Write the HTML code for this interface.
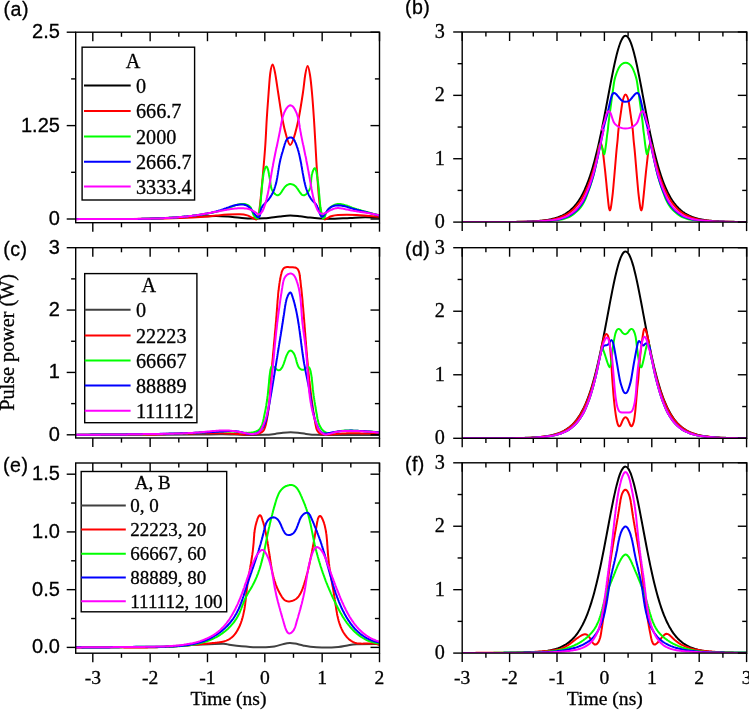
<!DOCTYPE html>
<html><head><meta charset="utf-8"><title>Pulse power</title>
<style>
html,body{margin:0;padding:0;background:#fff;}
body{width:749px;height:710px;overflow:hidden;font-family:"Liberation Sans",sans-serif;}
svg{display:block;will-change:transform;}
text{stroke:#000;stroke-width:0.3px;paint-order:stroke;}
</style></head>
<body>
<svg width="749" height="710" viewBox="0 0 749 710">
<rect width="749" height="710" fill="#fff"/>
<clipPath id="cpa"><rect x="75.70" y="31.20" width="303.80" height="191.50"/></clipPath>
<g clip-path="url(#cpa)" fill="none" stroke-width="2.0" stroke-linejoin="round" stroke-linecap="round">
<path d="M75.00,219.00 C82.50,219.00 107.50,219.05 120.00,219.00 C132.50,218.95 140.00,218.97 150.00,218.70 C160.00,218.43 171.67,217.77 180.00,217.40 C188.33,217.03 194.00,216.73 200.00,216.50 C206.00,216.27 211.33,215.98 216.00,216.00 C220.67,216.02 224.00,216.30 228.00,216.60 C232.00,216.90 236.00,217.47 240.00,217.80 C244.00,218.13 248.00,218.52 252.00,218.60 C256.00,218.68 261.00,218.45 264.00,218.30 C267.00,218.15 267.33,218.02 270.00,217.70 C272.67,217.38 276.63,216.77 280.00,216.40 C283.37,216.03 286.87,215.52 290.20,215.50 C293.53,215.48 296.70,215.95 300.00,216.30 C303.30,216.65 306.67,217.25 310.00,217.60 C313.33,217.95 316.67,218.20 320.00,218.40 C323.33,218.60 325.00,218.88 330.00,218.80 C335.00,218.72 344.17,218.15 350.00,217.90 C355.83,217.65 360.00,217.33 365.00,217.30 C370.00,217.27 377.50,217.63 380.00,217.70" stroke="#000"/>
<path d="M75.00,219.00 C82.50,219.00 107.50,219.03 120.00,219.00 C132.50,218.97 140.00,218.97 150.00,218.80 C160.00,218.63 171.00,218.33 180.00,218.00 C189.00,217.67 198.00,217.20 204.00,216.80 C210.00,216.40 212.00,215.97 216.00,215.60 C220.00,215.23 224.00,214.82 228.00,214.60 C232.00,214.38 236.78,214.17 240.00,214.30 C243.22,214.43 245.30,214.85 247.30,215.40 C249.30,215.95 250.47,216.93 252.00,217.60 C253.53,218.27 255.37,220.00 256.50,219.40 C257.63,218.80 258.10,217.52 258.80,214.00 C259.50,210.48 259.90,206.18 260.70,198.30 C261.50,190.42 262.82,175.80 263.60,166.70 C264.38,157.60 264.87,151.77 265.40,143.70 C265.93,135.63 266.27,126.75 266.80,118.30 C267.33,109.85 268.02,100.55 268.60,93.00 C269.18,85.45 269.62,77.75 270.30,73.00 C270.98,68.25 271.90,64.50 272.70,64.50 C273.50,64.50 274.18,68.25 275.10,73.00 C276.02,77.75 277.02,85.45 278.20,93.00 C279.38,100.55 280.78,110.92 282.20,118.30 C283.62,125.68 285.37,132.85 286.70,137.30 C288.03,141.75 288.98,145.00 290.20,145.00 C291.42,145.00 292.58,141.75 294.00,137.30 C295.42,132.85 297.22,125.68 298.70,118.30 C300.18,110.92 301.82,100.22 302.90,93.00 C303.98,85.78 304.42,79.48 305.20,75.00 C305.98,70.52 306.80,66.10 307.60,66.10 C308.40,66.10 309.27,70.52 310.00,75.00 C310.73,79.48 311.35,85.78 312.00,93.00 C312.65,100.22 313.33,109.85 313.90,118.30 C314.47,126.75 314.93,135.63 315.40,143.70 C315.87,151.77 316.10,157.60 316.70,166.70 C317.30,175.80 318.20,190.42 319.00,198.30 C319.80,206.18 320.58,210.48 321.50,214.00 C322.42,217.52 322.92,219.02 324.50,219.40 C326.08,219.78 328.75,217.05 331.00,216.30 C333.25,215.55 333.72,215.13 338.00,214.90 C342.28,214.67 349.70,214.58 356.70,214.90 C363.70,215.22 376.12,216.48 380.00,216.80" stroke="#ff0000"/>
<path d="M75.02,219.06L76.0,219.1L77.0,219.0L78.0,219.0L79.0,219.0L80.0,219.0L81.0,219.0L82.0,219.0L83.0,219.0L84.0,219.0L85.0,219.0L86.0,219.0L87.0,219.0L88.0,219.0L89.0,219.0L90.0,219.0L91.0,219.0L92.0,219.0L93.0,219.0L94.0,219.0L95.0,219.0L96.0,219.0L97.1,219.0L98.1,219.0L99.1,219.0L100.1,219.0L101.1,219.0L102.1,219.0L103.1,219.0L104.1,219.0L105.1,219.0L106.1,219.0L107.1,219.0L108.1,219.0L109.1,219.0L110.1,219.0L111.1,219.0L112.1,219.0L113.1,219.0L114.1,219.0L115.1,219.0L116.1,219.0L117.1,219.0L118.1,219.0L119.1,219.0L120.1,219.0L121.1,219.0L122.1,219.0L123.1,219.0L124.1,219.0L125.1,219.0L126.2,219.0L127.2,219.0L128.2,219.0L129.2,219.0L130.2,219.0L131.2,219.0L132.2,219.0L133.2,218.9L134.2,218.9L135.2,218.9L136.2,218.9L137.2,218.9L138.2,218.9L139.2,218.9L140.2,218.9L141.2,218.8L142.2,218.8L143.2,218.8L144.2,218.8L145.2,218.8L146.2,218.7L147.2,218.7L148.2,218.7L149.2,218.7L150.2,218.6L151.2,218.6L152.2,218.6L153.2,218.5L154.2,218.5L155.2,218.5L156.2,218.4L157.2,218.4L158.3,218.4L159.3,218.3L160.3,218.3L161.3,218.2L162.3,218.2L163.3,218.1L164.3,218.1L165.3,218.0L166.3,218.0L167.3,217.9L168.3,217.9L169.3,217.8L170.3,217.7L171.3,217.7L172.3,217.6L173.3,217.5L174.3,217.5L175.3,217.4L176.3,217.3L177.3,217.2L178.3,217.2L179.2,217.1L180.2,217.0L181.2,216.9L182.2,216.8L183.2,216.7L184.2,216.6L185.2,216.5L186.2,216.4L187.2,216.3L188.2,216.2L189.2,216.1L190.2,216.0L191.2,215.9L192.2,215.8L193.2,215.7L194.2,215.5L195.2,215.4L196.2,215.3L197.2,215.2L198.2,215.0L199.2,214.9L200.2,214.8L201.1,214.6L202.1,214.5L203.1,214.3L204.1,214.2L205.1,214.0L206.1,213.8L207.1,213.7L208.1,213.5L209.1,213.3L210.0,213.1L211.0,212.9L212.0,212.7L213.0,212.5L214.0,212.3L215.0,212.1L215.9,211.9L216.9,211.6L217.9,211.4L218.9,211.1L219.8,210.9L220.8,210.6L221.8,210.3L222.7,210.0L223.7,209.7L224.7,209.4L225.6,209.0L226.6,208.7L227.5,208.4L228.5,208.0L229.4,207.6L230.4,207.2L231.3,206.9L232.3,206.5L233.2,206.1L234.2,205.8L235.1,205.4L236.1,205.1L237.0,204.8L238.0,204.6L238.9,204.4L239.9,204.2L240.8,204.1L241.8,204.0L242.8,204.0L243.7,204.0L244.7,204.1L245.6,204.3L246.5,204.6L247.4,204.9L248.3,205.3L249.0,205.8L249.7,206.4L250.4,207.1L250.9,207.9L251.3,208.8L251.7,209.8L252.1,210.8L252.4,211.9L252.8,213.0L253.2,214.1L253.6,215.1L254.2,216.1L254.8,217.0L255.4,217.7L256.1,218.3L256.7,218.5L257.2,218.5L257.7,218.1L258.1,217.5L258.4,216.6L258.7,215.5L258.9,214.4L259.1,213.2L259.3,212.1L259.5,211.0L259.6,210.1L259.8,209.1L259.9,208.1L260.0,207.2L260.2,206.2L260.3,205.2L260.4,204.3L260.5,203.3L260.6,202.3L260.7,201.3L260.8,200.3L260.9,199.3L261.0,198.3L261.0,197.3L261.1,196.3L261.2,195.3L261.3,194.3L261.4,193.3L261.5,192.3L261.6,191.3L261.6,190.3L261.7,189.3L261.8,188.3L261.9,187.3L262.0,186.3L262.1,185.3L262.2,184.3L262.3,183.3L262.4,182.3L262.5,181.3L262.6,180.3L262.8,179.3L262.9,178.3L263.0,177.3L263.2,176.3L263.3,175.3L263.5,174.3L263.6,173.3L263.8,172.4L264.1,171.4L264.4,170.4L264.7,169.4L265.0,168.4L265.5,167.5L265.9,166.8L266.4,166.5L266.9,166.9L267.3,167.6L267.7,168.6L268.0,169.6L268.3,170.6L268.5,171.6L268.7,172.7L268.9,173.7L269.0,174.7L269.2,175.7L269.4,176.7L269.6,177.7L269.8,178.7L270.0,179.6L270.1,180.6L270.3,181.6L270.4,182.5L270.5,183.5L270.6,184.5L270.7,185.5L270.9,186.4L271.1,187.4L271.4,188.4L271.8,189.4L272.3,190.4L272.8,191.3L273.5,192.3L274.2,193.1L274.9,193.9L275.7,194.5L276.4,194.9L277.2,195.2L277.9,195.2L278.6,195.0L279.3,194.6L279.9,194.0L280.5,193.3L281.1,192.5L281.8,191.6L282.4,190.6L283.0,189.6L283.6,188.7L284.3,187.7L285.0,186.9L285.7,186.1L286.5,185.5L287.3,184.9L288.1,184.6L288.9,184.3L289.8,184.1L290.6,184.1L291.5,184.2L292.3,184.4L293.2,184.7L294.0,185.1L294.8,185.7L295.5,186.3L296.3,187.1L296.9,188.0L297.6,188.9L298.3,189.9L298.9,190.9L299.5,191.8L300.1,192.7L300.8,193.5L301.4,194.2L302.0,194.8L302.7,195.1L303.4,195.3L304.2,195.3L304.9,195.0L305.7,194.5L306.4,193.9L307.2,193.1L307.9,192.3L308.5,191.3L309.1,190.4L309.6,189.4L310.0,188.4L310.3,187.5L310.5,186.5L310.7,185.5L310.8,184.6L310.9,183.6L311.0,182.6L311.1,181.7L311.1,180.7L311.2,179.7L311.3,178.6L311.4,177.6L311.6,176.6L311.7,175.5L311.9,174.5L312.2,173.5L312.5,172.4L312.8,171.4L313.2,170.4L313.6,169.6L314.0,168.8L314.4,168.4L314.8,168.2L315.2,168.4L315.5,168.9L315.8,169.7L316.1,170.6L316.4,171.7L316.6,172.9L316.8,174.1L317.0,175.4L317.2,176.7L317.4,177.8L317.5,178.9L317.7,179.9L317.8,180.9L318.0,181.8L318.1,182.7L318.2,183.6L318.3,184.5L318.4,185.4L318.5,186.3L318.6,187.2L318.7,188.2L318.8,189.2L318.9,190.2L319.0,191.2L319.0,192.2L319.1,193.3L319.2,194.3L319.3,195.4L319.4,196.4L319.5,197.5L319.6,198.5L319.6,199.5L319.7,200.5L319.8,201.5L319.9,202.5L320.0,203.5L320.1,204.4L320.2,205.4L320.3,206.4L320.4,207.3L320.6,208.3L320.7,209.3L320.9,210.2L321.1,211.2L321.3,212.3L321.5,213.3L321.7,214.3L322.0,215.4L322.2,216.5L322.5,217.5L322.9,218.3L323.3,218.6L323.8,218.3L324.3,217.6L324.8,216.7L325.2,215.7L325.5,214.6L325.9,213.6L326.3,212.6L326.8,211.7L327.3,210.8L327.9,209.9L328.5,209.1L329.2,208.4L329.9,207.7L330.7,207.1L331.4,206.5L332.2,206.0L333.1,205.5L333.9,205.1L334.8,204.8L335.7,204.5L336.6,204.3L337.6,204.1L338.5,204.1L339.4,204.1L340.4,204.1L341.4,204.2L342.3,204.4L343.3,204.6L344.3,204.9L345.2,205.2L346.2,205.5L347.2,205.8L348.2,206.2L349.2,206.5L350.1,206.9L351.1,207.2L352.1,207.6L353.1,207.9L354.0,208.3L355.0,208.6L356.0,208.9L356.9,209.2L357.9,209.5L358.8,209.8L359.8,210.1L360.7,210.3L361.7,210.6L362.6,210.9L363.6,211.1L364.5,211.4L365.5,211.6L366.5,211.9L367.4,212.1L368.4,212.4L369.3,212.6L370.3,212.9L371.2,213.1L372.2,213.4L373.2,213.7L374.1,213.9L375.1,214.2L376.1,214.5L377.1,214.8L378.1,215.1L379.0,215.4L380.0,215.7" stroke="#00ff00"/>
<path d="M75.01,219.13L76.0,219.1L77.0,219.1L78.0,219.1L79.0,219.1L80.0,219.0L81.0,219.0L82.0,219.0L83.0,219.0L84.0,219.0L85.0,219.0L86.0,219.0L87.0,219.0L88.0,219.0L89.0,218.9L90.0,218.9L91.1,218.9L92.1,218.9L93.1,218.9L94.1,218.9L95.1,218.9L96.1,218.9L97.1,218.9L98.1,218.9L99.1,218.9L100.1,218.9L101.1,218.9L102.1,218.9L103.1,218.9L104.1,218.9L105.1,218.9L106.1,218.9L107.1,218.9L108.1,218.9L109.1,218.9L110.1,218.9L111.1,219.0L112.1,219.0L113.1,219.0L114.1,219.0L115.1,219.0L116.1,219.0L117.2,219.0L118.2,219.0L119.2,219.0L120.2,219.0L121.2,219.0L122.2,219.0L123.2,219.0L124.2,219.0L125.2,219.0L126.2,219.0L127.2,219.0L128.2,219.0L129.2,219.0L130.2,219.0L131.2,219.0L132.2,218.9L133.2,218.9L134.2,218.9L135.2,218.9L136.2,218.9L137.2,218.9L138.2,218.9L139.2,218.9L140.2,218.9L141.2,218.9L142.2,218.8L143.2,218.8L144.3,218.8L145.3,218.8L146.3,218.8L147.3,218.7L148.3,218.7L149.3,218.7L150.3,218.7L151.3,218.6L152.3,218.6L153.3,218.6L154.3,218.6L155.3,218.5L156.3,218.5L157.3,218.4L158.3,218.4L159.3,218.4L160.3,218.3L161.3,218.3L162.3,218.2L163.3,218.2L164.3,218.1L165.3,218.1L166.3,218.0L167.3,218.0L168.3,217.9L169.3,217.8L170.3,217.8L171.3,217.7L172.3,217.7L173.3,217.6L174.3,217.5L175.3,217.4L176.3,217.4L177.3,217.3L178.3,217.2L179.3,217.1L180.3,217.0L181.3,216.9L182.3,216.8L183.3,216.7L184.3,216.6L185.3,216.5L186.3,216.4L187.3,216.3L188.3,216.2L189.3,216.1L190.3,216.0L191.3,215.9L192.3,215.8L193.3,215.6L194.3,215.5L195.3,215.4L196.3,215.2L197.3,215.1L198.3,215.0L199.3,214.8L200.3,214.7L201.3,214.5L202.3,214.4L203.3,214.2L204.2,214.0L205.2,213.8L206.2,213.7L207.2,213.5L208.2,213.3L209.2,213.1L210.1,212.9L211.1,212.7L212.1,212.4L213.1,212.2L214.0,212.0L215.0,211.7L216.0,211.5L216.9,211.2L217.9,210.9L218.8,210.6L219.8,210.4L220.7,210.1L221.6,209.7L222.6,209.4L223.5,209.1L224.4,208.8L225.4,208.4L226.3,208.1L227.2,207.7L228.2,207.4L229.1,207.1L230.1,206.7L231.0,206.4L232.0,206.1L233.0,205.8L234.0,205.6L235.0,205.3L236.1,205.1L237.1,204.9L238.1,204.7L239.2,204.6L240.2,204.5L241.2,204.5L242.2,204.5L243.2,204.6L244.2,204.7L245.1,204.9L246.0,205.2L246.9,205.6L247.7,206.1L248.4,206.6L249.2,207.2L249.9,207.9L250.6,208.6L251.2,209.4L251.8,210.2L252.5,211.1L253.1,211.9L253.7,212.7L254.3,213.6L254.9,214.4L255.6,215.2L256.3,216.0L256.9,216.7L257.6,217.2L258.3,217.4L258.9,217.2L259.4,216.6L259.8,215.7L260.1,214.7L260.3,213.5L260.4,212.3L260.6,211.1L260.8,210.0L261.1,209.0L261.4,208.1L261.9,207.2L262.4,206.4L262.9,205.6L263.5,204.8L264.2,204.1L264.8,203.4L265.5,202.8L266.2,202.1L266.8,201.4L267.5,200.7L268.1,200.0L268.7,199.3L269.3,198.5L269.9,197.7L270.4,196.9L270.9,196.1L271.4,195.3L271.9,194.5L272.4,193.6L272.8,192.7L273.2,191.8L273.6,190.9L274.0,190.0L274.3,189.1L274.6,188.2L274.9,187.2L275.2,186.3L275.5,185.3L275.8,184.4L276.0,183.4L276.3,182.4L276.5,181.4L276.7,180.4L276.9,179.4L277.1,178.4L277.3,177.4L277.4,176.4L277.6,175.4L277.8,174.4L277.9,173.4L278.1,172.4L278.2,171.4L278.4,170.4L278.6,169.4L278.7,168.4L278.9,167.4L279.0,166.4L279.2,165.4L279.4,164.4L279.6,163.4L279.8,162.4L280.0,161.5L280.2,160.5L280.4,159.5L280.6,158.6L280.9,157.7L281.1,156.7L281.4,155.8L281.6,154.8L281.9,153.9L282.2,152.9L282.5,152.0L282.8,151.0L283.0,150.1L283.3,149.1L283.6,148.1L283.9,147.1L284.2,146.1L284.5,145.0L284.8,144.0L285.2,143.0L285.5,142.0L285.9,141.0L286.4,140.2L286.9,139.4L287.5,138.7L288.2,138.2L289.0,137.8L289.9,137.5L290.8,137.5L291.6,137.6L292.4,138.0L293.1,138.5L293.7,139.3L294.3,140.2L294.8,141.1L295.2,142.1L295.7,143.2L296.1,144.2L296.4,145.2L296.8,146.1L297.1,147.1L297.5,148.1L297.8,149.0L298.0,150.0L298.3,150.9L298.6,151.8L298.8,152.8L299.1,153.7L299.3,154.7L299.5,155.6L299.7,156.6L299.9,157.6L300.1,158.5L300.3,159.5L300.5,160.5L300.7,161.5L300.9,162.4L301.1,163.4L301.3,164.4L301.4,165.4L301.6,166.4L301.8,167.4L302.0,168.4L302.1,169.4L302.3,170.4L302.5,171.4L302.6,172.4L302.8,173.4L303.0,174.4L303.2,175.4L303.4,176.4L303.5,177.3L303.7,178.3L303.9,179.3L304.1,180.3L304.3,181.3L304.6,182.3L304.8,183.3L305.0,184.3L305.3,185.3L305.5,186.2L305.8,187.2L306.1,188.2L306.4,189.1L306.7,190.0L307.1,191.0L307.4,191.9L307.8,192.8L308.2,193.7L308.6,194.6L309.0,195.4L309.5,196.3L310.0,197.1L310.5,198.0L311.0,198.8L311.6,199.5L312.2,200.3L312.8,201.0L313.5,201.7L314.1,202.4L314.8,203.0L315.5,203.7L316.1,204.4L316.6,205.3L317.1,206.1L317.5,207.1L317.9,208.0L318.3,209.1L318.6,210.1L318.9,211.1L319.3,212.2L319.6,213.2L320.0,214.1L320.4,215.0L320.8,215.8L321.3,216.4L321.8,216.7L322.3,216.8L322.8,216.5L323.4,216.0L323.9,215.4L324.5,214.6L325.1,213.6L325.8,212.7L326.5,211.7L327.2,210.7L327.9,209.8L328.6,209.0L329.4,208.3L330.2,207.7L331.0,207.2L331.9,206.7L332.8,206.3L333.6,206.0L334.5,205.8L335.4,205.6L336.4,205.4L337.3,205.4L338.2,205.3L339.2,205.4L340.2,205.4L341.1,205.5L342.1,205.7L343.1,205.9L344.0,206.1L345.0,206.3L346.0,206.6L347.0,206.9L348.0,207.2L348.9,207.5L349.9,207.8L350.9,208.1L351.9,208.4L352.8,208.7L353.8,209.0L354.8,209.3L355.8,209.5L356.7,209.8L357.7,210.0L358.7,210.3L359.6,210.5L360.6,210.8L361.6,211.0L362.5,211.3L363.5,211.5L364.5,211.7L365.4,212.0L366.4,212.2L367.4,212.4L368.3,212.7L369.3,212.9L370.3,213.2L371.3,213.4L372.2,213.7L373.2,213.9L374.2,214.2L375.1,214.4L376.1,214.7L377.1,215.0L378.1,215.3L379.0,215.6L380.0,215.9" stroke="#0000ff"/>
<path d="M75.05,219.25L76.1,219.2L77.0,219.2L78.0,219.2L79.0,219.1L80.0,219.1L81.0,219.1L82.0,219.1L83.0,219.0L84.0,219.0L85.0,219.0L86.0,219.0L87.0,219.0L88.0,219.0L89.0,218.9L90.0,218.9L91.0,218.9L92.0,218.9L93.0,218.9L94.0,218.9L95.0,218.9L96.0,218.9L97.0,218.9L98.0,218.9L99.0,218.9L100.0,218.9L101.1,218.9L102.1,218.9L103.1,218.9L104.1,218.9L105.1,218.9L106.1,218.9L107.1,218.9L108.1,218.9L109.1,218.9L110.1,218.9L111.1,218.9L112.1,218.9L113.1,218.9L114.1,218.9L115.1,218.9L116.1,218.9L117.1,218.9L118.1,218.9L119.1,218.9L120.1,218.9L121.1,218.9L122.1,218.9L123.1,218.9L124.1,218.9L125.2,218.9L126.2,218.9L127.2,218.9L128.2,218.9L129.2,218.9L130.2,218.9L131.2,218.9L132.2,218.9L133.2,218.9L134.2,218.9L135.2,218.9L136.2,218.9L137.2,218.9L138.2,218.8L139.2,218.8L140.2,218.8L141.2,218.8L142.2,218.8L143.2,218.8L144.2,218.8L145.3,218.8L146.3,218.7L147.3,218.7L148.3,218.7L149.3,218.7L150.3,218.7L151.3,218.6L152.3,218.6L153.3,218.6L154.3,218.6L155.3,218.5L156.3,218.5L157.3,218.5L158.3,218.4L159.3,218.4L160.3,218.3L161.3,218.3L162.3,218.3L163.3,218.2L164.3,218.2L165.3,218.1L166.3,218.1L167.3,218.0L168.3,217.9L169.3,217.9L170.3,217.8L171.3,217.8L172.3,217.7L173.3,217.6L174.3,217.5L175.3,217.5L176.3,217.4L177.3,217.3L178.3,217.2L179.3,217.1L180.3,217.1L181.3,217.0L182.3,216.9L183.3,216.8L184.3,216.7L185.3,216.6L186.3,216.5L187.3,216.4L188.3,216.2L189.3,216.1L190.3,216.0L191.3,215.9L192.2,215.8L193.2,215.6L194.2,215.5L195.2,215.4L196.2,215.2L197.2,215.1L198.2,214.9L199.2,214.8L200.2,214.6L201.2,214.5L202.2,214.3L203.1,214.1L204.1,214.0L205.1,213.8L206.1,213.6L207.1,213.4L208.1,213.3L209.1,213.1L210.1,212.9L211.0,212.7L212.0,212.5L213.0,212.3L214.0,212.1L215.0,211.9L216.0,211.7L217.0,211.6L217.9,211.4L218.9,211.2L219.9,211.0L220.9,210.8L221.9,210.6L222.9,210.4L223.9,210.3L224.9,210.1L225.9,209.9L226.8,209.7L227.8,209.6L228.8,209.4L229.8,209.3L230.8,209.1L231.8,209.0L232.8,208.8L233.8,208.7L234.8,208.6L235.8,208.5L236.8,208.4L237.8,208.3L238.8,208.2L239.8,208.2L240.8,208.2L241.7,208.2L242.7,208.2L243.7,208.3L244.7,208.4L245.6,208.5L246.6,208.6L247.5,208.8L248.5,209.0L249.4,209.3L250.3,209.6L251.2,210.0L252.1,210.4L253.0,210.8L253.9,211.3L254.8,211.9L255.7,212.5L256.5,213.1L257.3,213.8L258.2,214.2L259.0,214.3L259.7,214.1L260.5,213.6L261.1,213.0L261.7,212.2L262.3,211.4L262.8,210.5L263.2,209.5L263.7,208.5L264.0,207.4L264.4,206.4L264.7,205.4L265.1,204.4L265.4,203.4L265.7,202.4L265.9,201.4L266.2,200.4L266.5,199.5L266.7,198.5L266.9,197.6L267.1,196.6L267.4,195.6L267.6,194.7L267.8,193.7L268.0,192.8L268.2,191.8L268.4,190.8L268.6,189.9L268.7,188.9L268.9,187.9L269.1,186.9L269.3,186.0L269.5,185.0L269.7,184.0L269.8,183.0L270.0,182.0L270.2,181.1L270.4,180.1L270.5,179.1L270.7,178.1L270.9,177.1L271.0,176.1L271.2,175.1L271.4,174.1L271.5,173.1L271.7,172.1L271.9,171.1L272.1,170.1L272.2,169.1L272.4,168.1L272.6,167.2L272.8,166.2L273.0,165.2L273.1,164.2L273.3,163.2L273.5,162.2L273.7,161.2L273.9,160.2L274.1,159.2L274.3,158.2L274.5,157.3L274.7,156.3L274.9,155.3L275.1,154.3L275.3,153.3L275.5,152.3L275.7,151.4L275.9,150.4L276.1,149.4L276.3,148.4L276.6,147.4L276.8,146.5L277.0,145.5L277.2,144.5L277.4,143.5L277.6,142.5L277.8,141.6L278.0,140.6L278.2,139.6L278.4,138.6L278.6,137.6L278.8,136.7L279.0,135.7L279.2,134.7L279.4,133.7L279.6,132.8L279.8,131.8L280.0,130.8L280.2,129.8L280.4,128.8L280.5,127.8L280.7,126.9L280.9,125.9L281.0,124.9L281.2,123.9L281.4,122.9L281.6,121.9L281.8,121.0L282.0,120.0L282.2,119.0L282.4,118.0L282.7,117.0L283.0,116.1L283.3,115.1L283.7,114.1L284.0,113.1L284.4,112.2L284.9,111.2L285.4,110.2L285.9,109.3L286.5,108.4L287.1,107.6L287.7,106.9L288.3,106.3L289.0,105.8L289.6,105.5L290.3,105.3L290.9,105.4L291.5,105.6L292.2,106.0L292.8,106.5L293.4,107.2L293.9,107.9L294.5,108.8L295.0,109.8L295.5,110.8L296.0,111.8L296.5,112.9L296.9,114.0L297.2,115.0L297.6,116.1L297.9,117.1L298.1,118.1L298.4,119.1L298.6,120.1L298.8,121.1L298.9,122.0L299.1,123.0L299.3,123.9L299.4,124.9L299.5,125.8L299.7,126.8L299.8,127.7L300.0,128.7L300.2,129.6L300.3,130.6L300.5,131.6L300.7,132.5L300.9,133.5L301.0,134.5L301.2,135.5L301.4,136.4L301.6,137.4L301.8,138.4L302.0,139.4L302.2,140.4L302.4,141.4L302.6,142.4L302.8,143.3L303.0,144.3L303.3,145.3L303.5,146.3L303.7,147.3L303.9,148.3L304.1,149.3L304.3,150.3L304.5,151.3L304.7,152.3L304.9,153.3L305.1,154.3L305.3,155.3L305.6,156.3L305.8,157.3L306.0,158.2L306.2,159.2L306.3,160.2L306.5,161.2L306.7,162.2L306.9,163.2L307.1,164.2L307.3,165.1L307.5,166.1L307.7,167.1L307.8,168.1L308.0,169.1L308.2,170.1L308.4,171.0L308.6,172.0L308.7,173.0L308.9,174.0L309.1,175.0L309.3,175.9L309.4,176.9L309.6,177.9L309.8,178.9L310.0,179.9L310.1,180.8L310.3,181.8L310.5,182.8L310.7,183.8L310.8,184.8L311.0,185.7L311.2,186.7L311.4,187.7L311.5,188.7L311.7,189.7L311.9,190.7L312.1,191.7L312.3,192.7L312.5,193.7L312.7,194.6L312.9,195.6L313.1,196.6L313.3,197.6L313.6,198.6L313.8,199.6L314.1,200.6L314.4,201.6L314.7,202.5L315.0,203.5L315.3,204.5L315.6,205.5L316.0,206.4L316.4,207.4L316.8,208.3L317.2,209.3L317.6,210.2L318.1,211.0L318.6,211.7L319.2,212.4L319.8,213.0L320.4,213.4L321.0,213.7L321.8,213.8L322.5,213.8L323.3,213.7L324.1,213.5L325.0,213.1L325.9,212.7L326.8,212.3L327.7,211.8L328.6,211.2L329.6,210.7L330.6,210.2L331.6,209.7L332.6,209.3L333.6,208.9L334.6,208.6L335.6,208.3L336.6,208.2L337.5,208.1L338.5,208.1L339.5,208.2L340.5,208.2L341.5,208.4L342.5,208.5L343.5,208.7L344.4,208.9L345.4,209.2L346.4,209.4L347.4,209.6L348.4,209.8L349.4,210.0L350.4,210.2L351.3,210.4L352.3,210.6L353.3,210.8L354.3,210.9L355.3,211.1L356.3,211.2L357.3,211.4L358.3,211.6L359.3,211.7L360.3,211.9L361.3,212.0L362.2,212.2L363.2,212.3L364.2,212.4L365.2,212.6L366.2,212.8L367.2,212.9L368.2,213.1L369.2,213.2L370.2,213.4L371.1,213.6L372.1,213.8L373.1,214.0L374.1,214.1L375.1,214.4L376.1,214.6L377.0,214.8L378.0,215.0L379.0,215.3L380.0,215.5" stroke="#ff00ff"/>
</g>
<clipPath id="cpc"><rect x="75.70" y="246.70" width="303.80" height="191.30"/></clipPath>
<g clip-path="url(#cpc)" fill="none" stroke-width="2.0" stroke-linejoin="round" stroke-linecap="round">
<path d="M75.00,434.90 C89.17,434.88 139.17,434.87 160.00,434.80 C180.83,434.73 189.50,434.58 200.00,434.50 C210.50,434.42 215.50,434.23 223.00,434.30 C230.50,434.37 238.00,434.82 245.00,434.90 C252.00,434.98 260.00,434.97 265.00,434.80 C270.00,434.63 272.00,434.23 275.00,433.90 C278.00,433.57 280.40,433.07 283.00,432.80 C285.60,432.53 288.10,432.30 290.60,432.30 C293.10,432.30 295.43,432.53 298.00,432.80 C300.57,433.07 303.00,433.57 306.00,433.90 C309.00,434.23 310.33,434.62 316.00,434.80 C321.67,434.98 329.33,434.97 340.00,435.00 C350.67,435.03 373.33,435.00 380.00,435.00" stroke="#404040"/>
<path d="M75.01,434.92L76.0,434.9L77.0,434.9L78.0,434.8L79.0,434.8L80.0,434.8L81.0,434.8L82.0,434.8L83.0,434.8L84.0,434.7L85.0,434.7L86.0,434.7L87.0,434.7L88.0,434.7L89.0,434.7L90.0,434.7L91.0,434.6L92.0,434.6L93.0,434.6L94.1,434.6L95.1,434.6L96.1,434.6L97.1,434.6L98.1,434.6L99.1,434.6L100.1,434.6L101.1,434.6L102.1,434.6L103.1,434.6L104.1,434.6L105.1,434.6L106.1,434.6L107.1,434.6L108.1,434.6L109.1,434.6L110.1,434.6L111.1,434.6L112.1,434.6L113.1,434.6L114.1,434.6L115.1,434.6L116.1,434.6L117.1,434.6L118.1,434.6L119.1,434.6L120.1,434.6L121.1,434.6L122.1,434.6L123.1,434.6L124.1,434.6L125.1,434.6L126.1,434.6L127.2,434.6L128.2,434.6L129.2,434.6L130.2,434.6L131.2,434.6L132.2,434.6L133.2,434.6L134.2,434.6L135.2,434.6L136.2,434.6L137.2,434.6L138.2,434.5L139.2,434.5L140.2,434.5L141.2,434.5L142.2,434.5L143.2,434.5L144.2,434.5L145.2,434.5L146.2,434.5L147.2,434.5L148.2,434.5L149.2,434.5L150.2,434.5L151.2,434.4L152.2,434.4L153.2,434.4L154.2,434.4L155.2,434.4L156.2,434.4L157.2,434.3L158.2,434.3L159.2,434.3L160.2,434.3L161.3,434.3L162.3,434.2L163.3,434.2L164.3,434.2L165.3,434.2L166.3,434.1L167.3,434.1L168.3,434.1L169.3,434.1L170.3,434.0L171.3,434.0L172.3,434.0L173.3,433.9L174.3,433.9L175.3,433.9L176.3,433.9L177.3,433.8L178.3,433.8L179.3,433.8L180.3,433.7L181.3,433.7L182.3,433.7L183.3,433.6L184.3,433.6L185.3,433.6L186.3,433.6L187.3,433.5L188.3,433.5L189.3,433.5L190.3,433.4L191.3,433.4L192.3,433.4L193.3,433.4L194.3,433.4L195.3,433.3L196.3,433.3L197.3,433.3L198.3,433.3L199.3,433.3L200.3,433.2L201.3,433.2L202.3,433.2L203.3,433.2L204.4,433.2L205.4,433.2L206.4,433.2L207.4,433.2L208.4,433.2L209.4,433.2L210.4,433.2L211.4,433.2L212.4,433.2L213.4,433.2L214.4,433.2L215.4,433.2L216.4,433.2L217.4,433.2L218.4,433.2L219.4,433.2L220.4,433.3L221.4,433.3L222.4,433.3L223.4,433.3L224.4,433.4L225.4,433.4L226.4,433.4L227.4,433.5L228.4,433.5L229.4,433.6L230.4,433.6L231.4,433.7L232.4,433.7L233.5,433.8L234.5,433.8L235.5,433.9L236.5,434.0L237.5,434.0L238.5,434.1L239.5,434.2L240.5,434.3L241.5,434.3L242.5,434.4L243.5,434.4L244.5,434.5L245.5,434.5L246.5,434.6L247.5,434.6L248.5,434.6L249.5,434.6L250.5,434.6L251.5,434.5L252.5,434.5L253.4,434.4L254.4,434.3L255.4,434.2L256.4,434.0L257.4,433.8L258.3,433.6L259.2,433.3L260.1,433.0L261.0,432.6L261.7,432.2L262.5,431.6L263.1,431.0L263.7,430.3L264.1,429.5L264.5,428.6L264.9,427.7L265.2,426.7L265.5,425.7L265.8,424.7L266.0,423.7L266.2,422.7L266.4,421.6L266.7,420.6L266.9,419.6L267.0,418.6L267.2,417.6L267.4,416.6L267.6,415.5L267.8,414.5L267.9,413.5L268.1,412.5L268.2,411.5L268.3,410.5L268.5,409.5L268.6,408.5L268.7,407.5L268.8,406.5L269.0,405.5L269.1,404.5L269.2,403.5L269.3,402.5L269.4,401.5L269.5,400.5L269.5,399.5L269.6,398.5L269.7,397.5L269.8,396.5L269.9,395.5L269.9,394.5L270.0,393.5L270.1,392.5L270.2,391.5L270.2,390.5L270.3,389.5L270.4,388.5L270.4,387.5L270.5,386.5L270.6,385.5L270.6,384.5L270.7,383.5L270.8,382.5L270.8,381.5L270.9,380.5L271.0,379.5L271.0,378.6L271.1,377.6L271.2,376.6L271.3,375.6L271.3,374.6L271.4,373.6L271.5,372.6L271.6,371.6L271.7,370.6L271.7,369.6L271.8,368.6L271.9,367.6L272.0,366.6L272.1,365.6L272.2,364.6L272.2,363.6L272.3,362.6L272.4,361.6L272.5,360.6L272.6,359.6L272.7,358.6L272.8,357.6L272.9,356.6L272.9,355.6L273.0,354.6L273.1,353.7L273.2,352.7L273.3,351.7L273.4,350.7L273.5,349.7L273.6,348.7L273.7,347.7L273.8,346.7L273.8,345.7L273.9,344.7L274.0,343.7L274.1,342.7L274.2,341.7L274.3,340.7L274.4,339.7L274.5,338.7L274.6,337.7L274.7,336.7L274.8,335.7L274.8,334.7L274.9,333.7L275.0,332.7L275.1,331.7L275.2,330.7L275.3,329.7L275.4,328.7L275.5,327.7L275.6,326.7L275.6,325.7L275.7,324.6L275.8,323.6L275.9,322.6L276.0,321.6L276.1,320.6L276.2,319.6L276.2,318.6L276.3,317.6L276.4,316.6L276.5,315.6L276.6,314.6L276.6,313.6L276.7,312.6L276.8,311.6L276.9,310.6L276.9,309.6L277.0,308.6L277.1,307.6L277.2,306.6L277.2,305.6L277.3,304.6L277.4,303.5L277.5,302.5L277.5,301.5L277.6,300.5L277.7,299.5L277.8,298.5L277.9,297.5L278.0,296.5L278.1,295.5L278.1,294.5L278.2,293.5L278.3,292.5L278.4,291.5L278.6,290.5L278.7,289.6L278.8,288.6L278.9,287.6L279.0,286.6L279.2,285.6L279.3,284.6L279.4,283.6L279.6,282.7L279.7,281.7L279.9,280.7L280.1,279.8L280.3,278.8L280.4,277.8L280.6,276.9L280.8,275.9L281.0,274.9L281.3,274.0L281.5,273.0L281.7,272.1L282.0,271.2L282.4,270.4L282.8,269.6L283.2,268.9L283.8,268.3L284.4,267.8L285.1,267.4L286.0,267.2L287.0,267.1L288.1,267.1L289.3,267.2L290.5,267.3L291.8,267.3L293.0,267.3L294.1,267.4L295.0,267.5L295.9,267.8L296.6,268.2L297.3,268.7L297.8,269.3L298.2,270.0L298.6,270.8L298.9,271.6L299.2,272.5L299.4,273.4L299.6,274.3L299.7,275.3L299.9,276.3L300.0,277.3L300.1,278.3L300.2,279.3L300.3,280.3L300.5,281.3L300.6,282.3L300.7,283.3L300.8,284.3L300.9,285.3L301.0,286.3L301.1,287.3L301.3,288.3L301.4,289.3L301.5,290.3L301.6,291.3L301.7,292.3L301.8,293.3L301.9,294.3L302.0,295.3L302.1,296.3L302.2,297.3L302.3,298.3L302.4,299.3L302.5,300.3L302.6,301.3L302.6,302.3L302.7,303.3L302.8,304.3L302.9,305.3L303.0,306.3L303.1,307.3L303.2,308.3L303.3,309.3L303.3,310.3L303.4,311.3L303.5,312.3L303.6,313.3L303.7,314.3L303.8,315.3L303.8,316.3L303.9,317.3L304.0,318.3L304.1,319.3L304.2,320.3L304.2,321.3L304.3,322.3L304.4,323.3L304.5,324.3L304.6,325.3L304.6,326.3L304.7,327.3L304.8,328.3L304.9,329.3L304.9,330.3L305.0,331.3L305.1,332.3L305.2,333.3L305.3,334.3L305.3,335.3L305.4,336.3L305.5,337.3L305.6,338.3L305.6,339.3L305.7,340.3L305.8,341.3L305.9,342.3L306.0,343.3L306.0,344.3L306.1,345.3L306.2,346.3L306.3,347.3L306.4,348.3L306.4,349.3L306.5,350.3L306.6,351.3L306.7,352.3L306.8,353.3L306.9,354.3L307.0,355.3L307.0,356.3L307.1,357.3L307.2,358.3L307.3,359.3L307.4,360.3L307.5,361.3L307.6,362.3L307.7,363.3L307.8,364.2L307.8,365.2L307.9,366.2L308.0,367.2L308.1,368.2L308.2,369.2L308.3,370.2L308.4,371.2L308.5,372.2L308.6,373.2L308.7,374.2L308.8,375.2L308.9,376.2L309.0,377.2L309.1,378.2L309.2,379.2L309.3,380.2L309.5,381.1L309.6,382.1L309.7,383.1L309.8,384.1L309.9,385.1L310.0,386.1L310.1,387.1L310.3,388.1L310.4,389.1L310.5,390.1L310.6,391.1L310.7,392.1L310.9,393.1L311.0,394.1L311.1,395.1L311.2,396.1L311.4,397.1L311.5,398.1L311.6,399.1L311.8,400.1L311.9,401.1L312.0,402.1L312.2,403.1L312.3,404.1L312.5,405.1L312.6,406.1L312.7,407.1L312.9,408.1L313.0,409.1L313.2,410.1L313.3,411.1L313.5,412.1L313.7,413.1L313.8,414.1L314.0,415.1L314.1,416.2L314.3,417.2L314.5,418.2L314.6,419.2L314.8,420.2L315.0,421.2L315.1,422.2L315.3,423.2L315.5,424.2L315.7,425.3L315.9,426.3L316.1,427.2L316.3,428.2L316.6,429.1L317.0,430.0L317.4,430.8L317.9,431.5L318.4,432.2L319.0,432.8L319.8,433.3L320.6,433.7L321.6,433.9L322.6,434.2L323.6,434.3L324.7,434.4L325.8,434.5L326.9,434.5L327.9,434.5L329.0,434.5L330.0,434.5L331.1,434.4L332.1,434.4L333.1,434.3L334.1,434.3L335.1,434.2L336.1,434.1L337.0,434.0L338.0,433.9L339.0,433.8L340.0,433.8L340.9,433.7L341.9,433.6L342.9,433.5L343.9,433.5L344.9,433.4L345.9,433.4L346.8,433.3L347.8,433.3L348.8,433.3L349.8,433.2L350.8,433.2L351.8,433.2L352.8,433.2L353.9,433.2L354.9,433.2L355.9,433.2L356.9,433.3L357.9,433.3L358.9,433.3L359.9,433.3L360.9,433.4L362.0,433.4L363.0,433.4L364.0,433.5L365.0,433.5L366.0,433.5L367.0,433.5L368.0,433.6L369.0,433.6L370.0,433.6L371.0,433.7L372.0,433.7L373.0,433.7L374.0,433.7L375.0,433.7L376.0,433.8L377.0,433.8L378.0,433.8L379.0,433.8L379.9,433.7" stroke="#ff0000"/>
<path d="M75.01,434.92L76.0,434.9L77.0,434.9L78.0,434.8L79.0,434.8L80.0,434.8L81.0,434.8L82.0,434.8L83.0,434.7L84.0,434.7L85.0,434.7L86.0,434.7L87.0,434.7L88.1,434.7L89.1,434.6L90.1,434.6L91.1,434.6L92.1,434.6L93.1,434.6L94.1,434.6L95.1,434.6L96.1,434.5L97.1,434.5L98.1,434.5L99.1,434.5L100.1,434.5L101.1,434.5L102.1,434.5L103.1,434.5L104.1,434.5L105.1,434.5L106.1,434.4L107.1,434.4L108.1,434.4L109.1,434.4L110.1,434.4L111.1,434.4L112.1,434.4L113.2,434.4L114.2,434.4L115.2,434.4L116.2,434.4L117.2,434.4L118.2,434.4L119.2,434.4L120.2,434.3L121.2,434.3L122.2,434.3L123.2,434.3L124.2,434.3L125.2,434.3L126.2,434.3L127.2,434.3L128.2,434.3L129.2,434.3L130.2,434.3L131.2,434.3L132.2,434.3L133.2,434.3L134.2,434.3L135.2,434.2L136.3,434.2L137.3,434.2L138.3,434.2L139.3,434.2L140.3,434.2L141.3,434.2L142.3,434.2L143.3,434.2L144.3,434.2L145.3,434.2L146.3,434.1L147.3,434.1L148.3,434.1L149.3,434.1L150.3,434.1L151.3,434.1L152.3,434.1L153.3,434.1L154.3,434.0L155.3,434.0L156.3,434.0L157.3,434.0L158.4,434.0L159.4,434.0L160.4,433.9L161.4,433.9L162.4,433.9L163.4,433.9L164.4,433.9L165.4,433.9L166.4,433.8L167.4,433.8L168.4,433.8L169.4,433.8L170.4,433.7L171.4,433.7L172.4,433.7L173.4,433.7L174.4,433.6L175.4,433.6L176.4,433.6L177.4,433.5L178.4,433.5L179.4,433.5L180.4,433.4L181.4,433.4L182.4,433.4L183.4,433.3L184.4,433.3L185.5,433.3L186.5,433.2L187.5,433.2L188.5,433.1L189.5,433.1L190.5,433.1L191.5,433.0L192.5,433.0L193.5,432.9L194.5,432.9L195.5,432.8L196.5,432.8L197.5,432.7L198.5,432.7L199.5,432.6L200.5,432.6L201.5,432.5L202.5,432.4L203.5,432.4L204.5,432.3L205.5,432.3L206.5,432.2L207.5,432.1L208.5,432.1L209.5,432.0L210.5,431.9L211.5,431.9L212.5,431.8L213.5,431.8L214.5,431.7L215.5,431.7L216.5,431.6L217.5,431.6L218.5,431.5L219.5,431.5L220.5,431.5L221.5,431.4L222.5,431.4L223.5,431.4L224.5,431.4L225.6,431.4L226.6,431.4L227.6,431.4L228.6,431.4L229.6,431.4L230.6,431.5L231.6,431.5L232.6,431.6L233.6,431.6L234.6,431.7L235.6,431.8L236.6,431.9L237.6,432.0L238.6,432.1L239.7,432.2L240.7,432.4L241.7,432.5L242.7,432.6L243.7,432.7L244.7,432.7L245.7,432.8L246.7,432.8L247.7,432.9L248.7,432.8L249.6,432.8L250.6,432.7L251.6,432.6L252.6,432.5L253.5,432.3L254.4,432.0L255.3,431.8L256.2,431.4L257.1,431.0L257.8,430.5L258.6,430.0L259.3,429.4L259.9,428.7L260.5,427.9L261.0,427.1L261.4,426.2L261.8,425.3L262.2,424.3L262.5,423.3L262.8,422.2L263.1,421.2L263.3,420.1L263.6,419.0L263.8,418.0L264.0,416.9L264.2,415.9L264.4,414.9L264.6,414.0L264.8,413.0L265.0,412.1L265.2,411.1L265.4,410.2L265.6,409.2L265.8,408.3L265.9,407.3L266.1,406.4L266.3,405.4L266.4,404.5L266.6,403.5L266.7,402.5L266.9,401.5L267.0,400.5L267.2,399.5L267.3,398.5L267.4,397.5L267.5,396.5L267.7,395.4L267.8,394.4L267.9,393.4L268.0,392.4L268.1,391.4L268.2,390.3L268.3,389.3L268.4,388.3L268.5,387.3L268.6,386.3L268.7,385.3L268.8,384.3L268.9,383.3L269.0,382.4L269.1,381.4L269.1,380.4L269.2,379.5L269.3,378.5L269.4,377.6L269.5,376.6L269.6,375.6L269.8,374.6L269.9,373.5L270.1,372.5L270.2,371.3L270.5,370.1L270.7,369.0L271.0,367.9L271.3,367.1L271.7,366.4L272.2,366.1L272.8,366.1L273.4,366.4L274.1,367.0L274.9,367.7L275.6,368.5L276.5,369.2L277.3,369.8L278.1,370.2L278.9,370.3L279.7,370.1L280.4,369.7L281.0,369.0L281.6,368.2L282.2,367.2L282.7,366.2L283.1,365.2L283.5,364.3L283.9,363.3L284.2,362.4L284.5,361.5L284.8,360.6L285.1,359.7L285.4,358.7L285.7,357.7L286.1,356.7L286.5,355.6L287.0,354.6L287.5,353.6L288.0,352.6L288.6,351.8L289.1,351.2L289.8,350.8L290.4,350.6L291.1,350.7L291.7,351.0L292.4,351.6L293.0,352.3L293.6,353.1L294.1,354.0L294.6,355.0L295.0,356.0L295.3,357.0L295.7,358.1L296.0,359.2L296.3,360.2L296.5,361.3L296.8,362.4L297.1,363.4L297.5,364.4L297.8,365.4L298.2,366.3L298.7,367.1L299.2,367.8L299.8,368.5L300.4,369.0L301.1,369.5L301.9,369.7L302.7,369.8L303.5,369.7L304.3,369.4L305.1,368.8L305.9,368.2L306.6,367.5L307.3,367.1L307.9,366.9L308.5,367.0L309.0,367.4L309.4,367.9L309.8,368.7L310.1,369.5L310.4,370.5L310.7,371.6L310.9,372.8L311.1,373.9L311.3,375.1L311.5,376.2L311.6,377.3L311.8,378.4L311.9,379.5L312.0,380.5L312.1,381.5L312.2,382.5L312.3,383.4L312.4,384.4L312.5,385.4L312.6,386.3L312.7,387.3L312.7,388.2L312.8,389.2L313.0,390.1L313.1,391.1L313.2,392.0L313.3,393.0L313.4,394.0L313.6,395.0L313.7,395.9L313.9,396.9L314.0,397.9L314.2,398.9L314.3,399.9L314.5,400.9L314.6,401.9L314.8,402.9L315.0,403.9L315.1,404.9L315.3,405.9L315.5,407.0L315.6,408.0L315.8,409.0L316.0,410.0L316.1,411.0L316.3,412.0L316.5,413.0L316.7,414.0L316.8,415.0L317.0,416.0L317.2,417.0L317.3,418.0L317.5,419.0L317.8,419.9L318.0,420.9L318.3,421.9L318.5,422.8L318.9,423.8L319.2,424.7L319.6,425.6L320.1,426.5L320.6,427.4L321.1,428.2L321.7,429.0L322.3,429.8L323.0,430.5L323.7,431.1L324.5,431.7L325.3,432.2L326.1,432.5L327.0,432.8L327.9,433.0L328.8,433.0L329.8,433.0L330.7,433.0L331.7,432.9L332.8,432.7L333.8,432.5L334.8,432.3L335.9,432.0L336.9,431.8L338.0,431.5L339.0,431.3L340.0,431.1L341.1,430.9L342.1,430.8L343.1,430.7L344.1,430.6L345.1,430.5L346.1,430.5L347.0,430.5L348.0,430.5L349.0,430.5L350.0,430.5L350.9,430.6L351.9,430.6L352.9,430.6L353.9,430.7L354.9,430.7L355.9,430.7L356.9,430.8L357.9,430.8L358.9,430.9L359.9,430.9L360.9,431.0L361.9,431.0L362.9,431.1L364.0,431.1L365.0,431.2L366.0,431.2L367.0,431.3L368.0,431.3L369.0,431.4L370.0,431.5L371.0,431.6L372.0,431.6L373.0,431.7L374.0,431.8L375.0,431.9L376.0,432.0L377.0,432.1L378.0,432.2L379.0,432.3L380.0,432.5" stroke="#00ff00"/>
<path d="M75.03,434.78L76.0,434.8L77.0,434.8L78.0,434.7L79.0,434.7L80.0,434.7L81.0,434.7L82.0,434.7L83.0,434.7L84.0,434.7L85.0,434.7L86.0,434.7L87.0,434.7L88.0,434.7L89.0,434.7L90.0,434.7L91.0,434.6L92.0,434.6L93.0,434.6L94.0,434.6L95.0,434.6L96.0,434.6L97.0,434.6L98.0,434.6L99.0,434.6L100.0,434.6L101.0,434.6L102.0,434.6L103.0,434.6L104.0,434.5L105.0,434.5L106.0,434.5L107.0,434.5L108.0,434.5L109.0,434.5L110.0,434.5L111.1,434.5L112.1,434.5L113.1,434.5L114.1,434.5L115.1,434.5L116.1,434.5L117.1,434.4L118.1,434.4L119.1,434.4L120.1,434.4L121.1,434.4L122.1,434.4L123.1,434.4L124.1,434.4L125.1,434.4L126.1,434.4L127.1,434.3L128.1,434.3L129.1,434.3L130.1,434.3L131.1,434.3L132.1,434.3L133.1,434.3L134.1,434.3L135.1,434.3L136.1,434.2L137.1,434.2L138.1,434.2L139.1,434.2L140.1,434.2L141.1,434.2L142.1,434.2L143.1,434.1L144.1,434.1L145.1,434.1L146.1,434.1L147.1,434.1L148.2,434.1L149.2,434.1L150.2,434.0L151.2,434.0L152.2,434.0L153.2,434.0L154.2,434.0L155.2,433.9L156.2,433.9L157.2,433.9L158.2,433.9L159.2,433.9L160.2,433.8L161.2,433.8L162.2,433.8L163.2,433.8L164.2,433.8L165.2,433.7L166.2,433.7L167.2,433.7L168.2,433.7L169.2,433.6L170.2,433.6L171.2,433.6L172.2,433.6L173.2,433.5L174.2,433.5L175.2,433.5L176.2,433.4L177.2,433.4L178.2,433.4L179.2,433.4L180.2,433.3L181.2,433.3L182.2,433.3L183.2,433.2L184.2,433.2L185.2,433.2L186.2,433.1L187.2,433.1L188.2,433.1L189.2,433.0L190.2,433.0L191.2,432.9L192.2,432.9L193.2,432.9L194.2,432.8L195.2,432.8L196.2,432.8L197.2,432.7L198.2,432.7L199.2,432.6L200.2,432.6L201.2,432.5L202.2,432.5L203.2,432.4L204.2,432.4L205.2,432.4L206.2,432.3L207.2,432.3L208.2,432.2L209.2,432.2L210.2,432.1L211.2,432.1L212.2,432.0L213.2,431.9L214.2,431.9L215.2,431.8L216.2,431.8L217.2,431.7L218.2,431.7L219.2,431.6L220.2,431.5L221.2,431.5L222.2,431.4L223.1,431.4L224.1,431.3L225.1,431.2L226.1,431.2L227.1,431.1L228.1,431.1L229.1,431.1L230.1,431.0L231.1,431.0L232.1,431.0L233.1,431.1L234.1,431.1L235.1,431.2L236.1,431.3L237.2,431.4L238.2,431.5L239.2,431.7L240.2,431.9L241.2,432.1L242.3,432.4L243.3,432.7L244.3,432.9L245.3,433.2L246.4,433.5L247.4,433.7L248.4,433.9L249.4,434.1L250.4,434.2L251.3,434.3L252.3,434.3L253.2,434.2L254.1,434.0L255.0,433.8L255.9,433.4L256.8,433.1L257.6,432.6L258.4,432.1L259.2,431.5L259.9,430.9L260.6,430.3L261.3,429.6L261.9,428.8L262.5,428.1L263.0,427.3L263.5,426.4L264.0,425.6L264.4,424.7L264.8,423.8L265.2,422.9L265.5,422.0L265.8,421.1L266.1,420.1L266.3,419.1L266.6,418.2L266.8,417.2L267.0,416.2L267.2,415.2L267.4,414.2L267.6,413.2L267.8,412.2L268.0,411.2L268.2,410.2L268.4,409.2L268.5,408.2L268.7,407.2L268.9,406.2L269.1,405.3L269.3,404.3L269.5,403.3L269.6,402.3L269.8,401.3L270.0,400.3L270.2,399.3L270.3,398.3L270.5,397.3L270.7,396.3L270.9,395.3L271.0,394.3L271.2,393.3L271.4,392.3L271.6,391.3L271.7,390.3L271.9,389.3L272.1,388.3L272.2,387.3L272.4,386.4L272.6,385.4L272.7,384.4L272.9,383.4L273.1,382.4L273.2,381.4L273.4,380.4L273.6,379.4L273.7,378.4L273.9,377.4L274.0,376.4L274.2,375.4L274.4,374.5L274.5,373.5L274.7,372.5L274.8,371.5L275.0,370.5L275.2,369.5L275.3,368.5L275.5,367.5L275.6,366.5L275.8,365.6L276.0,364.6L276.1,363.6L276.3,362.6L276.4,361.6L276.6,360.6L276.7,359.6L276.9,358.7L277.1,357.7L277.2,356.7L277.4,355.7L277.5,354.7L277.7,353.7L277.8,352.8L278.0,351.8L278.2,350.8L278.3,349.8L278.5,348.8L278.6,347.9L278.8,346.9L278.9,345.9L279.1,344.9L279.2,344.0L279.4,343.0L279.6,342.0L279.7,341.0L279.9,340.1L280.0,339.1L280.2,338.1L280.3,337.1L280.5,336.2L280.7,335.2L280.8,334.2L281.0,333.2L281.1,332.2L281.3,331.3L281.5,330.3L281.6,329.3L281.8,328.3L281.9,327.3L282.1,326.3L282.2,325.3L282.4,324.3L282.6,323.3L282.7,322.3L282.9,321.3L283.0,320.3L283.2,319.3L283.3,318.3L283.5,317.3L283.6,316.3L283.8,315.2L284.0,314.2L284.1,313.2L284.3,312.1L284.4,311.1L284.6,310.0L284.7,309.0L284.9,307.9L285.0,306.9L285.2,305.8L285.4,304.8L285.6,303.7L285.7,302.7L286.0,301.7L286.2,300.7L286.4,299.7L286.7,298.7L287.0,297.8L287.4,296.9L287.7,296.0L288.1,295.1L288.5,294.3L289.0,293.6L289.4,293.0L289.9,292.6L290.3,292.5L290.7,292.7L291.1,293.1L291.5,293.8L291.8,294.6L292.1,295.5L292.4,296.4L292.7,297.4L293.0,298.3L293.3,299.2L293.6,300.2L293.8,301.1L294.1,302.0L294.4,303.0L294.6,303.9L294.8,304.9L295.1,305.9L295.3,306.8L295.5,307.8L295.8,308.7L296.0,309.7L296.2,310.7L296.4,311.6L296.6,312.6L296.8,313.6L297.0,314.6L297.2,315.6L297.3,316.5L297.5,317.5L297.7,318.5L297.9,319.5L298.0,320.5L298.2,321.5L298.3,322.5L298.5,323.5L298.7,324.5L298.8,325.4L299.0,326.4L299.1,327.4L299.2,328.4L299.4,329.4L299.5,330.4L299.7,331.4L299.8,332.4L299.9,333.5L300.1,334.5L300.2,335.5L300.3,336.5L300.5,337.5L300.6,338.5L300.7,339.5L300.9,340.5L301.0,341.5L301.1,342.5L301.2,343.5L301.4,344.5L301.5,345.5L301.6,346.5L301.8,347.5L301.9,348.5L302.0,349.5L302.2,350.5L302.3,351.5L302.4,352.5L302.6,353.5L302.7,354.5L302.9,355.5L303.0,356.5L303.2,357.5L303.3,358.5L303.5,359.5L303.6,360.5L303.8,361.5L304.0,362.5L304.1,363.4L304.3,364.4L304.5,365.4L304.7,366.4L304.9,367.4L305.0,368.4L305.2,369.3L305.4,370.3L305.6,371.3L305.8,372.3L306.0,373.2L306.2,374.2L306.4,375.2L306.6,376.1L306.8,377.1L307.0,378.1L307.2,379.1L307.4,380.0L307.6,381.0L307.8,382.0L308.0,383.0L308.2,383.9L308.4,384.9L308.6,385.9L308.8,386.9L309.0,387.8L309.1,388.8L309.3,389.8L309.5,390.8L309.7,391.7L309.9,392.7L310.1,393.7L310.2,394.7L310.4,395.7L310.6,396.7L310.8,397.7L310.9,398.7L311.1,399.7L311.2,400.7L311.4,401.7L311.5,402.7L311.7,403.7L311.8,404.7L312.0,405.7L312.2,406.7L312.3,407.7L312.5,408.7L312.7,409.7L312.8,410.7L313.0,411.6L313.2,412.6L313.4,413.6L313.7,414.6L313.9,415.6L314.1,416.6L314.4,417.5L314.6,418.5L314.9,419.5L315.2,420.4L315.5,421.4L315.8,422.3L316.2,423.3L316.6,424.2L316.9,425.1L317.3,426.1L317.8,427.0L318.2,427.9L318.7,428.8L319.2,429.6L319.8,430.4L320.3,431.2L321.0,431.8L321.6,432.4L322.4,432.9L323.2,433.2L324.0,433.4L324.9,433.5L325.9,433.5L326.9,433.4L327.9,433.3L328.9,433.1L329.9,432.9L331.0,432.6L332.0,432.4L333.0,432.2L334.1,432.0L335.1,431.9L336.1,431.7L337.1,431.6L338.1,431.4L339.1,431.3L340.1,431.2L341.1,431.1L342.1,431.0L343.1,430.9L344.1,430.9L345.0,430.8L346.0,430.7L347.0,430.7L348.0,430.7L349.0,430.7L350.0,430.6L351.0,430.6L352.0,430.6L353.0,430.7L354.0,430.7L355.0,430.7L356.0,430.7L357.0,430.8L358.0,430.8L359.0,430.9L360.0,430.9L361.0,431.0L362.0,431.0L363.0,431.1L364.0,431.2L365.0,431.2L366.0,431.3L367.0,431.4L368.0,431.5L369.0,431.6L370.0,431.6L371.0,431.7L372.0,431.8L373.0,431.9L374.0,432.0L375.0,432.1L376.0,432.2L377.0,432.2L378.0,432.3L379.0,432.4L380.0,432.5" stroke="#0000ff"/>
<path d="M74.99,434.73L76.0,434.7L77.0,434.7L78.0,434.7L79.0,434.7L80.0,434.7L81.0,434.7L82.0,434.7L83.0,434.7L84.0,434.7L85.0,434.7L86.0,434.7L87.0,434.7L88.0,434.7L89.0,434.7L90.0,434.7L91.0,434.7L92.0,434.7L93.0,434.7L94.0,434.7L95.1,434.7L96.1,434.7L97.1,434.7L98.1,434.7L99.1,434.7L100.1,434.7L101.1,434.6L102.1,434.6L103.1,434.6L104.1,434.6L105.1,434.6L106.1,434.6L107.1,434.6L108.1,434.6L109.1,434.6L110.1,434.6L111.1,434.6L112.1,434.5L113.1,434.5L114.1,434.5L115.1,434.5L116.1,434.5L117.1,434.5L118.1,434.5L119.1,434.5L120.1,434.5L121.1,434.4L122.1,434.4L123.1,434.4L124.1,434.4L125.1,434.4L126.1,434.4L127.1,434.4L128.1,434.3L129.1,434.3L130.1,434.3L131.1,434.3L132.1,434.3L133.1,434.3L134.1,434.3L135.1,434.3L136.1,434.2L137.1,434.2L138.1,434.2L139.1,434.2L140.1,434.2L141.1,434.2L142.1,434.2L143.2,434.1L144.2,434.1L145.2,434.1L146.2,434.1L147.2,434.1L148.2,434.1L149.2,434.0L150.2,434.0L151.2,434.0L152.2,434.0L153.2,434.0L154.2,434.0L155.2,434.0L156.2,433.9L157.2,433.9L158.2,433.9L159.2,433.9L160.2,433.9L161.2,433.9L162.2,433.9L163.2,433.8L164.2,433.8L165.2,433.8L166.2,433.8L167.2,433.8L168.2,433.8L169.2,433.7L170.2,433.7L171.2,433.7L172.2,433.7L173.2,433.7L174.2,433.6L175.2,433.6L176.2,433.6L177.2,433.5L178.2,433.5L179.2,433.5L180.2,433.5L181.2,433.4L182.2,433.4L183.2,433.3L184.3,433.3L185.3,433.3L186.3,433.2L187.3,433.2L188.3,433.1L189.3,433.1L190.3,433.0L191.3,432.9L192.3,432.9L193.3,432.8L194.3,432.8L195.3,432.7L196.3,432.6L197.3,432.5L198.3,432.4L199.3,432.4L200.3,432.3L201.3,432.2L202.2,432.1L203.2,432.0L204.2,431.9L205.2,431.8L206.2,431.7L207.2,431.6L208.2,431.5L209.2,431.4L210.2,431.3L211.2,431.2L212.2,431.1L213.2,431.0L214.2,431.0L215.2,430.9L216.2,430.8L217.2,430.7L218.2,430.7L219.2,430.6L220.2,430.6L221.2,430.6L222.2,430.5L223.2,430.5L224.2,430.5L225.2,430.5L226.2,430.5L227.2,430.5L228.2,430.6L229.2,430.6L230.2,430.7L231.2,430.8L232.2,430.9L233.2,431.0L234.2,431.1L235.2,431.2L236.2,431.4L237.2,431.6L238.2,431.7L239.2,431.9L240.2,432.1L241.2,432.3L242.2,432.5L243.2,432.7L244.2,432.9L245.2,433.1L246.2,433.3L247.2,433.5L248.2,433.6L249.2,433.7L250.1,433.8L251.1,433.9L252.1,433.9L253.1,433.9L254.0,433.8L255.0,433.8L255.9,433.6L256.8,433.4L257.6,433.1L258.4,432.6L259.2,432.1L259.8,431.5L260.4,430.7L261.0,429.9L261.5,429.0L262.0,428.1L262.4,427.2L262.8,426.3L263.3,425.3L263.7,424.4L264.0,423.4L264.4,422.5L264.8,421.5L265.1,420.6L265.4,419.6L265.7,418.7L266.0,417.7L266.3,416.8L266.6,415.8L266.8,414.8L267.1,413.9L267.3,412.9L267.5,411.9L267.7,410.9L267.9,410.0L268.1,409.0L268.3,408.0L268.5,407.0L268.7,406.0L268.8,405.0L269.0,404.1L269.1,403.1L269.3,402.1L269.4,401.1L269.5,400.1L269.7,399.1L269.8,398.1L269.9,397.1L270.0,396.1L270.1,395.1L270.2,394.1L270.3,393.1L270.4,392.2L270.5,391.2L270.6,390.2L270.7,389.2L270.8,388.2L270.9,387.2L271.0,386.2L271.1,385.2L271.2,384.2L271.3,383.2L271.4,382.2L271.5,381.2L271.6,380.2L271.7,379.2L271.8,378.2L271.9,377.2L272.0,376.2L272.1,375.2L272.2,374.2L272.3,373.2L272.4,372.2L272.5,371.2L272.6,370.2L272.7,369.2L272.8,368.2L272.9,367.2L272.9,366.2L273.0,365.2L273.1,364.2L273.2,363.2L273.3,362.2L273.4,361.2L273.5,360.2L273.6,359.2L273.7,358.2L273.8,357.2L273.9,356.1L274.0,355.1L274.1,354.2L274.2,353.2L274.2,352.2L274.3,351.2L274.4,350.2L274.5,349.2L274.6,348.2L274.7,347.2L274.8,346.2L274.9,345.2L275.0,344.2L275.1,343.2L275.2,342.2L275.3,341.2L275.4,340.2L275.5,339.2L275.6,338.2L275.7,337.2L275.8,336.2L275.9,335.2L276.0,334.2L276.1,333.2L276.2,332.2L276.3,331.2L276.4,330.2L276.6,329.3L276.7,328.3L276.8,327.3L276.9,326.3L277.0,325.3L277.1,324.3L277.2,323.3L277.3,322.3L277.5,321.4L277.6,320.4L277.7,319.4L277.8,318.4L278.0,317.4L278.1,316.4L278.2,315.5L278.3,314.5L278.5,313.5L278.6,312.5L278.7,311.5L278.8,310.5L279.0,309.5L279.1,308.6L279.3,307.6L279.4,306.6L279.5,305.6L279.7,304.6L279.8,303.6L280.0,302.6L280.1,301.6L280.2,300.6L280.4,299.6L280.5,298.6L280.7,297.6L280.8,296.6L281.0,295.6L281.1,294.6L281.3,293.6L281.5,292.6L281.6,291.5L281.8,290.5L281.9,289.5L282.1,288.5L282.3,287.4L282.4,286.4L282.6,285.4L282.8,284.3L283.0,283.3L283.1,282.3L283.4,281.3L283.6,280.3L284.0,279.3L284.3,278.4L284.8,277.5L285.3,276.7L285.9,276.0L286.5,275.3L287.3,274.7L288.1,274.2L288.9,273.9L289.8,273.6L290.6,273.6L291.3,273.6L292.0,273.9L292.7,274.2L293.3,274.7L293.9,275.3L294.4,276.0L294.9,276.8L295.4,277.7L295.8,278.6L296.2,279.6L296.6,280.6L296.9,281.6L297.3,282.7L297.6,283.7L297.9,284.7L298.2,285.8L298.4,286.8L298.7,287.8L298.9,288.8L299.1,289.8L299.3,290.9L299.5,291.9L299.7,292.9L299.8,293.9L300.0,294.9L300.1,295.9L300.3,296.9L300.4,297.9L300.5,298.9L300.6,299.9L300.7,300.9L300.8,301.9L300.9,302.9L301.0,303.9L301.0,304.9L301.1,305.9L301.2,306.9L301.3,307.9L301.3,308.9L301.4,309.8L301.5,310.8L301.5,311.8L301.6,312.8L301.7,313.8L301.7,314.8L301.8,315.8L301.9,316.7L302.0,317.7L302.0,318.7L302.1,319.7L302.2,320.7L302.3,321.7L302.4,322.7L302.5,323.7L302.7,324.7L302.8,325.6L302.9,326.6L303.0,327.6L303.1,328.6L303.3,329.6L303.4,330.6L303.5,331.6L303.7,332.6L303.8,333.6L303.9,334.6L304.1,335.6L304.2,336.5L304.3,337.5L304.5,338.5L304.6,339.5L304.7,340.5L304.9,341.5L305.0,342.5L305.1,343.5L305.2,344.5L305.4,345.5L305.5,346.5L305.6,347.5L305.7,348.5L305.8,349.5L305.9,350.5L306.0,351.5L306.1,352.5L306.2,353.5L306.3,354.5L306.4,355.5L306.5,356.5L306.6,357.5L306.7,358.5L306.7,359.5L306.8,360.5L306.9,361.5L307.0,362.5L307.0,363.5L307.1,364.6L307.2,365.6L307.2,366.6L307.3,367.6L307.4,368.6L307.4,369.6L307.5,370.6L307.6,371.6L307.6,372.6L307.7,373.6L307.8,374.6L307.8,375.6L307.9,376.6L308.0,377.6L308.1,378.6L308.1,379.6L308.2,380.6L308.3,381.6L308.4,382.6L308.4,383.6L308.5,384.6L308.6,385.6L308.7,386.6L308.8,387.6L308.9,388.6L309.0,389.6L309.1,390.6L309.2,391.6L309.3,392.6L309.4,393.6L309.6,394.6L309.7,395.6L309.8,396.6L309.9,397.6L310.1,398.5L310.2,399.5L310.4,400.5L310.5,401.5L310.7,402.5L310.9,403.5L311.1,404.4L311.2,405.4L311.4,406.4L311.6,407.4L311.8,408.4L312.1,409.3L312.3,410.3L312.5,411.3L312.7,412.2L313.0,413.2L313.2,414.2L313.5,415.1L313.8,416.1L314.1,417.1L314.4,418.0L314.7,419.0L315.0,419.9L315.3,420.9L315.6,421.8L316.0,422.8L316.3,423.7L316.7,424.7L317.0,425.6L317.4,426.6L317.8,427.5L318.3,428.4L318.7,429.2L319.2,430.0L319.7,430.8L320.3,431.5L320.9,432.1L321.5,432.7L322.2,433.2L322.9,433.6L323.7,434.0L324.5,434.2L325.4,434.4L326.3,434.4L327.3,434.3L328.4,434.1L329.5,433.9L330.6,433.6L331.7,433.3L332.9,432.9L334.0,432.5L335.1,432.2L336.2,431.9L337.3,431.7L338.3,431.5L339.3,431.4L340.3,431.2L341.2,431.2L342.2,431.1L343.2,431.1L344.1,431.0L345.1,431.0L346.1,431.0L347.0,431.0L348.0,430.9L349.0,430.9L350.0,430.9L351.0,430.9L351.9,430.9L352.9,431.0L353.9,431.0L354.9,431.0L355.9,431.0L356.9,431.1L357.9,431.1L358.9,431.1L360.0,431.2L361.0,431.2L362.0,431.3L363.0,431.3L364.0,431.4L365.0,431.4L366.0,431.5L367.0,431.6L368.0,431.6L369.0,431.7L370.0,431.8L371.1,431.8L372.1,431.9L373.1,432.0L374.1,432.1L375.0,432.2L376.0,432.3L377.0,432.4L378.0,432.4L379.0,432.5L380.0,432.6" stroke="#ff00ff"/>
</g>
<clipPath id="cpe"><rect x="75.70" y="462.00" width="303.80" height="191.20"/></clipPath>
<g clip-path="url(#cpe)" fill="none" stroke-width="2.0" stroke-linejoin="round" stroke-linecap="round">
<path d="M75.00,647.40 C87.50,647.37 133.33,647.43 150.00,647.20 C166.67,646.97 166.67,646.43 175.00,646.00 C183.33,645.57 191.95,644.97 200.00,644.60 C208.05,644.23 218.13,643.73 223.30,643.80 C228.47,643.87 226.55,644.48 231.00,645.00 C235.45,645.52 244.83,646.52 250.00,646.90 C255.17,647.28 257.93,647.37 262.00,647.30 C266.07,647.23 270.78,647.07 274.40,646.50 C278.02,645.93 281.12,644.48 283.70,643.90 C286.28,643.32 288.02,643.05 289.90,643.00 C291.78,642.95 292.82,643.18 295.00,643.60 C297.18,644.02 300.45,644.97 303.00,645.50 C305.55,646.03 307.13,646.47 310.30,646.80 C313.47,647.13 317.33,647.47 322.00,647.50 C326.67,647.53 334.05,647.35 338.30,647.00 C342.55,646.65 344.45,645.87 347.50,645.40 C350.55,644.93 351.18,644.43 356.60,644.20 C362.02,643.97 376.10,644.03 380.00,644.00" stroke="#404040"/>
<path d="M75.11,647.60L76.1,647.6L77.1,647.5L78.1,647.5L79.1,647.5L80.1,647.4L81.0,647.4L82.0,647.4L83.0,647.4L84.0,647.3L85.0,647.3L86.0,647.3L87.0,647.3L88.0,647.3L89.0,647.3L90.0,647.3L91.0,647.2L92.0,647.2L93.0,647.2L94.0,647.2L95.0,647.2L96.0,647.2L97.0,647.2L98.0,647.2L99.0,647.2L100.0,647.2L101.0,647.2L102.0,647.2L103.0,647.2L104.0,647.2L105.0,647.2L106.0,647.2L107.0,647.2L108.0,647.2L109.0,647.2L110.0,647.2L111.1,647.3L112.1,647.3L113.1,647.3L114.1,647.3L115.1,647.3L116.1,647.3L117.1,647.3L118.1,647.3L119.1,647.3L120.1,647.3L121.1,647.3L122.1,647.3L123.1,647.3L124.2,647.4L125.2,647.4L126.2,647.4L127.2,647.4L128.2,647.4L129.2,647.4L130.2,647.4L131.2,647.4L132.2,647.4L133.2,647.4L134.2,647.4L135.2,647.4L136.3,647.4L137.3,647.4L138.3,647.4L139.3,647.4L140.3,647.4L141.3,647.4L142.3,647.4L143.3,647.4L144.3,647.4L145.3,647.4L146.3,647.4L147.3,647.4L148.3,647.3L149.3,647.3L150.3,647.3L151.3,647.3L152.3,647.3L153.3,647.3L154.3,647.2L155.3,647.2L156.3,647.2L157.3,647.2L158.3,647.1L159.3,647.1L160.3,647.1L161.3,647.0L162.3,647.0L163.3,647.0L164.3,646.9L165.3,646.9L166.3,646.8L167.3,646.8L168.3,646.7L169.3,646.7L170.3,646.6L171.3,646.6L172.2,646.5L173.2,646.5L174.2,646.4L175.2,646.3L176.2,646.3L177.2,646.2L178.2,646.1L179.2,646.1L180.2,646.0L181.1,645.9L182.1,645.8L183.1,645.8L184.1,645.7L185.1,645.6L186.1,645.5L187.1,645.4L188.1,645.4L189.1,645.3L190.1,645.2L191.1,645.1L192.0,645.0L193.0,644.9L194.0,644.8L195.0,644.7L196.0,644.6L197.1,644.5L198.1,644.5L199.1,644.4L200.1,644.3L201.1,644.2L202.1,644.1L203.1,644.0L204.1,643.9L205.2,643.8L206.2,643.7L207.2,643.6L208.2,643.5L209.3,643.4L210.3,643.3L211.3,643.2L212.4,643.1L213.4,643.0L214.5,642.9L215.5,642.8L216.6,642.7L217.6,642.6L218.6,642.5L219.6,642.3L220.7,642.1L221.6,641.9L222.6,641.7L223.6,641.5L224.5,641.2L225.5,640.9L226.4,640.6L227.3,640.2L228.1,639.8L229.0,639.4L229.8,638.9L230.6,638.3L231.3,637.8L232.0,637.2L232.7,636.5L233.4,635.9L234.1,635.1L234.7,634.4L235.3,633.6L235.9,632.9L236.4,632.0L236.9,631.2L237.4,630.4L237.9,629.5L238.4,628.6L238.8,627.7L239.3,626.8L239.7,625.9L240.1,625.0L240.4,624.1L240.8,623.1L241.1,622.2L241.4,621.3L241.8,620.3L242.0,619.4L242.3,618.4L242.6,617.5L242.8,616.5L243.1,615.5L243.3,614.6L243.5,613.6L243.7,612.6L243.9,611.7L244.1,610.7L244.3,609.7L244.5,608.7L244.6,607.7L244.8,606.7L244.9,605.7L245.1,604.7L245.2,603.7L245.3,602.7L245.4,601.8L245.6,600.7L245.7,599.7L245.8,598.7L245.9,597.7L246.0,596.7L246.1,595.7L246.2,594.7L246.3,593.7L246.5,592.7L246.6,591.7L246.7,590.7L246.8,589.7L246.9,588.7L247.0,587.7L247.2,586.7L247.3,585.7L247.4,584.6L247.6,583.6L247.7,582.6L247.9,581.6L248.0,580.6L248.2,579.6L248.3,578.6L248.5,577.6L248.6,576.6L248.8,575.6L249.0,574.6L249.1,573.6L249.3,572.7L249.5,571.7L249.7,570.7L249.8,569.7L250.0,568.7L250.2,567.7L250.3,566.7L250.5,565.7L250.7,564.7L250.9,563.7L251.0,562.7L251.2,561.8L251.3,560.8L251.5,559.8L251.7,558.8L251.8,557.8L252.0,556.8L252.1,555.9L252.3,554.9L252.4,553.9L252.5,552.9L252.7,552.0L252.8,551.0L252.9,550.0L253.0,549.0L253.1,548.0L253.2,547.1L253.3,546.1L253.4,545.1L253.5,544.2L253.6,543.2L253.7,542.2L253.7,541.3L253.8,540.3L253.9,539.3L253.9,538.3L254.0,537.3L254.1,536.3L254.2,535.4L254.2,534.4L254.3,533.3L254.5,532.3L254.6,531.3L254.7,530.2L254.9,529.2L255.1,528.1L255.3,527.0L255.5,525.9L255.8,524.8L256.1,523.7L256.4,522.6L256.7,521.4L257.1,520.3L257.4,519.2L257.8,518.2L258.2,517.3L258.6,516.5L259.1,515.9L259.5,515.4L259.9,515.2L260.2,515.2L260.6,515.5L261.0,516.0L261.3,516.6L261.6,517.4L261.9,518.3L262.2,519.2L262.5,520.1L262.8,521.1L263.1,522.0L263.4,522.9L263.6,523.9L263.9,524.8L264.2,525.8L264.4,526.7L264.6,527.7L264.9,528.6L265.1,529.6L265.3,530.6L265.5,531.6L265.7,532.5L265.9,533.5L266.1,534.5L266.3,535.5L266.5,536.5L266.7,537.4L266.9,538.4L267.1,539.4L267.2,540.4L267.4,541.4L267.6,542.4L267.7,543.4L267.9,544.4L268.1,545.4L268.2,546.4L268.4,547.4L268.5,548.4L268.7,549.4L268.8,550.4L269.0,551.4L269.1,552.5L269.3,553.5L269.4,554.5L269.6,555.5L269.7,556.5L269.9,557.5L270.0,558.5L270.2,559.5L270.3,560.5L270.5,561.5L270.6,562.5L270.8,563.5L270.9,564.5L271.1,565.5L271.3,566.5L271.5,567.5L271.6,568.4L271.8,569.4L272.0,570.4L272.2,571.4L272.4,572.4L272.6,573.4L272.8,574.3L273.1,575.3L273.3,576.3L273.6,577.2L273.8,578.2L274.1,579.1L274.4,580.1L274.6,581.0L274.9,582.0L275.3,582.9L275.6,583.9L275.9,584.8L276.3,585.7L276.6,586.7L277.0,587.6L277.4,588.5L277.8,589.4L278.2,590.3L278.7,591.2L279.1,592.1L279.6,593.0L280.1,593.9L280.6,594.7L281.1,595.6L281.6,596.5L282.2,597.3L282.8,598.1L283.4,598.9L284.1,599.6L284.9,600.2L285.6,600.7L286.5,601.1L287.4,601.3L288.4,601.4L289.4,601.4L290.5,601.3L291.5,601.1L292.5,600.8L293.5,600.4L294.4,600.0L295.2,599.5L296.0,599.0L296.7,598.4L297.4,597.7L298.1,597.0L298.7,596.3L299.2,595.5L299.7,594.7L300.2,593.9L300.7,593.0L301.1,592.1L301.6,591.2L301.9,590.3L302.3,589.3L302.7,588.4L303.0,587.4L303.4,586.4L303.7,585.4L304.0,584.5L304.3,583.5L304.6,582.5L304.9,581.5L305.2,580.5L305.5,579.6L305.8,578.6L306.1,577.6L306.4,576.6L306.6,575.6L306.9,574.6L307.1,573.6L307.4,572.7L307.7,571.7L307.9,570.7L308.1,569.7L308.4,568.7L308.6,567.7L308.8,566.8L309.1,565.8L309.3,564.8L309.5,563.8L309.7,562.8L309.9,561.9L310.1,560.9L310.3,559.9L310.5,558.9L310.7,558.0L310.9,557.0L311.1,556.0L311.3,555.0L311.5,554.1L311.7,553.1L311.9,552.2L312.1,551.2L312.2,550.2L312.4,549.3L312.6,548.3L312.8,547.4L312.9,546.4L313.1,545.5L313.3,544.5L313.5,543.6L313.6,542.7L313.8,541.7L314.0,540.7L314.1,539.8L314.3,538.8L314.5,537.8L314.7,536.8L314.8,535.8L315.0,534.8L315.2,533.8L315.4,532.8L315.5,531.7L315.7,530.6L315.9,529.5L316.1,528.4L316.3,527.3L316.5,526.1L316.7,525.0L316.9,523.8L317.1,522.6L317.3,521.5L317.6,520.4L317.8,519.3L318.1,518.4L318.5,517.5L318.8,516.8L319.2,516.3L319.7,516.0L320.1,515.9L320.5,516.1L321.0,516.5L321.4,517.1L321.8,517.8L322.2,518.5L322.5,519.3L322.9,520.0L323.2,520.8L323.5,521.6L323.8,522.4L324.1,523.3L324.3,524.1L324.6,525.0L324.8,525.9L325.0,526.8L325.2,527.7L325.4,528.6L325.6,529.6L325.8,530.5L325.9,531.5L326.1,532.5L326.2,533.4L326.4,534.4L326.5,535.4L326.6,536.4L326.7,537.5L326.8,538.5L326.9,539.5L327.0,540.6L327.1,541.6L327.2,542.7L327.2,543.7L327.3,544.8L327.4,545.8L327.5,546.9L327.5,547.9L327.6,549.0L327.7,550.0L327.8,551.1L327.8,552.1L327.9,553.2L328.0,554.2L328.1,555.3L328.2,556.3L328.3,557.3L328.4,558.4L328.5,559.4L328.6,560.4L328.7,561.4L328.8,562.4L328.9,563.4L329.1,564.4L329.2,565.4L329.3,566.4L329.5,567.4L329.6,568.4L329.7,569.3L329.9,570.3L330.0,571.3L330.2,572.3L330.4,573.2L330.5,574.2L330.7,575.2L330.8,576.1L331.0,577.1L331.2,578.0L331.3,579.0L331.5,580.0L331.7,580.9L331.8,581.9L332.0,582.8L332.2,583.8L332.3,584.8L332.5,585.7L332.7,586.7L332.9,587.6L333.0,588.6L333.2,589.6L333.4,590.6L333.5,591.5L333.7,592.5L333.9,593.5L334.0,594.5L334.2,595.5L334.3,596.4L334.5,597.4L334.7,598.4L334.8,599.4L335.0,600.4L335.1,601.5L335.3,602.5L335.4,603.5L335.5,604.5L335.7,605.5L335.9,606.6L336.0,607.6L336.2,608.6L336.3,609.6L336.5,610.6L336.7,611.7L336.9,612.7L337.0,613.7L337.2,614.7L337.4,615.7L337.7,616.7L337.9,617.7L338.1,618.7L338.4,619.7L338.6,620.7L338.9,621.6L339.2,622.6L339.5,623.5L339.8,624.5L340.2,625.4L340.5,626.4L340.9,627.3L341.3,628.2L341.7,629.1L342.1,629.9L342.5,630.8L343.0,631.7L343.5,632.5L344.0,633.3L344.6,634.2L345.1,634.9L345.7,635.7L346.3,636.5L346.9,637.2L347.6,637.9L348.3,638.6L349.0,639.3L349.7,639.9L350.5,640.4L351.3,641.0L352.1,641.5L352.9,641.9L353.8,642.3L354.7,642.7L355.6,642.9L356.6,643.2L357.6,643.4L358.6,643.5L359.6,643.6L360.6,643.6L361.7,643.7L362.7,643.7L363.8,643.6L364.9,643.6L366.0,643.5L367.1,643.5L368.1,643.4L369.2,643.4L370.3,643.4L371.3,643.4L372.4,643.4L373.4,643.5L374.4,643.6L375.4,643.7L376.3,643.9L377.2,644.2L378.1,644.5L379.0,644.8L379.8,645.3" stroke="#ff0000"/>
<path d="M74.75,647.13L75.8,647.2L76.8,647.2L77.9,647.2L78.9,647.3L80.0,647.3L81.0,647.3L82.0,647.4L83.1,647.4L84.1,647.4L85.1,647.4L86.1,647.4L87.1,647.5L88.2,647.5L89.2,647.5L90.2,647.5L91.2,647.5L92.2,647.5L93.2,647.5L94.2,647.5L95.3,647.5L96.3,647.5L97.3,647.5L98.3,647.5L99.3,647.5L100.3,647.5L101.3,647.5L102.3,647.5L103.3,647.5L104.3,647.5L105.3,647.4L106.3,647.4L107.2,647.4L108.2,647.4L109.2,647.4L110.2,647.4L111.2,647.3L112.2,647.3L113.2,647.3L114.2,647.3L115.2,647.3L116.2,647.3L117.1,647.2L118.1,647.2L119.1,647.2L120.1,647.2L121.1,647.2L122.1,647.1L123.1,647.1L124.1,647.1L125.1,647.1L126.0,647.0L127.0,647.0L128.0,647.0L129.0,647.0L130.0,647.0L131.0,646.9L132.0,646.9L133.0,646.9L134.0,646.9L135.0,646.9L136.0,646.8L137.0,646.8L138.0,646.8L138.9,646.8L139.9,646.8L140.9,646.8L141.9,646.7L142.9,646.7L144.0,646.7L145.0,646.7L146.0,646.7L147.0,646.7L148.0,646.7L149.0,646.7L150.0,646.7L151.0,646.7L152.0,646.7L153.1,646.7L154.1,646.7L155.1,646.7L156.1,646.7L157.1,646.7L158.2,646.7L159.2,646.7L160.2,646.7L161.2,646.7L162.3,646.7L163.3,646.7L164.3,646.7L165.3,646.6L166.4,646.6L167.4,646.6L168.4,646.6L169.4,646.6L170.5,646.6L171.5,646.5L172.5,646.5L173.5,646.5L174.6,646.4L175.6,646.4L176.6,646.3L177.6,646.3L178.6,646.2L179.6,646.2L180.7,646.1L181.7,646.0L182.7,645.9L183.7,645.9L184.7,645.8L185.7,645.7L186.7,645.6L187.7,645.4L188.7,645.3L189.7,645.2L190.7,645.0L191.7,644.9L192.6,644.7L193.6,644.6L194.6,644.4L195.6,644.2L196.6,644.0L197.5,643.8L198.5,643.6L199.4,643.4L200.4,643.1L201.4,642.9L202.3,642.6L203.2,642.4L204.2,642.1L205.1,641.8L206.0,641.5L207.0,641.2L207.9,640.8L208.8,640.5L209.7,640.1L210.6,639.8L211.5,639.4L212.4,639.0L213.3,638.6L214.2,638.2L215.0,637.7L215.9,637.3L216.8,636.8L217.6,636.3L218.5,635.8L219.3,635.3L220.2,634.8L221.0,634.2L221.8,633.7L222.6,633.1L223.4,632.5L224.2,631.9L225.0,631.3L225.7,630.7L226.5,630.0L227.2,629.4L228.0,628.7L228.7,628.0L229.4,627.3L230.1,626.6L230.8,625.9L231.4,625.1L232.1,624.4L232.7,623.6L233.4,622.9L234.0,622.1L234.6,621.3L235.1,620.4L235.7,619.6L236.3,618.8L236.8,617.9L237.3,617.1L237.8,616.2L238.3,615.3L238.7,614.4L239.2,613.5L239.6,612.6L240.0,611.6L240.4,610.7L240.8,609.7L241.2,608.8L241.5,607.8L241.9,606.9L242.2,605.9L242.6,605.0L243.0,604.0L243.3,603.0L243.7,602.1L244.1,601.2L244.5,600.2L244.9,599.3L245.3,598.4L245.8,597.5L246.2,596.6L246.7,595.7L247.2,594.8L247.6,593.9L248.1,593.1L248.6,592.2L249.1,591.3L249.6,590.5L250.2,589.6L250.7,588.8L251.2,587.9L251.7,587.1L252.2,586.2L252.6,585.3L253.1,584.5L253.6,583.6L254.0,582.7L254.5,581.8L254.9,580.9L255.3,580.0L255.7,579.1L256.1,578.2L256.5,577.3L256.9,576.4L257.2,575.4L257.6,574.5L258.0,573.6L258.3,572.6L258.6,571.7L259.0,570.7L259.3,569.8L259.6,568.8L259.9,567.9L260.2,566.9L260.5,565.9L260.8,565.0L261.0,564.0L261.3,563.0L261.6,562.1L261.8,561.1L262.1,560.1L262.3,559.1L262.6,558.1L262.8,557.1L263.1,556.2L263.3,555.2L263.5,554.2L263.7,553.2L264.0,552.2L264.2,551.2L264.4,550.2L264.6,549.2L264.8,548.2L265.0,547.2L265.2,546.2L265.4,545.3L265.6,544.3L265.8,543.3L266.0,542.3L266.2,541.3L266.4,540.3L266.6,539.3L266.8,538.3L267.0,537.4L267.2,536.4L267.4,535.4L267.6,534.4L267.8,533.5L268.0,532.5L268.2,531.5L268.4,530.6L268.6,529.6L268.8,528.6L269.0,527.7L269.3,526.7L269.5,525.8L269.7,524.8L269.9,523.8L270.1,522.9L270.4,521.9L270.6,521.0L270.8,520.0L271.0,519.1L271.3,518.1L271.5,517.1L271.8,516.2L272.0,515.2L272.3,514.2L272.5,513.3L272.8,512.3L273.0,511.3L273.3,510.3L273.6,509.4L273.8,508.4L274.1,507.4L274.4,506.4L274.7,505.4L275.0,504.4L275.3,503.4L275.5,502.4L275.9,501.3L276.2,500.3L276.5,499.3L276.8,498.3L277.2,497.3L277.6,496.3L278.0,495.3L278.4,494.4L278.8,493.5L279.3,492.6L279.8,491.7L280.4,490.9L281.0,490.1L281.6,489.4L282.3,488.7L283.0,488.0L283.8,487.4L284.6,486.9L285.4,486.4L286.2,486.0L287.1,485.7L287.9,485.4L288.8,485.2L289.6,485.0L290.5,485.0L291.3,485.0L292.2,485.1L293.0,485.3L293.7,485.6L294.5,486.0L295.2,486.5L295.8,487.0L296.5,487.7L297.1,488.4L297.6,489.2L298.2,490.0L298.7,490.9L299.2,491.8L299.7,492.7L300.1,493.7L300.6,494.6L301.0,495.6L301.5,496.6L301.9,497.6L302.3,498.6L302.7,499.5L303.1,500.5L303.5,501.4L303.9,502.4L304.3,503.3L304.7,504.3L305.0,505.2L305.4,506.2L305.7,507.1L306.1,508.0L306.4,509.0L306.7,509.9L307.0,510.9L307.3,511.8L307.6,512.8L307.9,513.7L308.2,514.7L308.5,515.6L308.7,516.6L309.0,517.6L309.2,518.5L309.5,519.5L309.7,520.5L309.9,521.5L310.1,522.5L310.4,523.4L310.6,524.4L310.8,525.4L311.0,526.4L311.2,527.4L311.4,528.4L311.6,529.4L311.8,530.4L312.0,531.4L312.2,532.4L312.4,533.3L312.6,534.3L312.8,535.3L313.0,536.3L313.2,537.3L313.4,538.3L313.6,539.3L313.8,540.3L314.0,541.3L314.2,542.2L314.4,543.2L314.6,544.2L314.9,545.2L315.1,546.1L315.3,547.1L315.6,548.1L315.8,549.1L316.0,550.0L316.3,551.0L316.5,552.0L316.8,552.9L317.0,553.9L317.3,554.9L317.6,555.8L317.8,556.8L318.1,557.7L318.4,558.7L318.6,559.6L318.9,560.6L319.2,561.5L319.5,562.5L319.8,563.4L320.1,564.4L320.3,565.3L320.6,566.3L320.9,567.2L321.3,568.2L321.6,569.1L321.9,570.1L322.2,571.0L322.5,571.9L322.8,572.9L323.2,573.8L323.5,574.7L323.8,575.7L324.2,576.6L324.5,577.5L324.8,578.5L325.2,579.4L325.5,580.3L325.9,581.3L326.3,582.2L326.6,583.1L327.0,584.0L327.4,585.0L327.7,585.9L328.1,586.8L328.5,587.7L328.9,588.7L329.3,589.6L329.7,590.5L330.1,591.4L330.5,592.3L330.9,593.3L331.3,594.2L331.7,595.1L332.1,596.0L332.5,596.9L332.9,597.9L333.4,598.8L333.8,599.7L334.2,600.6L334.7,601.5L335.1,602.4L335.6,603.3L336.0,604.3L336.5,605.2L336.9,606.1L337.4,607.0L337.9,607.9L338.3,608.8L338.8,609.7L339.3,610.6L339.8,611.5L340.3,612.4L340.8,613.3L341.3,614.1L341.8,615.0L342.3,615.9L342.8,616.8L343.4,617.6L343.9,618.5L344.5,619.3L345.0,620.1L345.6,621.0L346.2,621.8L346.7,622.6L347.3,623.4L347.9,624.2L348.5,625.0L349.2,625.7L349.8,626.5L350.4,627.3L351.1,628.0L351.7,628.7L352.4,629.4L353.1,630.2L353.7,630.8L354.4,631.5L355.2,632.2L355.9,632.8L356.6,633.5L357.3,634.1L358.1,634.7L358.9,635.3L359.6,635.9L360.4,636.4L361.2,637.0L362.1,637.5L362.9,638.0L363.7,638.5L364.6,639.0L365.5,639.4L366.3,639.9L367.2,640.3L368.2,640.7L369.1,641.0L370.0,641.4L371.0,641.7L371.9,642.1L372.9,642.3L373.9,642.6L375.0,642.9L376.0,643.1L377.0,643.3L378.1,643.5L379.2,643.6L380.3,643.8" stroke="#00ff00"/>
<path d="M74.73,647.13L75.8,647.2L76.8,647.2L77.9,647.3L78.9,647.3L80.0,647.3L81.0,647.3L82.0,647.4L83.1,647.4L84.1,647.4L85.1,647.4L86.1,647.5L87.2,647.5L88.2,647.5L89.2,647.5L90.2,647.5L91.2,647.5L92.3,647.5L93.3,647.5L94.3,647.5L95.3,647.5L96.3,647.5L97.3,647.5L98.3,647.5L99.3,647.5L100.3,647.5L101.3,647.5L102.3,647.5L103.3,647.5L104.3,647.4L105.3,647.4L106.2,647.4L107.2,647.4L108.2,647.4L109.2,647.4L110.2,647.3L111.2,647.3L112.2,647.3L113.2,647.3L114.2,647.3L115.1,647.2L116.1,647.2L117.1,647.2L118.1,647.2L119.1,647.2L120.1,647.1L121.1,647.1L122.0,647.1L123.0,647.1L124.0,647.0L125.0,647.0L126.0,647.0L127.0,647.0L128.0,647.0L128.9,646.9L129.9,646.9L130.9,646.9L131.9,646.9L132.9,646.9L133.9,646.8L134.9,646.8L135.9,646.8L136.9,646.8L137.9,646.8L138.9,646.8L139.9,646.8L140.9,646.8L141.9,646.7L142.9,646.7L143.9,646.7L144.9,646.7L145.9,646.7L147.0,646.7L148.0,646.7L149.0,646.7L150.0,646.7L151.0,646.7L152.0,646.7L153.1,646.7L154.1,646.7L155.1,646.7L156.1,646.7L157.2,646.7L158.2,646.7L159.2,646.7L160.3,646.7L161.3,646.7L162.3,646.7L163.3,646.7L164.4,646.7L165.4,646.7L166.4,646.6L167.4,646.6L168.5,646.6L169.5,646.6L170.5,646.5L171.5,646.5L172.6,646.4L173.6,646.4L174.6,646.3L175.6,646.3L176.6,646.2L177.7,646.1L178.7,646.1L179.7,646.0L180.7,645.9L181.7,645.8L182.7,645.7L183.7,645.6L184.7,645.4L185.7,645.3L186.7,645.2L187.7,645.0L188.7,644.9L189.6,644.7L190.6,644.5L191.6,644.3L192.6,644.2L193.5,644.0L194.5,643.7L195.5,643.5L196.4,643.3L197.4,643.0L198.3,642.8L199.3,642.5L200.2,642.2L201.1,642.0L202.1,641.7L203.0,641.3L203.9,641.0L204.8,640.7L205.7,640.3L206.6,639.9L207.5,639.6L208.4,639.2L209.3,638.8L210.2,638.3L211.1,637.9L211.9,637.5L212.8,637.0L213.7,636.5L214.5,636.0L215.3,635.5L216.2,635.0L217.0,634.4L217.8,633.9L218.6,633.3L219.4,632.7L220.2,632.1L221.0,631.5L221.8,630.9L222.5,630.3L223.3,629.6L224.0,629.0L224.8,628.3L225.5,627.6L226.2,626.9L226.9,626.2L227.6,625.5L228.3,624.8L228.9,624.0L229.6,623.3L230.2,622.5L230.9,621.7L231.5,620.9L232.1,620.1L232.7,619.3L233.3,618.5L233.8,617.7L234.4,616.8L234.9,616.0L235.4,615.1L235.9,614.3L236.4,613.4L236.9,612.5L237.3,611.6L237.8,610.7L238.2,609.8L238.7,608.9L239.1,608.0L239.5,607.0L239.9,606.1L240.2,605.2L240.6,604.2L241.0,603.3L241.3,602.3L241.7,601.4L242.0,600.4L242.4,599.4L242.7,598.5L243.0,597.5L243.4,596.5L243.7,595.6L244.0,594.6L244.3,593.6L244.6,592.6L244.9,591.7L245.2,590.7L245.5,589.7L245.9,588.8L246.2,587.8L246.5,586.8L246.8,585.9L247.1,584.9L247.4,584.0L247.7,583.0L248.1,582.1L248.4,581.1L248.7,580.2L249.0,579.2L249.3,578.3L249.6,577.3L250.0,576.4L250.3,575.4L250.6,574.5L250.9,573.6L251.3,572.6L251.6,571.7L251.9,570.8L252.2,569.8L252.5,568.9L252.9,568.0L253.2,567.0L253.5,566.1L253.8,565.1L254.1,564.2L254.4,563.3L254.8,562.3L255.1,561.4L255.4,560.5L255.7,559.5L256.0,558.6L256.3,557.6L256.6,556.7L256.9,555.7L257.2,554.8L257.6,553.9L257.9,552.9L258.2,552.0L258.5,551.0L258.8,550.0L259.0,549.1L259.3,548.1L259.6,547.2L259.9,546.2L260.2,545.2L260.5,544.3L260.8,543.3L261.0,542.3L261.3,541.3L261.6,540.3L261.9,539.3L262.1,538.4L262.4,537.4L262.6,536.4L262.9,535.4L263.2,534.4L263.4,533.3L263.7,532.3L263.9,531.3L264.1,530.3L264.4,529.3L264.6,528.2L264.9,527.2L265.1,526.2L265.4,525.3L265.8,524.3L266.1,523.4L266.5,522.5L267.0,521.7L267.5,520.9L268.1,520.2L268.7,519.5L269.4,518.9L270.1,518.4L271.0,517.9L271.8,517.6L272.6,517.4L273.5,517.3L274.3,517.4L275.1,517.6L275.8,518.0L276.5,518.5L277.2,519.0L277.9,519.7L278.5,520.5L279.1,521.3L279.6,522.3L280.1,523.3L280.6,524.3L281.1,525.3L281.5,526.4L282.0,527.5L282.5,528.5L282.9,529.6L283.4,530.6L283.9,531.5L284.4,532.3L284.9,533.1L285.5,533.7L286.2,534.3L286.9,534.7L287.6,534.9L288.4,535.1L289.1,535.1L289.9,535.0L290.7,534.8L291.5,534.4L292.3,534.0L293.0,533.5L293.7,532.9L294.3,532.2L294.9,531.4L295.4,530.5L295.9,529.6L296.4,528.7L296.8,527.7L297.2,526.6L297.6,525.6L298.0,524.5L298.4,523.4L298.8,522.3L299.2,521.3L299.6,520.2L300.0,519.2L300.5,518.2L301.0,517.3L301.6,516.4L302.2,515.6L302.9,514.8L303.6,514.2L304.3,513.6L305.1,513.2L305.9,512.9L306.6,512.7L307.3,512.7L307.9,512.9L308.5,513.3L309.0,513.8L309.5,514.5L310.0,515.2L310.4,516.0L310.8,516.9L311.2,517.8L311.6,518.7L312.0,519.6L312.4,520.5L312.8,521.5L313.2,522.4L313.6,523.3L314.0,524.2L314.3,525.1L314.7,526.1L315.1,527.0L315.5,527.9L315.9,528.9L316.2,529.8L316.6,530.7L317.0,531.7L317.3,532.6L317.7,533.6L318.0,534.5L318.4,535.5L318.7,536.4L319.1,537.4L319.4,538.3L319.8,539.3L320.1,540.2L320.4,541.2L320.8,542.1L321.1,543.1L321.4,544.0L321.7,545.0L322.0,546.0L322.3,546.9L322.6,547.9L322.9,548.8L323.2,549.8L323.5,550.8L323.8,551.7L324.1,552.7L324.4,553.7L324.6,554.6L324.9,555.6L325.2,556.6L325.5,557.5L325.7,558.5L326.0,559.5L326.3,560.4L326.5,561.4L326.8,562.4L327.0,563.3L327.3,564.3L327.6,565.3L327.8,566.2L328.1,567.2L328.4,568.2L328.6,569.1L328.9,570.1L329.1,571.1L329.4,572.0L329.7,573.0L329.9,574.0L330.2,574.9L330.5,575.9L330.7,576.8L331.0,577.8L331.3,578.8L331.5,579.7L331.8,580.7L332.1,581.6L332.4,582.6L332.7,583.6L332.9,584.5L333.2,585.5L333.5,586.4L333.8,587.4L334.1,588.3L334.4,589.3L334.7,590.2L335.1,591.2L335.4,592.1L335.7,593.1L336.0,594.0L336.4,595.0L336.7,595.9L337.0,596.9L337.4,597.8L337.7,598.7L338.1,599.7L338.5,600.6L338.8,601.5L339.2,602.5L339.6,603.4L340.0,604.3L340.4,605.2L340.8,606.2L341.2,607.1L341.6,608.0L342.1,608.9L342.5,609.8L342.9,610.7L343.4,611.6L343.9,612.5L344.3,613.4L344.8,614.3L345.3,615.2L345.8,616.1L346.3,617.0L346.8,617.8L347.3,618.7L347.9,619.5L348.4,620.4L349.0,621.2L349.6,622.0L350.1,622.9L350.7,623.7L351.3,624.5L351.9,625.2L352.5,626.0L353.2,626.8L353.8,627.5L354.5,628.3L355.1,629.0L355.8,629.7L356.5,630.4L357.2,631.1L357.9,631.7L358.7,632.4L359.4,633.0L360.1,633.7L360.9,634.3L361.7,634.9L362.5,635.4L363.3,636.0L364.1,636.5L365.0,637.1L365.8,637.6L366.7,638.1L367.6,638.5L368.4,639.0L369.4,639.4L370.3,639.8L371.2,640.2L372.2,640.6L373.1,640.9L374.1,641.2L375.1,641.5L376.2,641.8L377.2,642.0L378.2,642.3L379.3,642.5L380.4,642.7" stroke="#0000ff"/>
<path d="M74.64,647.43L75.7,647.4L76.8,647.4L77.8,647.4L78.9,647.4L79.9,647.4L81.0,647.4L82.0,647.3L83.0,647.3L84.1,647.3L85.1,647.3L86.1,647.3L87.2,647.3L88.2,647.3L89.2,647.3L90.2,647.3L91.3,647.3L92.3,647.3L93.3,647.2L94.3,647.2L95.3,647.2L96.3,647.2L97.3,647.2L98.3,647.2L99.3,647.2L100.3,647.2L101.3,647.2L102.3,647.2L103.3,647.2L104.3,647.2L105.3,647.2L106.3,647.2L107.3,647.2L108.3,647.2L109.3,647.2L110.3,647.2L111.3,647.2L112.3,647.2L113.2,647.1L114.2,647.1L115.2,647.1L116.2,647.1L117.2,647.1L118.2,647.1L119.2,647.1L120.1,647.1L121.1,647.1L122.1,647.1L123.1,647.1L124.1,647.1L125.0,647.1L126.0,647.1L127.0,647.1L128.0,647.1L129.0,647.1L130.0,647.0L130.9,647.0L131.9,647.0L132.9,647.0L133.9,647.0L134.9,647.0L135.9,647.0L136.9,647.0L137.9,647.0L138.9,646.9L139.8,646.9L140.8,646.9L141.8,646.9L142.8,646.9L143.8,646.9L144.8,646.9L145.8,646.8L146.8,646.8L147.8,646.8L148.8,646.8L149.9,646.8L150.9,646.7L151.9,646.7L152.9,646.7L153.9,646.7L154.9,646.7L155.9,646.6L157.0,646.6L158.0,646.6L159.0,646.5L160.1,646.5L161.1,646.5L162.1,646.4L163.1,646.4L164.2,646.4L165.2,646.3L166.2,646.3L167.3,646.2L168.3,646.2L169.3,646.1L170.4,646.1L171.4,646.0L172.4,645.9L173.5,645.8L174.5,645.8L175.5,645.7L176.6,645.6L177.6,645.5L178.6,645.4L179.6,645.3L180.6,645.2L181.7,645.0L182.7,644.9L183.7,644.8L184.7,644.6L185.7,644.5L186.7,644.3L187.7,644.1L188.7,644.0L189.7,643.8L190.7,643.6L191.7,643.4L192.6,643.2L193.6,642.9L194.6,642.7L195.5,642.5L196.5,642.2L197.4,641.9L198.4,641.7L199.3,641.4L200.3,641.1L201.2,640.8L202.1,640.4L203.0,640.1L203.9,639.8L204.8,639.4L205.7,639.0L206.6,638.6L207.5,638.2L208.3,637.8L209.2,637.4L210.1,637.0L210.9,636.5L211.7,636.0L212.6,635.6L213.4,635.1L214.2,634.6L215.0,634.0L215.8,633.5L216.6,632.9L217.3,632.3L218.1,631.8L218.8,631.1L219.6,630.5L220.3,629.9L221.0,629.2L221.7,628.5L222.4,627.8L223.1,627.1L223.8,626.4L224.4,625.7L225.1,624.9L225.7,624.1L226.4,623.3L227.0,622.5L227.6,621.7L228.2,620.9L228.8,620.1L229.4,619.2L229.9,618.4L230.5,617.5L231.0,616.6L231.6,615.7L232.1,614.9L232.6,614.0L233.1,613.1L233.7,612.1L234.1,611.2L234.6,610.3L235.1,609.4L235.6,608.5L236.0,607.5L236.5,606.6L236.9,605.7L237.4,604.7L237.8,603.8L238.2,602.8L238.6,601.9L239.0,601.0L239.4,600.0L239.8,599.1L240.2,598.2L240.6,597.2L240.9,596.3L241.3,595.4L241.6,594.5L242.0,593.6L242.3,592.6L242.7,591.7L243.0,590.8L243.3,589.9L243.6,589.0L244.0,588.1L244.3,587.2L244.6,586.2L244.9,585.3L245.2,584.4L245.6,583.5L245.9,582.6L246.2,581.7L246.5,580.7L246.8,579.8L247.1,578.9L247.5,578.0L247.8,577.0L248.1,576.1L248.4,575.2L248.8,574.2L249.1,573.3L249.4,572.3L249.8,571.4L250.1,570.4L250.5,569.5L250.8,568.5L251.2,567.5L251.6,566.5L252.0,565.5L252.4,564.6L252.8,563.6L253.2,562.6L253.6,561.6L254.0,560.6L254.5,559.6L254.9,558.6L255.4,557.7L255.9,556.8L256.4,555.9L257.0,555.0L257.5,554.1L258.1,553.3L258.7,552.6L259.4,551.8L260.0,551.2L260.7,550.6L261.4,550.2L262.0,549.9L262.7,549.9L263.3,550.1L263.9,550.5L264.4,551.0L264.9,551.7L265.4,552.5L265.9,553.3L266.4,554.1L266.8,554.9L267.2,555.8L267.6,556.6L268.0,557.5L268.4,558.4L268.7,559.3L269.1,560.3L269.4,561.2L269.7,562.2L270.0,563.1L270.2,564.1L270.5,565.1L270.8,566.1L271.0,567.1L271.2,568.1L271.5,569.1L271.7,570.1L271.9,571.1L272.1,572.2L272.3,573.2L272.5,574.2L272.6,575.3L272.8,576.3L273.0,577.3L273.2,578.4L273.3,579.4L273.5,580.4L273.7,581.4L273.8,582.5L274.0,583.5L274.2,584.5L274.4,585.5L274.5,586.5L274.7,587.5L274.9,588.5L275.1,589.5L275.3,590.4L275.5,591.4L275.7,592.3L275.9,593.3L276.1,594.2L276.3,595.2L276.5,596.1L276.7,597.1L277.0,598.0L277.2,598.9L277.4,599.9L277.7,600.8L277.9,601.7L278.2,602.7L278.4,603.6L278.7,604.5L278.9,605.5L279.2,606.4L279.4,607.3L279.7,608.3L280.0,609.3L280.2,610.2L280.5,611.2L280.8,612.2L281.1,613.1L281.3,614.1L281.6,615.1L281.9,616.1L282.2,617.2L282.5,618.2L282.8,619.2L283.1,620.3L283.4,621.3L283.7,622.4L284.0,623.5L284.3,624.6L284.6,625.7L285.0,626.8L285.3,627.8L285.7,628.8L286.0,629.7L286.4,630.6L286.8,631.3L287.2,632.0L287.7,632.6L288.2,633.0L288.7,633.3L289.2,633.4L289.8,633.4L290.4,633.2L291.1,632.9L291.7,632.4L292.3,631.8L292.9,631.2L293.5,630.4L294.0,629.6L294.4,628.7L294.8,627.8L295.2,626.8L295.5,625.9L295.8,624.9L296.1,623.9L296.4,622.9L296.6,621.9L296.9,620.9L297.2,619.9L297.5,618.9L297.8,618.0L298.1,617.0L298.3,616.0L298.6,615.0L298.9,614.0L299.2,613.0L299.5,612.0L299.7,611.0L300.0,610.1L300.3,609.1L300.6,608.1L300.8,607.1L301.1,606.1L301.3,605.1L301.6,604.2L301.9,603.2L302.1,602.2L302.3,601.2L302.6,600.3L302.8,599.3L303.0,598.3L303.3,597.3L303.5,596.4L303.7,595.4L303.9,594.4L304.1,593.5L304.3,592.5L304.5,591.5L304.7,590.6L304.8,589.6L305.0,588.6L305.2,587.7L305.3,586.7L305.5,585.8L305.6,584.8L305.8,583.8L305.9,582.9L306.1,581.9L306.2,580.9L306.4,580.0L306.5,579.0L306.7,578.0L306.8,577.1L307.0,576.1L307.1,575.1L307.3,574.1L307.4,573.1L307.6,572.2L307.8,571.2L308.0,570.2L308.2,569.2L308.3,568.2L308.5,567.2L308.8,566.1L309.0,565.1L309.2,564.1L309.5,563.1L309.7,562.0L310.0,561.0L310.2,559.9L310.5,558.9L310.8,557.8L311.2,556.8L311.5,555.7L311.8,554.6L312.2,553.6L312.6,552.6L313.0,551.6L313.4,550.7L313.9,549.8L314.3,549.1L314.8,548.4L315.3,547.9L315.8,547.5L316.4,547.2L317.0,547.1L317.6,547.2L318.2,547.4L318.8,547.8L319.5,548.3L320.1,548.9L320.8,549.6L321.4,550.4L322.0,551.2L322.5,552.1L323.1,553.0L323.6,553.9L324.0,554.9L324.4,555.8L324.9,556.8L325.2,557.7L325.6,558.7L326.0,559.7L326.3,560.7L326.7,561.7L327.1,562.6L327.4,563.6L327.8,564.6L328.1,565.5L328.4,566.5L328.8,567.4L329.1,568.4L329.5,569.3L329.8,570.3L330.2,571.2L330.5,572.2L330.9,573.1L331.2,574.1L331.5,575.0L331.9,575.9L332.2,576.9L332.6,577.8L332.9,578.7L333.3,579.6L333.6,580.6L334.0,581.5L334.3,582.4L334.7,583.3L335.0,584.3L335.4,585.2L335.7,586.1L336.1,587.0L336.4,587.9L336.8,588.9L337.2,589.8L337.5,590.7L337.9,591.6L338.3,592.6L338.6,593.5L339.0,594.4L339.4,595.4L339.8,596.3L340.1,597.2L340.5,598.2L340.9,599.1L341.3,600.0L341.7,600.9L342.1,601.9L342.5,602.8L343.0,603.7L343.4,604.7L343.8,605.6L344.2,606.5L344.7,607.4L345.1,608.3L345.6,609.3L346.0,610.2L346.5,611.1L347.0,612.0L347.4,612.9L347.9,613.7L348.4,614.6L348.9,615.5L349.4,616.4L349.9,617.2L350.5,618.1L351.0,618.9L351.6,619.8L352.1,620.6L352.7,621.4L353.3,622.2L353.8,623.0L354.4,623.8L355.0,624.6L355.7,625.4L356.3,626.2L356.9,626.9L357.6,627.6L358.2,628.4L358.9,629.1L359.6,629.8L360.3,630.5L361.0,631.1L361.7,631.8L362.5,632.5L363.2,633.1L364.0,633.7L364.8,634.3L365.5,634.9L366.4,635.5L367.2,636.0L368.0,636.6L368.9,637.1L369.7,637.6L370.6,638.1L371.5,638.5L372.4,639.0L373.3,639.4L374.3,639.8L375.3,640.2L376.2,640.6L377.2,640.9L378.2,641.3L379.3,641.6L380.3,641.9" stroke="#ff00ff"/>
</g>
<clipPath id="cpb"><rect x="462.20" y="31.00" width="284.60" height="191.10"/></clipPath>
<g clip-path="url(#cpb)" fill="none" stroke-width="2.0" stroke-linejoin="round" stroke-linecap="round">
<path d="M459.83,222.10 C459.99,222.10 460.46,222.10 460.78,222.10 C461.09,222.10 461.41,222.10 461.73,222.10 C462.04,222.10 462.36,222.10 462.67,222.10 C462.99,222.10 463.31,222.10 463.62,222.10 C463.94,222.10 464.25,222.10 464.57,222.10 C464.89,222.10 465.20,222.10 465.52,222.09 C465.83,222.09 466.15,222.09 466.47,222.09 C466.78,222.09 467.10,222.09 467.41,222.09 C467.73,222.09 468.05,222.09 468.36,222.09 C468.68,222.09 468.99,222.09 469.31,222.09 C469.63,222.09 469.94,222.09 470.26,222.09 C470.57,222.09 470.89,222.09 471.21,222.09 C471.52,222.09 471.84,222.09 472.15,222.09 C472.47,222.09 472.79,222.09 473.10,222.09 C473.42,222.09 473.73,222.09 474.05,222.09 C474.37,222.09 474.68,222.09 475.00,222.09 C475.31,222.09 475.63,222.09 475.95,222.09 C476.26,222.09 476.58,222.09 476.89,222.09 C477.21,222.09 477.53,222.09 477.84,222.09 C478.16,222.09 478.47,222.09 478.79,222.09 C479.11,222.09 479.42,222.09 479.74,222.09 C480.05,222.09 480.37,222.08 480.69,222.08 C481.00,222.08 481.32,222.08 481.63,222.08 C481.95,222.08 482.27,222.08 482.58,222.08 C482.90,222.08 483.21,222.08 483.53,222.08 C483.85,222.08 484.16,222.08 484.48,222.08 C484.79,222.08 485.11,222.08 485.43,222.08 C485.74,222.08 486.06,222.08 486.37,222.08 C486.69,222.08 487.01,222.08 487.32,222.07 C487.64,222.07 487.95,222.07 488.27,222.07 C488.59,222.07 488.90,222.07 489.22,222.07 C489.53,222.07 489.85,222.07 490.17,222.07 C490.48,222.07 490.80,222.07 491.11,222.07 C491.43,222.07 491.75,222.06 492.06,222.06 C492.38,222.06 492.69,222.06 493.01,222.06 C493.33,222.06 493.64,222.06 493.96,222.06 C494.27,222.06 494.59,222.06 494.91,222.06 C495.22,222.05 495.54,222.05 495.85,222.05 C496.17,222.05 496.49,222.05 496.80,222.05 C497.12,222.05 497.43,222.05 497.75,222.04 C498.07,222.04 498.38,222.04 498.70,222.04 C499.01,222.04 499.33,222.04 499.65,222.04 C499.96,222.04 500.28,222.03 500.59,222.03 C500.91,222.03 501.23,222.03 501.54,222.03 C501.86,222.03 502.17,222.02 502.49,222.02 C502.81,222.02 503.12,222.02 503.44,222.02 C503.75,222.01 504.07,222.01 504.39,222.01 C504.70,222.01 505.02,222.01 505.33,222.00 C505.65,222.00 505.97,222.00 506.28,222.00 C506.60,221.99 506.91,221.99 507.23,221.99 C507.55,221.99 507.86,221.98 508.18,221.98 C508.49,221.98 508.81,221.97 509.13,221.97 C509.44,221.97 509.76,221.97 510.07,221.96 C510.39,221.96 510.71,221.96 511.02,221.95 C511.34,221.95 511.65,221.95 511.97,221.94 C512.29,221.94 512.60,221.93 512.92,221.93 C513.23,221.93 513.55,221.92 513.87,221.92 C514.18,221.91 514.50,221.91 514.81,221.90 C515.13,221.90 515.45,221.89 515.76,221.89 C516.08,221.88 516.39,221.88 516.71,221.87 C517.03,221.87 517.34,221.86 517.66,221.86 C517.97,221.85 518.29,221.85 518.61,221.84 C518.92,221.83 519.24,221.83 519.55,221.82 C519.87,221.81 520.19,221.81 520.50,221.80 C520.82,221.79 521.13,221.79 521.45,221.78 C521.77,221.77 522.08,221.76 522.40,221.76 C522.71,221.75 523.03,221.74 523.35,221.73 C523.66,221.72 523.98,221.71 524.29,221.70 C524.61,221.69 524.93,221.68 525.24,221.67 C525.56,221.66 525.87,221.65 526.19,221.64 C526.51,221.63 526.82,221.62 527.14,221.61 C527.45,221.60 527.77,221.59 528.09,221.57 C528.40,221.56 528.72,221.55 529.03,221.54 C529.35,221.52 529.67,221.51 529.98,221.49 C530.30,221.48 530.61,221.47 530.93,221.45 C531.25,221.43 531.56,221.42 531.88,221.40 C532.19,221.39 532.51,221.37 532.83,221.35 C533.14,221.33 533.46,221.32 533.77,221.30 C534.09,221.28 534.41,221.26 534.72,221.24 C535.04,221.22 535.35,221.20 535.67,221.18 C535.99,221.15 536.30,221.13 536.62,221.11 C536.93,221.09 537.25,221.06 537.57,221.04 C537.88,221.01 538.20,220.99 538.51,220.96 C538.83,220.93 539.15,220.90 539.46,220.88 C539.78,220.85 540.09,220.82 540.41,220.79 C540.73,220.76 541.04,220.72 541.36,220.69 C541.67,220.66 541.99,220.62 542.31,220.59 C542.62,220.55 542.94,220.52 543.25,220.48 C543.57,220.44 543.89,220.40 544.20,220.36 C544.52,220.32 544.83,220.28 545.15,220.23 C545.47,220.19 545.78,220.15 546.10,220.10 C546.41,220.05 546.73,220.00 547.05,219.95 C547.36,219.90 547.68,219.85 547.99,219.80 C548.31,219.74 548.63,219.69 548.94,219.63 C549.26,219.57 549.57,219.51 549.89,219.45 C550.21,219.39 550.52,219.32 550.84,219.26 C551.15,219.19 551.47,219.12 551.79,219.05 C552.10,218.98 552.42,218.91 552.73,218.83 C553.05,218.76 553.37,218.68 553.68,218.59 C554.00,218.51 554.31,218.43 554.63,218.34 C554.95,218.25 555.26,218.16 555.58,218.07 C555.89,217.98 556.21,217.88 556.53,217.78 C556.84,217.68 557.16,217.57 557.47,217.47 C557.79,217.36 558.11,217.25 558.42,217.13 C558.74,217.02 559.05,216.90 559.37,216.77 C559.69,216.65 560.00,216.52 560.32,216.39 C560.63,216.26 560.95,216.12 561.27,215.98 C561.58,215.84 561.90,215.69 562.21,215.54 C562.53,215.39 562.85,215.23 563.16,215.07 C563.48,214.91 563.79,214.74 564.11,214.57 C564.43,214.39 564.74,214.21 565.06,214.03 C565.37,213.84 565.69,213.65 566.01,213.45 C566.32,213.25 566.64,213.05 566.95,212.84 C567.27,212.62 567.59,212.40 567.90,212.18 C568.22,211.95 568.53,211.72 568.85,211.47 C569.17,211.23 569.48,210.98 569.80,210.72 C570.11,210.46 570.43,210.19 570.75,209.92 C571.06,209.64 571.38,209.35 571.69,209.06 C572.01,208.76 572.33,208.46 572.64,208.14 C572.96,207.82 573.27,207.50 573.59,207.16 C573.91,206.82 574.22,206.48 574.54,206.12 C574.85,205.76 575.17,205.39 575.49,205.00 C575.80,204.62 576.12,204.23 576.43,203.82 C576.75,203.41 577.07,202.99 577.38,202.55 C577.70,202.12 578.01,201.67 578.33,201.21 C578.65,200.74 578.96,200.27 579.28,199.77 C579.59,199.28 579.91,198.77 580.23,198.25 C580.54,197.73 580.86,197.19 581.17,196.63 C581.49,196.07 581.81,195.50 582.12,194.91 C582.44,194.32 582.75,193.71 583.07,193.08 C583.39,192.46 583.70,191.81 584.02,191.15 C584.33,190.48 584.65,189.80 584.97,189.09 C585.28,188.39 585.60,187.67 585.91,186.92 C586.23,186.17 586.55,185.41 586.86,184.62 C587.18,183.83 587.49,183.02 587.81,182.19 C588.13,181.36 588.44,180.51 588.76,179.63 C589.07,178.75 589.39,177.85 589.71,176.93 C590.02,176.00 590.34,175.05 590.65,174.08 C590.97,173.11 591.29,172.11 591.60,171.09 C591.92,170.07 592.23,169.02 592.55,167.95 C592.87,166.87 593.18,165.78 593.50,164.65 C593.81,163.53 594.13,162.38 594.45,161.20 C594.76,160.03 595.08,158.83 595.39,157.60 C595.71,156.38 596.03,155.12 596.34,153.85 C596.66,152.57 596.97,151.26 597.29,149.94 C597.61,148.61 597.92,147.25 598.24,145.88 C598.55,144.50 598.87,143.10 599.19,141.67 C599.50,140.25 599.82,138.80 600.13,137.32 C600.45,135.85 600.77,134.36 601.08,132.84 C601.40,131.33 601.71,129.79 602.03,128.24 C602.35,126.68 602.66,125.11 602.98,123.52 C603.29,121.93 603.61,120.32 603.93,118.70 C604.24,117.08 604.56,115.44 604.87,113.79 C605.19,112.15 605.51,110.48 605.82,108.82 C606.14,107.15 606.45,105.47 606.77,103.79 C607.09,102.11 607.40,100.43 607.72,98.74 C608.03,97.06 608.35,95.37 608.67,93.68 C608.98,92.00 609.30,90.32 609.61,88.65 C609.93,86.98 610.25,85.31 610.56,83.66 C610.88,82.02 611.19,80.38 611.51,78.76 C611.83,77.14 612.14,75.54 612.46,73.96 C612.77,72.39 613.09,70.83 613.41,69.31 C613.72,67.79 614.04,66.29 614.35,64.83 C614.67,63.37 614.99,61.94 615.30,60.56 C615.62,59.18 615.93,57.83 616.25,56.53 C616.57,55.23 616.88,53.98 617.20,52.78 C617.51,51.58 617.83,50.42 618.15,49.33 C618.46,48.23 618.78,47.19 619.09,46.22 C619.41,45.24 619.73,44.32 620.04,43.47 C620.36,42.62 620.67,41.83 620.99,41.11 C621.31,40.39 621.62,39.74 621.94,39.16 C622.25,38.58 622.57,38.07 622.89,37.64 C623.20,37.21 623.52,36.85 623.83,36.57 C624.15,36.29 624.47,36.08 624.78,35.95 C625.10,35.83 625.41,35.77 625.73,35.80 C626.05,35.82 626.36,35.93 626.68,36.11 C626.99,36.29 627.31,36.54 627.63,36.87 C627.94,37.21 628.26,37.61 628.57,38.10 C628.89,38.58 629.21,39.13 629.52,39.76 C629.84,40.38 630.15,41.08 630.47,41.84 C630.79,42.60 631.10,43.44 631.42,44.33 C631.73,45.23 632.05,46.19 632.37,47.20 C632.68,48.22 633.00,49.30 633.31,50.43 C633.63,51.56 633.95,52.75 634.26,53.98 C634.58,55.22 634.89,56.50 635.21,57.83 C635.53,59.16 635.84,60.53 636.16,61.94 C636.47,63.35 636.79,64.81 637.11,66.29 C637.42,67.77 637.74,69.29 638.05,70.83 C638.37,72.37 638.69,73.94 639.00,75.53 C639.32,77.12 639.63,78.74 639.95,80.37 C640.27,82.00 640.58,83.65 640.90,85.30 C641.21,86.96 641.53,88.63 641.85,90.31 C642.16,91.98 642.48,93.67 642.79,95.35 C643.11,97.04 643.43,98.73 643.74,100.41 C644.06,102.09 644.37,103.78 644.69,105.45 C645.01,107.13 645.32,108.80 645.64,110.47 C645.95,112.13 646.27,113.78 646.59,115.42 C646.90,117.06 647.22,118.69 647.53,120.30 C647.85,121.91 648.17,123.51 648.48,125.09 C648.80,126.67 649.11,128.23 649.43,129.77 C649.75,131.31 650.06,132.84 650.38,134.34 C650.69,135.84 651.01,137.32 651.33,138.77 C651.64,140.23 651.96,141.67 652.27,143.08 C652.59,144.49 652.91,145.87 653.22,147.23 C653.54,148.59 653.85,149.93 654.17,151.24 C654.49,152.56 654.80,153.84 655.12,155.10 C655.43,156.36 655.75,157.60 656.07,158.81 C656.38,160.02 656.70,161.20 657.01,162.36 C657.33,163.52 657.65,164.65 657.96,165.76 C658.28,166.86 658.59,167.94 658.91,169.00 C659.23,170.05 659.54,171.09 659.86,172.09 C660.17,173.10 660.49,174.08 660.81,175.04 C661.12,175.99 661.44,176.92 661.75,177.83 C662.07,178.74 662.39,179.63 662.70,180.49 C663.02,181.35 663.33,182.19 663.65,183.01 C663.97,183.83 664.28,184.62 664.60,185.39 C664.91,186.17 665.23,186.92 665.55,187.65 C665.86,188.38 666.18,189.09 666.49,189.78 C666.81,190.48 667.13,191.15 667.44,191.80 C667.76,192.45 668.07,193.08 668.39,193.70 C668.71,194.31 669.02,194.91 669.34,195.49 C669.65,196.07 669.97,196.63 670.29,197.18 C670.60,197.72 670.92,198.25 671.23,198.76 C671.55,199.28 671.87,199.77 672.18,200.26 C672.50,200.74 672.81,201.21 673.13,201.66 C673.45,202.11 673.76,202.55 674.08,202.98 C674.39,203.41 674.71,203.82 675.03,204.22 C675.34,204.62 675.66,205.00 675.97,205.38 C676.29,205.76 676.61,206.12 676.92,206.47 C677.24,206.82 677.55,207.16 677.87,207.49 C678.19,207.82 678.50,208.14 678.82,208.45 C679.13,208.76 679.45,209.06 679.77,209.35 C680.08,209.64 680.40,209.92 680.71,210.19 C681.03,210.46 681.35,210.72 681.66,210.97 C681.98,211.23 682.29,211.47 682.61,211.71 C682.93,211.95 683.24,212.18 683.56,212.40 C683.87,212.62 684.19,212.84 684.51,213.04 C684.82,213.25 685.14,213.45 685.45,213.65 C685.77,213.84 686.09,214.03 686.40,214.21 C686.72,214.39 687.03,214.57 687.35,214.74 C687.67,214.91 687.98,215.07 688.30,215.23 C688.61,215.39 688.93,215.54 689.25,215.69 C689.56,215.84 689.88,215.98 690.19,216.12 C690.51,216.26 690.83,216.39 691.14,216.52 C691.46,216.65 691.77,216.77 692.09,216.89 C692.41,217.02 692.72,217.13 693.04,217.24 C693.35,217.36 693.67,217.47 693.99,217.57 C694.30,217.68 694.62,217.78 694.93,217.88 C695.25,217.97 695.57,218.07 695.88,218.16 C696.20,218.25 696.51,218.34 696.83,218.43 C697.15,218.51 697.46,218.59 697.78,218.67 C698.09,218.75 698.41,218.83 698.73,218.91 C699.04,218.98 699.36,219.05 699.67,219.12 C699.99,219.19 700.31,219.26 700.62,219.32 C700.94,219.39 701.25,219.45 701.57,219.51 C701.89,219.57 702.20,219.63 702.52,219.69 C702.83,219.74 703.15,219.80 703.47,219.85 C703.78,219.90 704.10,219.95 704.41,220.00 C704.73,220.05 705.05,220.10 705.36,220.14 C705.68,220.19 705.99,220.23 706.31,220.28 C706.63,220.32 706.94,220.36 707.26,220.40 C707.57,220.44 707.89,220.48 708.21,220.52 C708.52,220.55 708.84,220.59 709.15,220.62 C709.47,220.66 709.79,220.69 710.10,220.72 C710.42,220.76 710.73,220.79 711.05,220.82 C711.37,220.85 711.68,220.88 712.00,220.90 C712.31,220.93 712.63,220.96 712.95,220.99 C713.26,221.01 713.58,221.04 713.89,221.06 C714.21,221.09 714.53,221.11 714.84,221.13 C715.16,221.15 715.47,221.18 715.79,221.20 C716.11,221.22 716.42,221.24 716.74,221.26 C717.05,221.28 717.37,221.30 717.69,221.32 C718.00,221.33 718.32,221.35 718.63,221.37 C718.95,221.39 719.27,221.40 719.58,221.42 C719.90,221.43 720.21,221.45 720.53,221.47 C720.85,221.48 721.16,221.49 721.48,221.51 C721.79,221.52 722.11,221.54 722.43,221.55 C722.74,221.56 723.06,221.57 723.37,221.59 C723.69,221.60 724.01,221.61 724.32,221.62 C724.64,221.63 724.95,221.64 725.27,221.65 C725.59,221.66 725.90,221.67 726.22,221.68 C726.53,221.69 726.85,221.70 727.17,221.71 C727.48,221.72 727.80,221.73 728.11,221.74 C728.43,221.75 728.75,221.76 729.06,221.76 C729.38,221.77 729.69,221.78 730.01,221.79 C730.33,221.79 730.64,221.80 730.96,221.81 C731.27,221.81 731.59,221.82 731.91,221.83 C732.22,221.83 732.54,221.84 732.85,221.85 C733.17,221.85 733.49,221.86 733.80,221.86 C734.12,221.87 734.43,221.87 734.75,221.88 C735.07,221.88 735.38,221.89 735.70,221.89 C736.01,221.90 736.33,221.90 736.65,221.91 C736.96,221.91 737.28,221.92 737.59,221.92 C737.91,221.93 738.23,221.93 738.54,221.93 C738.86,221.94 739.17,221.94 739.49,221.94 C739.81,221.95 740.12,221.95 740.44,221.96 C740.75,221.96 741.07,221.96 741.39,221.97 C741.70,221.97 742.02,221.97 742.33,221.97 C742.65,221.98 742.97,221.98 743.28,221.98 C743.60,221.99 743.91,221.99 744.23,221.99 C744.55,221.99 744.86,222.00 745.18,222.00 C745.49,222.00 745.81,222.00 746.13,222.01 C746.44,222.01 746.76,222.01 747.07,222.01 C747.39,222.01 747.86,222.02 748.02,222.02" stroke="#000"/>
<path d="M455.00,222.10 C462.36,222.09 489.74,222.07 499.16,222.05 C508.57,222.03 507.37,222.02 511.47,221.97 C515.58,221.93 520.19,221.87 523.79,221.78 C527.40,221.70 530.01,221.62 533.12,221.47 C536.23,221.31 539.64,221.10 542.46,220.83 C545.27,220.57 547.94,220.20 549.99,219.88 C552.04,219.57 553.07,219.35 554.76,218.93 C556.46,218.51 558.64,217.88 560.18,217.35 C561.72,216.82 562.62,216.45 564.01,215.76 C565.39,215.08 566.93,214.28 568.48,213.23 C570.03,212.17 571.84,210.80 573.33,209.43 C574.82,208.05 576.15,206.57 577.43,204.99 C578.70,203.41 579.82,201.82 580.99,199.92 C582.17,198.02 583.37,195.80 584.48,193.58 C585.58,191.37 586.63,189.04 587.64,186.61 C588.65,184.18 589.63,181.54 590.53,179.01 C591.42,176.47 592.20,174.04 593.01,171.40 C593.81,168.76 594.62,165.91 595.36,163.17 C596.11,160.42 597.08,156.51 597.48,154.93 C597.88,153.34 597.60,154.85 597.79,153.66 C597.97,152.47 598.13,149.49 598.60,147.80 C599.07,146.11 600.03,143.72 600.60,143.50 C601.17,143.28 601.63,145.32 602.00,146.50 C602.37,147.68 602.47,148.18 602.80,150.60 C603.13,153.02 603.60,157.48 604.00,161.00 C604.40,164.52 604.82,168.12 605.20,171.70 C605.58,175.28 605.95,178.97 606.30,182.50 C606.65,186.03 606.95,189.42 607.30,192.90 C607.65,196.38 608.10,200.78 608.40,203.40 C608.70,206.02 608.85,207.43 609.10,208.60 C609.35,209.77 609.63,210.40 609.90,210.40 C610.17,210.40 610.43,209.77 610.70,208.60 C610.97,207.43 611.15,206.02 611.50,203.40 C611.85,200.78 612.42,196.47 612.80,192.90 C613.18,189.33 613.48,185.53 613.80,182.00 C614.12,178.47 614.40,175.20 614.70,171.70 C615.00,168.20 615.30,164.52 615.60,161.00 C615.90,157.48 616.17,154.10 616.50,150.60 C616.83,147.10 617.27,143.55 617.60,140.00 C617.93,136.45 618.02,133.43 618.50,129.30 C618.98,125.17 619.87,119.58 620.50,115.20 C621.13,110.82 621.75,106.03 622.30,103.00 C622.85,99.97 623.27,98.42 623.80,97.00 C624.33,95.58 624.90,94.50 625.50,94.50 C626.10,94.50 626.83,95.58 627.40,97.00 C627.97,98.42 628.35,99.97 628.90,103.00 C629.45,106.03 630.07,110.82 630.70,115.20 C631.33,119.58 632.22,125.17 632.70,129.30 C633.18,133.43 633.27,136.45 633.60,140.00 C633.93,143.55 634.37,147.10 634.70,150.60 C635.03,154.10 635.30,157.48 635.60,161.00 C635.90,164.52 636.20,168.20 636.50,171.70 C636.80,175.20 637.08,178.47 637.40,182.00 C637.72,185.53 638.02,189.33 638.40,192.90 C638.78,196.47 639.35,200.78 639.70,203.40 C640.05,206.02 640.23,207.43 640.50,208.60 C640.77,209.77 641.03,210.40 641.30,210.40 C641.57,210.40 641.85,209.77 642.10,208.60 C642.35,207.43 642.50,206.02 642.80,203.40 C643.10,200.78 643.55,196.38 643.90,192.90 C644.25,189.42 644.55,186.03 644.90,182.50 C645.25,178.97 645.62,175.28 646.00,171.70 C646.38,168.12 646.80,164.52 647.20,161.00 C647.60,157.48 648.07,153.02 648.40,150.60 C648.73,148.18 648.83,147.68 649.20,146.50 C649.57,145.32 650.03,143.28 650.60,143.50 C651.17,143.72 652.13,146.11 652.60,147.80 C653.07,149.49 653.23,152.47 653.41,153.66 C653.60,154.85 653.32,153.34 653.72,154.93 C654.12,156.51 655.09,160.42 655.84,163.17 C656.58,165.91 657.39,168.76 658.19,171.40 C659.00,174.04 659.78,176.47 660.67,179.01 C661.57,181.54 662.55,184.18 663.56,186.61 C664.57,189.04 665.62,191.37 666.72,193.58 C667.83,195.80 669.03,198.02 670.21,199.92 C671.38,201.82 672.50,203.41 673.77,204.99 C675.05,206.57 676.38,208.05 677.87,209.43 C679.36,210.80 681.17,212.17 682.72,213.23 C684.27,214.28 685.81,215.08 687.19,215.76 C688.58,216.45 689.48,216.82 691.02,217.35 C692.56,217.88 694.74,218.51 696.44,218.93 C698.13,219.35 699.16,219.57 701.21,219.88 C703.26,220.20 705.93,220.57 708.74,220.83 C711.56,221.10 714.97,221.31 718.08,221.47 C721.19,221.62 723.80,221.70 727.41,221.78 C731.01,221.87 735.62,221.93 739.73,221.97 C743.83,222.02 749.50,222.03 752.04,222.05 C754.59,222.07 754.51,222.09 755.00,222.10" stroke="#ff0000"/>
<path d="M455.00,222.10 C464.02,222.09 498.07,222.07 509.14,222.05 C520.22,222.03 517.35,222.02 521.44,221.97 C525.53,221.93 530.12,221.87 533.71,221.78 C537.29,221.70 539.88,221.62 542.95,221.47 C546.02,221.31 549.39,221.10 552.12,220.83 C554.85,220.57 557.42,220.20 559.34,219.88 C561.27,219.57 562.17,219.35 563.67,218.93 C565.16,218.51 567.04,217.88 568.33,217.35 C569.62,216.82 570.34,216.45 571.41,215.76 C572.48,215.08 573.49,214.28 574.75,213.23 C576.01,212.17 577.70,210.80 578.97,209.43 C580.23,208.05 581.32,206.57 582.34,204.99 C583.35,203.41 584.21,201.82 585.07,199.92 C585.93,198.02 586.67,195.80 587.51,193.58 C588.34,191.37 589.24,189.04 590.07,186.61 C590.90,184.18 591.73,181.54 592.46,179.01 C593.19,176.47 593.81,174.04 594.44,171.40 C595.07,168.76 595.67,165.91 596.26,163.17 C596.84,160.42 597.43,157.46 597.95,154.93 C598.47,152.39 598.97,149.81 599.36,147.96 C599.75,146.10 599.81,143.71 600.30,143.80 C600.79,143.89 601.63,146.78 602.30,148.50 C602.97,150.22 603.72,154.52 604.30,154.10 C604.88,153.68 605.35,149.02 605.80,146.00 C606.25,142.98 606.65,138.78 607.00,136.00 C607.35,133.22 607.63,131.58 607.90,129.30 C608.17,127.02 608.17,125.82 608.60,122.30 C609.03,118.78 609.87,112.90 610.50,108.20 C611.13,103.50 611.73,98.80 612.40,94.10 C613.07,89.40 613.80,83.52 614.50,80.00 C615.20,76.48 615.85,75.08 616.60,73.00 C617.35,70.92 618.10,69.00 619.00,67.50 C619.90,66.00 620.88,64.80 622.00,64.00 C623.12,63.20 624.50,62.70 625.70,62.70 C626.90,62.70 628.12,63.20 629.20,64.00 C630.28,64.80 631.30,66.00 632.20,67.50 C633.10,69.00 633.85,70.92 634.60,73.00 C635.35,75.08 636.00,76.48 636.70,80.00 C637.40,83.52 638.13,89.40 638.80,94.10 C639.47,98.80 640.07,103.50 640.70,108.20 C641.33,112.90 642.17,118.78 642.60,122.30 C643.03,125.82 643.03,127.02 643.30,129.30 C643.57,131.58 643.85,133.22 644.20,136.00 C644.55,138.78 644.95,142.98 645.40,146.00 C645.85,149.02 646.32,153.68 646.90,154.10 C647.48,154.52 648.23,150.22 648.90,148.50 C649.57,146.78 650.41,143.89 650.90,143.80 C651.39,143.71 651.45,146.10 651.84,147.96 C652.23,149.81 652.73,152.39 653.25,154.93 C653.77,157.46 654.36,160.42 654.94,163.17 C655.53,165.91 656.13,168.76 656.76,171.40 C657.39,174.04 658.01,176.47 658.74,179.01 C659.47,181.54 660.30,184.18 661.13,186.61 C661.96,189.04 662.86,191.37 663.69,193.58 C664.53,195.80 665.27,198.02 666.13,199.92 C666.99,201.82 667.85,203.41 668.86,204.99 C669.88,206.57 670.97,208.05 672.23,209.43 C673.50,210.80 675.19,212.17 676.45,213.23 C677.71,214.28 678.72,215.08 679.79,215.76 C680.86,216.45 681.58,216.82 682.87,217.35 C684.16,217.88 686.04,218.51 687.53,218.93 C689.03,219.35 689.93,219.57 691.86,219.88 C693.78,220.20 696.35,220.57 699.08,220.83 C701.81,221.10 705.18,221.31 708.25,221.47 C711.32,221.62 713.91,221.70 717.49,221.78 C721.08,221.87 725.67,221.93 729.76,221.97 C733.85,222.02 737.85,222.03 742.06,222.05 C746.26,222.07 752.84,222.09 755.00,222.10" stroke="#00ff00"/>
<path d="M455.00,222.10 C463.52,222.09 495.57,222.07 506.14,222.05 C516.72,222.03 514.35,222.02 518.44,221.97 C522.53,221.93 527.12,221.87 530.71,221.78 C534.29,221.70 536.88,221.62 539.95,221.47 C543.02,221.31 546.38,221.10 549.12,220.83 C551.86,220.57 554.44,220.20 556.39,219.88 C558.35,219.57 559.30,219.35 560.87,218.93 C562.44,218.51 564.42,217.88 565.79,217.35 C567.17,216.82 567.96,216.45 569.13,215.76 C570.31,215.08 571.49,214.28 572.86,213.23 C574.23,212.17 575.99,210.80 577.35,209.43 C578.71,208.05 579.90,206.57 581.03,204.99 C582.16,203.41 583.12,201.82 584.12,199.92 C585.12,198.02 586.06,195.80 587.01,193.58 C587.95,191.37 588.89,189.04 589.77,186.61 C590.65,184.18 591.52,181.54 592.30,179.01 C593.07,176.47 593.73,174.04 594.41,171.40 C595.09,168.76 595.74,165.91 596.38,163.17 C597.01,160.42 597.59,157.78 598.22,154.93 C598.85,152.08 599.51,149.12 600.16,146.06 C600.81,142.99 601.58,139.19 602.13,136.55 C602.68,133.91 603.26,131.42 603.45,130.21 C603.65,129.01 603.04,130.62 603.30,129.30 C603.56,127.98 604.23,125.23 605.00,122.30 C605.77,119.37 607.02,115.23 607.90,111.70 C608.78,108.17 609.62,103.88 610.30,101.10 C610.98,98.32 611.42,96.35 612.00,95.00 C612.58,93.65 613.13,93.17 613.80,93.00 C614.47,92.83 615.13,93.25 616.00,94.00 C616.87,94.75 618.00,96.37 619.00,97.50 C620.00,98.63 621.00,100.08 622.00,100.80 C623.00,101.52 623.80,101.80 625.00,101.80 C626.20,101.80 628.00,101.52 629.20,100.80 C630.40,100.08 631.20,98.63 632.20,97.50 C633.20,96.37 634.33,94.75 635.20,94.00 C636.07,93.25 636.73,92.83 637.40,93.00 C638.07,93.17 638.62,93.65 639.20,95.00 C639.78,96.35 640.22,98.32 640.90,101.10 C641.58,103.88 642.42,108.17 643.30,111.70 C644.18,115.23 645.43,119.37 646.20,122.30 C646.97,125.23 647.64,127.98 647.90,129.30 C648.16,130.62 647.55,129.01 647.75,130.21 C647.94,131.42 648.52,133.91 649.07,136.55 C649.62,139.19 650.39,142.99 651.04,146.06 C651.69,149.12 652.35,152.08 652.98,154.93 C653.61,157.78 654.19,160.42 654.82,163.17 C655.46,165.91 656.11,168.76 656.79,171.40 C657.47,174.04 658.13,176.47 658.90,179.01 C659.68,181.54 660.55,184.18 661.43,186.61 C662.31,189.04 663.25,191.37 664.19,193.58 C665.14,195.80 666.08,198.02 667.08,199.92 C668.08,201.82 669.04,203.41 670.17,204.99 C671.30,206.57 672.49,208.05 673.85,209.43 C675.21,210.80 676.97,212.17 678.34,213.23 C679.71,214.28 680.89,215.08 682.07,215.76 C683.24,216.45 684.03,216.82 685.41,217.35 C686.78,217.88 688.76,218.51 690.33,218.93 C691.90,219.35 692.85,219.57 694.81,219.88 C696.76,220.20 699.34,220.57 702.08,220.83 C704.82,221.10 708.18,221.31 711.25,221.47 C714.32,221.62 716.91,221.70 720.49,221.78 C724.08,221.87 728.67,221.93 732.76,221.97 C736.85,222.02 741.35,222.03 745.06,222.05 C748.76,222.07 753.34,222.09 755.00,222.10" stroke="#0000ff"/>
<path d="M455.00,222.10 C463.19,222.09 493.90,222.07 504.14,222.05 C514.38,222.03 512.35,222.02 516.44,221.97 C520.53,221.93 525.12,221.87 528.71,221.78 C532.29,221.70 534.88,221.62 537.95,221.47 C541.02,221.31 544.38,221.10 547.12,220.83 C549.87,220.57 552.45,220.20 554.43,219.88 C556.41,219.57 557.40,219.35 559.02,218.93 C560.64,218.51 562.69,217.88 564.13,217.35 C565.57,216.82 566.40,216.45 567.66,215.76 C568.91,215.08 570.24,214.28 571.67,213.23 C573.09,212.17 574.84,210.80 576.23,209.43 C577.61,208.05 578.83,206.57 579.99,204.99 C581.15,203.41 582.14,201.82 583.18,199.92 C584.21,198.02 585.20,195.80 586.18,193.58 C587.16,191.37 588.14,189.04 589.07,186.61 C590.00,184.18 590.91,181.54 591.73,179.01 C592.55,176.47 593.26,174.04 593.98,171.40 C594.71,168.76 595.42,165.91 596.10,163.17 C596.77,160.42 597.38,157.78 598.02,154.93 C598.66,152.08 599.29,149.12 599.96,146.06 C600.62,142.99 601.41,139.19 601.99,136.55 C602.58,133.91 603.47,131.42 603.45,130.21 C603.44,129.01 601.76,130.62 601.90,129.30 C602.04,127.98 603.53,124.85 604.30,122.30 C605.07,119.75 605.82,115.83 606.50,114.00 C607.18,112.17 607.73,111.47 608.40,111.30 C609.07,111.13 609.60,111.17 610.50,113.00 C611.40,114.83 612.72,120.18 613.80,122.30 C614.88,124.42 615.77,124.77 617.00,125.70 C618.23,126.63 619.83,127.43 621.20,127.90 C622.57,128.37 623.73,128.50 625.20,128.50 C626.67,128.50 628.50,128.37 630.00,127.90 C631.50,127.43 632.97,126.63 634.20,125.70 C635.43,124.77 636.32,124.42 637.40,122.30 C638.48,120.18 639.80,114.83 640.70,113.00 C641.60,111.17 642.13,111.13 642.80,111.30 C643.47,111.47 644.02,112.17 644.70,114.00 C645.38,115.83 646.13,119.75 646.90,122.30 C647.67,124.85 649.16,127.98 649.30,129.30 C649.44,130.62 647.76,129.01 647.75,130.21 C647.73,131.42 648.62,133.91 649.21,136.55 C649.79,139.19 650.58,142.99 651.24,146.06 C651.91,149.12 652.54,152.08 653.18,154.93 C653.82,157.78 654.43,160.42 655.10,163.17 C655.78,165.91 656.49,168.76 657.22,171.40 C657.94,174.04 658.65,176.47 659.47,179.01 C660.29,181.54 661.20,184.18 662.13,186.61 C663.06,189.04 664.04,191.37 665.02,193.58 C666.00,195.80 666.99,198.02 668.02,199.92 C669.06,201.82 670.05,203.41 671.21,204.99 C672.37,206.57 673.59,208.05 674.97,209.43 C676.36,210.80 678.11,212.17 679.53,213.23 C680.96,214.28 682.29,215.08 683.54,215.76 C684.80,216.45 685.63,216.82 687.07,217.35 C688.51,217.88 690.56,218.51 692.18,218.93 C693.80,219.35 694.79,219.57 696.77,219.88 C698.75,220.20 701.33,220.57 704.08,220.83 C706.82,221.10 710.18,221.31 713.25,221.47 C716.32,221.62 718.91,221.70 722.49,221.78 C726.08,221.87 730.67,221.93 734.76,221.97 C738.85,222.02 743.68,222.03 747.06,222.05 C750.43,222.07 753.68,222.09 755.00,222.10" stroke="#ff00ff"/>
</g>
<clipPath id="cpd"><rect x="462.20" y="246.70" width="284.60" height="191.60"/></clipPath>
<g clip-path="url(#cpd)" fill="none" stroke-width="2.0" stroke-linejoin="round" stroke-linecap="round">
<path d="M459.83,438.30 C459.99,438.30 460.46,438.30 460.78,438.30 C461.09,438.30 461.41,438.30 461.73,438.30 C462.04,438.30 462.36,438.30 462.67,438.30 C462.99,438.30 463.31,438.30 463.62,438.30 C463.94,438.30 464.25,438.30 464.57,438.30 C464.89,438.30 465.20,438.30 465.52,438.29 C465.83,438.29 466.15,438.29 466.47,438.29 C466.78,438.29 467.10,438.29 467.41,438.29 C467.73,438.29 468.05,438.29 468.36,438.29 C468.68,438.29 468.99,438.29 469.31,438.29 C469.63,438.29 469.94,438.29 470.26,438.29 C470.57,438.29 470.89,438.29 471.21,438.29 C471.52,438.29 471.84,438.29 472.15,438.29 C472.47,438.29 472.79,438.29 473.10,438.29 C473.42,438.29 473.73,438.29 474.05,438.29 C474.37,438.29 474.68,438.29 475.00,438.29 C475.31,438.29 475.63,438.29 475.95,438.29 C476.26,438.29 476.58,438.29 476.89,438.29 C477.21,438.29 477.53,438.29 477.84,438.29 C478.16,438.29 478.47,438.29 478.79,438.29 C479.11,438.29 479.42,438.29 479.74,438.29 C480.05,438.29 480.37,438.28 480.69,438.28 C481.00,438.28 481.32,438.28 481.63,438.28 C481.95,438.28 482.27,438.28 482.58,438.28 C482.90,438.28 483.21,438.28 483.53,438.28 C483.85,438.28 484.16,438.28 484.48,438.28 C484.79,438.28 485.11,438.28 485.43,438.28 C485.74,438.28 486.06,438.28 486.37,438.28 C486.69,438.28 487.01,438.28 487.32,438.27 C487.64,438.27 487.95,438.27 488.27,438.27 C488.59,438.27 488.90,438.27 489.22,438.27 C489.53,438.27 489.85,438.27 490.17,438.27 C490.48,438.27 490.80,438.27 491.11,438.27 C491.43,438.27 491.75,438.26 492.06,438.26 C492.38,438.26 492.69,438.26 493.01,438.26 C493.33,438.26 493.64,438.26 493.96,438.26 C494.27,438.26 494.59,438.26 494.91,438.26 C495.22,438.25 495.54,438.25 495.85,438.25 C496.17,438.25 496.49,438.25 496.80,438.25 C497.12,438.25 497.43,438.25 497.75,438.24 C498.07,438.24 498.38,438.24 498.70,438.24 C499.01,438.24 499.33,438.24 499.65,438.24 C499.96,438.24 500.28,438.23 500.59,438.23 C500.91,438.23 501.23,438.23 501.54,438.23 C501.86,438.23 502.17,438.22 502.49,438.22 C502.81,438.22 503.12,438.22 503.44,438.22 C503.75,438.21 504.07,438.21 504.39,438.21 C504.70,438.21 505.02,438.21 505.33,438.20 C505.65,438.20 505.97,438.20 506.28,438.20 C506.60,438.19 506.91,438.19 507.23,438.19 C507.55,438.19 507.86,438.18 508.18,438.18 C508.49,438.18 508.81,438.17 509.13,438.17 C509.44,438.17 509.76,438.17 510.07,438.16 C510.39,438.16 510.71,438.16 511.02,438.15 C511.34,438.15 511.65,438.14 511.97,438.14 C512.29,438.14 512.60,438.13 512.92,438.13 C513.23,438.13 513.55,438.12 513.87,438.12 C514.18,438.11 514.50,438.11 514.81,438.10 C515.13,438.10 515.45,438.09 515.76,438.09 C516.08,438.08 516.39,438.08 516.71,438.07 C517.03,438.07 517.34,438.06 517.66,438.06 C517.97,438.05 518.29,438.05 518.61,438.04 C518.92,438.03 519.24,438.03 519.55,438.02 C519.87,438.01 520.19,438.01 520.50,438.00 C520.82,437.99 521.13,437.99 521.45,437.98 C521.77,437.97 522.08,437.96 522.40,437.96 C522.71,437.95 523.03,437.94 523.35,437.93 C523.66,437.92 523.98,437.91 524.29,437.90 C524.61,437.89 524.93,437.88 525.24,437.87 C525.56,437.86 525.87,437.85 526.19,437.84 C526.51,437.83 526.82,437.82 527.14,437.81 C527.45,437.80 527.77,437.79 528.09,437.77 C528.40,437.76 528.72,437.75 529.03,437.74 C529.35,437.72 529.67,437.71 529.98,437.69 C530.30,437.68 530.61,437.67 530.93,437.65 C531.25,437.63 531.56,437.62 531.88,437.60 C532.19,437.59 532.51,437.57 532.83,437.55 C533.14,437.53 533.46,437.52 533.77,437.50 C534.09,437.48 534.41,437.46 534.72,437.44 C535.04,437.42 535.35,437.40 535.67,437.38 C535.99,437.35 536.30,437.33 536.62,437.31 C536.93,437.28 537.25,437.26 537.57,437.24 C537.88,437.21 538.20,437.19 538.51,437.16 C538.83,437.13 539.15,437.10 539.46,437.08 C539.78,437.05 540.09,437.02 540.41,436.99 C540.73,436.96 541.04,436.92 541.36,436.89 C541.67,436.86 541.99,436.82 542.31,436.79 C542.62,436.75 542.94,436.72 543.25,436.68 C543.57,436.64 543.89,436.60 544.20,436.56 C544.52,436.52 544.83,436.48 545.15,436.43 C545.47,436.39 545.78,436.34 546.10,436.30 C546.41,436.25 546.73,436.20 547.05,436.15 C547.36,436.10 547.68,436.05 547.99,436.00 C548.31,435.94 548.63,435.89 548.94,435.83 C549.26,435.77 549.57,435.71 549.89,435.65 C550.21,435.59 550.52,435.52 550.84,435.46 C551.15,435.39 551.47,435.32 551.79,435.25 C552.10,435.18 552.42,435.11 552.73,435.03 C553.05,434.95 553.37,434.87 553.68,434.79 C554.00,434.71 554.31,434.63 554.63,434.54 C554.95,434.45 555.26,434.36 555.58,434.27 C555.89,434.17 556.21,434.08 556.53,433.98 C556.84,433.87 557.16,433.77 557.47,433.66 C557.79,433.56 558.11,433.44 558.42,433.33 C558.74,433.21 559.05,433.09 559.37,432.97 C559.69,432.85 560.00,432.72 560.32,432.59 C560.63,432.45 560.95,432.32 561.27,432.18 C561.58,432.03 561.90,431.89 562.21,431.74 C562.53,431.59 562.85,431.43 563.16,431.27 C563.48,431.10 563.79,430.94 564.11,430.76 C564.43,430.59 564.74,430.41 565.06,430.22 C565.37,430.04 565.69,429.85 566.01,429.65 C566.32,429.45 566.64,429.24 566.95,429.03 C567.27,428.82 567.59,428.60 567.90,428.37 C568.22,428.14 568.53,427.91 568.85,427.67 C569.17,427.42 569.48,427.17 569.80,426.91 C570.11,426.65 570.43,426.39 570.75,426.11 C571.06,425.83 571.38,425.55 571.69,425.25 C572.01,424.95 572.33,424.65 572.64,424.33 C572.96,424.02 573.27,423.69 573.59,423.35 C573.91,423.02 574.22,422.67 574.54,422.31 C574.85,421.95 575.17,421.58 575.49,421.19 C575.80,420.81 576.12,420.41 576.43,420.01 C576.75,419.60 577.07,419.18 577.38,418.74 C577.70,418.31 578.01,417.86 578.33,417.39 C578.65,416.93 578.96,416.45 579.28,415.96 C579.59,415.47 579.91,414.96 580.23,414.43 C580.54,413.91 580.86,413.37 581.17,412.81 C581.49,412.26 581.81,411.68 582.12,411.09 C582.44,410.50 582.75,409.89 583.07,409.26 C583.39,408.63 583.70,407.99 584.02,407.32 C584.33,406.66 584.65,405.97 584.97,405.27 C585.28,404.56 585.60,403.84 585.91,403.09 C586.23,402.35 586.55,401.58 586.86,400.79 C587.18,400.00 587.49,399.19 587.81,398.36 C588.13,397.53 588.44,396.67 588.76,395.79 C589.07,394.92 589.39,394.01 589.71,393.09 C590.02,392.16 590.34,391.21 590.65,390.24 C590.97,389.27 591.29,388.27 591.60,387.24 C591.92,386.22 592.23,385.17 592.55,384.10 C592.87,383.02 593.18,381.93 593.50,380.80 C593.81,379.68 594.13,378.53 594.45,377.35 C594.76,376.17 595.08,374.97 595.39,373.74 C595.71,372.51 596.03,371.26 596.34,369.98 C596.66,368.70 596.97,367.40 597.29,366.07 C597.61,364.74 597.92,363.38 598.24,362.00 C598.55,360.62 598.87,359.22 599.19,357.79 C599.50,356.36 599.82,354.91 600.13,353.43 C600.45,351.96 600.77,350.46 601.08,348.95 C601.40,347.43 601.71,345.89 602.03,344.33 C602.35,342.78 602.66,341.20 602.98,339.60 C603.29,338.01 603.61,336.40 603.93,334.77 C604.24,333.15 604.56,331.51 604.87,329.86 C605.19,328.21 605.51,326.54 605.82,324.87 C606.14,323.20 606.45,321.52 606.77,319.83 C607.09,318.15 607.40,316.46 607.72,314.77 C608.03,313.08 608.35,311.39 608.67,309.70 C608.98,308.01 609.30,306.33 609.61,304.65 C609.93,302.98 610.25,301.31 610.56,299.65 C610.88,298.00 611.19,296.35 611.51,294.73 C611.83,293.11 612.14,291.50 612.46,289.92 C612.77,288.34 613.09,286.78 613.41,285.25 C613.72,283.72 614.04,282.22 614.35,280.76 C614.67,279.29 614.99,277.86 615.30,276.47 C615.62,275.08 615.93,273.72 616.25,272.42 C616.57,271.12 616.88,269.86 617.20,268.65 C617.51,267.44 617.83,266.28 618.15,265.18 C618.46,264.08 618.78,263.04 619.09,262.05 C619.41,261.07 619.73,260.14 620.04,259.29 C620.36,258.43 620.67,257.63 620.99,256.91 C621.31,256.19 621.62,255.53 621.94,254.95 C622.25,254.36 622.57,253.85 622.89,253.41 C623.20,252.98 623.52,252.61 623.83,252.33 C624.15,252.04 624.47,251.83 624.78,251.69 C625.10,251.56 625.41,251.50 625.73,251.53 C626.05,251.55 626.36,251.65 626.68,251.82 C626.99,252.00 627.31,252.25 627.63,252.58 C627.94,252.91 628.26,253.31 628.57,253.79 C628.89,254.27 629.21,254.82 629.52,255.44 C629.84,256.07 630.15,256.76 630.47,257.52 C630.79,258.28 631.10,259.12 631.42,260.01 C631.73,260.90 632.05,261.86 632.37,262.88 C632.68,263.89 633.00,264.97 633.31,266.10 C633.63,267.23 633.95,268.42 634.26,269.65 C634.58,270.89 634.89,272.18 635.21,273.51 C635.53,274.83 635.84,276.21 636.16,277.62 C636.47,279.03 636.79,280.49 637.11,281.97 C637.42,283.45 637.74,284.97 638.05,286.52 C638.37,288.06 638.69,289.63 639.00,291.23 C639.32,292.82 639.63,294.44 639.95,296.07 C640.27,297.70 640.58,299.36 640.90,301.02 C641.21,302.68 641.53,304.35 641.85,306.03 C642.16,307.71 642.48,309.40 642.79,311.09 C643.11,312.78 643.43,314.47 643.74,316.16 C644.06,317.85 644.37,319.54 644.69,321.22 C645.01,322.90 645.32,324.58 645.64,326.24 C645.95,327.91 646.27,329.57 646.59,331.21 C646.90,332.86 647.22,334.49 647.53,336.11 C647.85,337.72 648.17,339.33 648.48,340.91 C648.80,342.49 649.11,344.06 649.43,345.61 C649.75,347.16 650.06,348.68 650.38,350.19 C650.69,351.69 651.01,353.18 651.33,354.64 C651.64,356.10 651.96,357.54 652.27,358.96 C652.59,360.37 652.91,361.76 653.22,363.13 C653.54,364.50 653.85,365.84 654.17,367.15 C654.49,368.47 654.80,369.76 655.12,371.03 C655.43,372.29 655.75,373.53 656.07,374.75 C656.38,375.96 656.70,377.15 657.01,378.31 C657.33,379.47 657.65,380.61 657.96,381.72 C658.28,382.83 658.59,383.92 658.91,384.98 C659.23,386.04 659.54,387.07 659.86,388.08 C660.17,389.09 660.49,390.08 660.81,391.04 C661.12,392.00 661.44,392.93 661.75,393.85 C662.07,394.76 662.39,395.65 662.70,396.51 C663.02,397.38 663.33,398.22 663.65,399.04 C663.97,399.86 664.28,400.66 664.60,401.44 C664.91,402.21 665.23,402.97 665.55,403.70 C665.86,404.44 666.18,405.15 666.49,405.84 C666.81,406.54 667.13,407.21 667.44,407.87 C667.76,408.52 668.07,409.16 668.39,409.77 C668.71,410.39 669.02,410.99 669.34,411.57 C669.65,412.16 669.97,412.72 670.29,413.27 C670.60,413.82 670.92,414.35 671.23,414.86 C671.55,415.38 671.87,415.88 672.18,416.36 C672.50,416.85 672.81,417.32 673.13,417.77 C673.45,418.23 673.76,418.67 674.08,419.10 C674.39,419.52 674.71,419.94 675.03,420.34 C675.34,420.74 675.66,421.13 675.97,421.51 C676.29,421.88 676.61,422.25 676.92,422.60 C677.24,422.95 677.55,423.30 677.87,423.63 C678.19,423.96 678.50,424.28 678.82,424.59 C679.13,424.90 679.45,425.20 679.77,425.49 C680.08,425.78 680.40,426.06 680.71,426.33 C681.03,426.61 681.35,426.87 681.66,427.13 C681.98,427.38 682.29,427.63 682.61,427.86 C682.93,428.10 683.24,428.33 683.56,428.56 C683.87,428.78 684.19,429.00 684.51,429.20 C684.82,429.41 685.14,429.61 685.45,429.81 C685.77,430.00 686.09,430.19 686.40,430.38 C686.72,430.56 687.03,430.73 687.35,430.90 C687.67,431.07 687.98,431.24 688.30,431.40 C688.61,431.56 688.93,431.71 689.25,431.86 C689.56,432.01 689.88,432.15 690.19,432.29 C690.51,432.43 690.83,432.57 691.14,432.70 C691.46,432.83 691.77,432.95 692.09,433.07 C692.41,433.19 692.72,433.31 693.04,433.42 C693.35,433.54 693.67,433.65 693.99,433.75 C694.30,433.86 694.62,433.96 694.93,434.06 C695.25,434.16 695.57,434.25 695.88,434.34 C696.20,434.44 696.51,434.52 696.83,434.61 C697.15,434.70 697.46,434.78 697.78,434.86 C698.09,434.94 698.41,435.02 698.73,435.09 C699.04,435.17 699.36,435.24 699.67,435.31 C699.99,435.38 700.31,435.45 700.62,435.51 C700.94,435.58 701.25,435.64 701.57,435.70 C701.89,435.76 702.20,435.82 702.52,435.88 C702.83,435.93 703.15,435.99 703.47,436.04 C703.78,436.09 704.10,436.14 704.41,436.19 C704.73,436.24 705.05,436.29 705.36,436.34 C705.68,436.38 705.99,436.43 706.31,436.47 C706.63,436.51 706.94,436.55 707.26,436.59 C707.57,436.63 707.89,436.67 708.21,436.71 C708.52,436.75 708.84,436.78 709.15,436.82 C709.47,436.85 709.79,436.88 710.10,436.92 C710.42,436.95 710.73,436.98 711.05,437.01 C711.37,437.04 711.68,437.07 712.00,437.10 C712.31,437.13 712.63,437.15 712.95,437.18 C713.26,437.21 713.58,437.23 713.89,437.26 C714.21,437.28 714.53,437.30 714.84,437.33 C715.16,437.35 715.47,437.37 715.79,437.39 C716.11,437.41 716.42,437.43 716.74,437.45 C717.05,437.47 717.37,437.49 717.69,437.51 C718.00,437.53 718.32,437.55 718.63,437.57 C718.95,437.58 719.27,437.60 719.58,437.62 C719.90,437.63 720.21,437.65 720.53,437.66 C720.85,437.68 721.16,437.69 721.48,437.71 C721.79,437.72 722.11,437.73 722.43,437.75 C722.74,437.76 723.06,437.77 723.37,437.78 C723.69,437.80 724.01,437.81 724.32,437.82 C724.64,437.83 724.95,437.84 725.27,437.85 C725.59,437.86 725.90,437.87 726.22,437.88 C726.53,437.89 726.85,437.90 727.17,437.91 C727.48,437.92 727.80,437.93 728.11,437.94 C728.43,437.95 728.75,437.95 729.06,437.96 C729.38,437.97 729.69,437.98 730.01,437.98 C730.33,437.99 730.64,438.00 730.96,438.01 C731.27,438.01 731.59,438.02 731.91,438.03 C732.22,438.03 732.54,438.04 732.85,438.04 C733.17,438.05 733.49,438.06 733.80,438.06 C734.12,438.07 734.43,438.07 734.75,438.08 C735.07,438.08 735.38,438.09 735.70,438.09 C736.01,438.10 736.33,438.10 736.65,438.11 C736.96,438.11 737.28,438.12 737.59,438.12 C737.91,438.12 738.23,438.13 738.54,438.13 C738.86,438.14 739.17,438.14 739.49,438.14 C739.81,438.15 740.12,438.15 740.44,438.15 C740.75,438.16 741.07,438.16 741.39,438.16 C741.70,438.17 742.02,438.17 742.33,438.17 C742.65,438.18 742.97,438.18 743.28,438.18 C743.60,438.19 743.91,438.19 744.23,438.19 C744.55,438.19 744.86,438.20 745.18,438.20 C745.49,438.20 745.81,438.20 746.13,438.20 C746.44,438.21 746.76,438.21 747.07,438.21 C747.39,438.21 747.86,438.22 748.02,438.22" stroke="#000"/>
<path d="M455.00,438.30 C462.01,438.29 487.99,438.27 497.06,438.25 C506.12,438.23 505.27,438.22 509.37,438.17 C513.48,438.13 518.08,438.07 521.69,437.98 C525.30,437.90 527.91,437.82 531.02,437.66 C534.13,437.51 537.54,437.29 540.36,437.03 C543.17,436.76 545.85,436.39 547.91,436.08 C549.97,435.76 551.01,435.55 552.74,435.12 C554.46,434.70 556.67,434.06 558.24,433.54 C559.81,433.01 560.74,432.64 562.16,431.95 C563.59,431.26 565.19,430.46 566.78,429.41 C568.37,428.35 570.19,426.97 571.71,425.59 C573.23,424.22 574.60,422.74 575.91,421.15 C577.22,419.56 578.37,417.97 579.59,416.06 C580.81,414.16 582.08,411.94 583.22,409.71 C584.36,407.49 585.42,405.16 586.44,402.72 C587.47,400.29 588.46,397.64 589.37,395.10 C590.28,392.56 591.07,390.12 591.89,387.48 C592.71,384.83 593.53,381.97 594.29,379.22 C595.05,376.46 595.73,373.82 596.45,370.96 C597.16,368.10 597.86,365.13 598.56,362.06 C599.27,358.99 600.20,354.85 600.66,352.53 C601.11,350.22 600.83,350.37 601.30,348.20 C601.77,346.03 602.88,341.67 603.50,339.50 C604.12,337.33 604.52,336.13 605.00,335.20 C605.48,334.27 605.92,333.85 606.40,333.90 C606.88,333.95 607.40,334.23 607.90,335.50 C608.40,336.77 608.92,338.08 609.40,341.50 C609.88,344.92 610.32,349.72 610.80,356.00 C611.28,362.28 611.85,372.70 612.30,379.20 C612.75,385.70 613.12,390.53 613.50,395.00 C613.88,399.47 614.22,402.67 614.60,406.00 C614.98,409.33 615.42,412.50 615.80,415.00 C616.18,417.50 616.53,419.37 616.90,421.00 C617.27,422.63 617.65,423.93 618.00,424.80 C618.35,425.67 618.62,426.07 619.00,426.20 C619.38,426.33 619.83,426.22 620.30,425.60 C620.77,424.98 621.27,423.63 621.80,422.50 C622.33,421.37 622.88,419.67 623.50,418.80 C624.12,417.93 624.83,417.30 625.50,417.30 C626.17,417.30 626.88,417.93 627.50,418.80 C628.12,419.67 628.68,421.37 629.20,422.50 C629.72,423.63 630.18,424.98 630.60,425.60 C631.02,426.22 631.33,426.38 631.70,426.20 C632.07,426.02 632.42,425.42 632.80,424.50 C633.18,423.58 633.60,422.78 634.00,420.70 C634.40,418.62 634.78,415.87 635.20,412.00 C635.62,408.13 636.13,401.67 636.50,397.50 C636.87,393.33 637.10,390.05 637.40,387.00 C637.70,383.95 637.98,382.70 638.30,379.20 C638.62,375.70 638.98,369.87 639.30,366.00 C639.62,362.13 639.83,359.50 640.20,356.00 C640.57,352.50 641.07,348.42 641.50,345.00 C641.93,341.58 642.43,337.92 642.80,335.50 C643.17,333.08 643.42,331.62 643.70,330.50 C643.98,329.38 644.20,328.92 644.50,328.80 C644.80,328.68 645.12,329.02 645.50,329.80 C645.88,330.58 646.35,331.88 646.80,333.50 C647.25,335.12 647.75,337.38 648.20,339.50 C648.65,341.62 649.11,344.03 649.50,346.20 C649.89,348.37 650.02,349.89 650.54,352.53 C651.06,355.18 651.93,358.99 652.64,362.06 C653.34,365.13 654.04,368.10 654.75,370.96 C655.47,373.82 656.15,376.46 656.91,379.22 C657.67,381.97 658.49,384.83 659.31,387.48 C660.13,390.12 660.92,392.56 661.83,395.10 C662.74,397.64 663.73,400.29 664.76,402.72 C665.78,405.16 666.84,407.49 667.98,409.71 C669.12,411.94 670.39,414.16 671.61,416.06 C672.83,417.97 673.98,419.56 675.29,421.15 C676.60,422.74 677.97,424.22 679.49,425.59 C681.01,426.97 682.83,428.35 684.42,429.41 C686.01,430.46 687.61,431.26 689.04,431.95 C690.46,432.64 691.39,433.01 692.96,433.54 C694.53,434.06 696.74,434.70 698.46,435.12 C700.19,435.55 701.23,435.76 703.29,436.08 C705.35,436.39 708.03,436.76 710.84,437.03 C713.66,437.29 717.07,437.51 720.18,437.66 C723.29,437.82 725.90,437.90 729.51,437.98 C733.12,438.07 737.72,438.13 741.83,438.17 C745.93,438.22 751.95,438.23 754.14,438.25 C756.34,438.27 754.86,438.29 755.00,438.30" stroke="#ff0000"/>
<path d="M455.00,438.30 C462.52,438.29 490.57,438.27 500.15,438.25 C509.72,438.23 508.35,438.22 512.45,438.17 C516.55,438.13 521.15,438.07 524.74,437.98 C528.34,437.90 530.93,437.82 534.02,437.66 C537.10,437.51 540.48,437.29 543.26,437.03 C546.04,436.76 548.66,436.39 550.70,436.08 C552.74,435.76 553.78,435.55 555.49,435.12 C557.20,434.70 559.39,434.06 560.94,433.54 C562.49,433.01 563.41,432.64 564.80,431.95 C566.20,431.26 567.77,430.46 569.33,429.41 C570.88,428.35 572.65,426.97 574.12,425.59 C575.59,424.22 576.89,422.74 578.14,421.15 C579.39,419.56 580.48,417.97 581.62,416.06 C582.76,414.16 583.94,411.94 584.99,409.71 C586.04,407.49 587.00,405.16 587.93,402.72 C588.86,400.29 589.75,397.64 590.57,395.10 C591.39,392.56 592.13,390.12 592.87,387.48 C593.62,384.83 594.36,381.97 595.04,379.22 C595.72,376.46 596.33,373.82 596.96,370.96 C597.59,368.10 598.16,365.13 598.82,362.06 C599.48,358.99 600.41,354.95 600.93,352.53 C601.44,350.12 601.52,348.06 601.90,347.60 C602.28,347.14 602.65,348.48 603.20,349.80 C603.75,351.12 604.50,353.38 605.20,355.50 C605.90,357.62 606.68,360.55 607.40,362.50 C608.12,364.45 608.90,367.12 609.50,367.20 C610.10,367.28 610.55,365.20 611.00,363.00 C611.45,360.80 611.85,356.83 612.20,354.00 C612.55,351.17 612.68,348.90 613.10,346.00 C613.52,343.10 614.17,339.10 614.70,336.60 C615.23,334.10 615.67,332.28 616.30,331.00 C616.93,329.72 617.80,329.07 618.50,328.90 C619.20,328.73 619.83,329.35 620.50,330.00 C621.17,330.65 621.73,332.08 622.50,332.80 C623.27,333.52 624.23,334.30 625.10,334.30 C625.97,334.30 626.93,333.52 627.70,332.80 C628.47,332.08 629.03,330.65 629.70,330.00 C630.37,329.35 631.02,328.73 631.70,328.90 C632.38,329.07 633.15,329.72 633.80,331.00 C634.45,332.28 635.05,333.73 635.60,336.60 C636.15,339.47 636.68,344.97 637.10,348.20 C637.52,351.43 637.70,353.37 638.10,356.00 C638.50,358.63 638.95,362.13 639.50,364.00 C640.05,365.87 640.77,367.70 641.40,367.20 C642.03,366.70 642.67,363.52 643.30,361.00 C643.93,358.48 644.62,354.68 645.20,352.10 C645.78,349.52 646.30,346.88 646.80,345.50 C647.30,344.12 647.75,343.72 648.20,343.80 C648.65,343.88 649.15,344.54 649.50,346.00 C649.85,347.46 649.79,349.86 650.27,352.53 C650.75,355.21 651.72,358.99 652.38,362.06 C653.04,365.13 653.61,368.10 654.24,370.96 C654.87,373.82 655.48,376.46 656.16,379.22 C656.84,381.97 657.58,384.83 658.33,387.48 C659.07,390.12 659.81,392.56 660.63,395.10 C661.45,397.64 662.34,400.29 663.27,402.72 C664.20,405.16 665.16,407.49 666.21,409.71 C667.26,411.94 668.44,414.16 669.58,416.06 C670.72,417.97 671.81,419.56 673.06,421.15 C674.31,422.74 675.61,424.22 677.08,425.59 C678.55,426.97 680.32,428.35 681.87,429.41 C683.43,430.46 685.00,431.26 686.40,431.95 C687.79,432.64 688.71,433.01 690.26,433.54 C691.81,434.06 694.00,434.70 695.71,435.12 C697.42,435.55 698.46,435.76 700.50,436.08 C702.54,436.39 705.16,436.76 707.94,437.03 C710.72,437.29 714.10,437.51 717.18,437.66 C720.27,437.82 722.86,437.90 726.46,437.98 C730.05,438.07 734.65,438.13 738.75,438.17 C742.85,438.22 748.34,438.23 751.05,438.25 C753.76,438.27 754.34,438.29 755.00,438.30" stroke="#00ff00"/>
<path d="M455.00,438.30 C462.52,438.29 490.57,438.27 500.15,438.25 C509.72,438.23 508.35,438.22 512.45,438.17 C516.55,438.13 521.15,438.07 524.74,437.98 C528.34,437.90 530.93,437.82 534.02,437.66 C537.10,437.51 540.48,437.29 543.26,437.03 C546.04,436.76 548.66,436.39 550.70,436.08 C552.74,435.76 553.78,435.55 555.49,435.12 C557.20,434.70 559.39,434.06 560.94,433.54 C562.49,433.01 563.41,432.64 564.80,431.95 C566.20,431.26 567.77,430.46 569.33,429.41 C570.88,428.35 572.65,426.97 574.12,425.59 C575.59,424.22 576.89,422.74 578.14,421.15 C579.39,419.56 580.48,417.97 581.62,416.06 C582.76,414.16 583.94,411.94 584.99,409.71 C586.04,407.49 587.00,405.16 587.93,402.72 C588.86,400.29 589.75,397.64 590.57,395.10 C591.39,392.56 592.13,390.12 592.87,387.48 C593.62,384.83 594.36,381.97 595.04,379.22 C595.72,376.46 596.33,373.82 596.96,370.96 C597.59,368.10 598.16,365.13 598.82,362.06 C599.48,358.99 600.36,354.75 600.93,352.53 C601.49,350.32 601.72,349.91 602.20,348.80 C602.68,347.69 603.22,346.48 603.80,345.90 C604.38,345.32 604.98,345.52 605.70,345.30 C606.42,345.08 607.38,345.23 608.10,344.60 C608.82,343.97 609.42,342.25 610.00,341.50 C610.58,340.75 611.10,339.93 611.60,340.10 C612.10,340.27 612.55,341.15 613.00,342.50 C613.45,343.85 613.63,344.67 614.30,348.20 C614.97,351.73 616.10,358.53 617.00,363.70 C617.90,368.87 618.95,375.48 619.70,379.20 C620.45,382.92 620.87,383.95 621.50,386.00 C622.13,388.05 622.83,390.30 623.50,391.50 C624.17,392.70 624.83,393.20 625.50,393.20 C626.17,393.20 626.83,392.70 627.50,391.50 C628.17,390.30 628.88,388.05 629.50,386.00 C630.12,383.95 630.48,382.92 631.20,379.20 C631.92,375.48 632.88,368.87 633.80,363.70 C634.72,358.53 636.00,351.73 636.70,348.20 C637.40,344.67 637.60,343.72 638.00,342.50 C638.40,341.28 638.60,340.82 639.10,340.90 C639.60,340.98 640.30,342.23 641.00,343.00 C641.70,343.77 642.63,345.33 643.30,345.50 C643.97,345.67 644.48,344.38 645.00,344.00 C645.52,343.62 645.85,343.12 646.40,343.20 C646.95,343.28 647.70,343.62 648.30,344.50 C648.90,345.38 649.67,347.16 650.00,348.50 C650.33,349.84 649.88,350.27 650.27,352.53 C650.67,354.80 651.72,358.99 652.38,362.06 C653.04,365.13 653.61,368.10 654.24,370.96 C654.87,373.82 655.48,376.46 656.16,379.22 C656.84,381.97 657.58,384.83 658.33,387.48 C659.07,390.12 659.81,392.56 660.63,395.10 C661.45,397.64 662.34,400.29 663.27,402.72 C664.20,405.16 665.16,407.49 666.21,409.71 C667.26,411.94 668.44,414.16 669.58,416.06 C670.72,417.97 671.81,419.56 673.06,421.15 C674.31,422.74 675.61,424.22 677.08,425.59 C678.55,426.97 680.32,428.35 681.87,429.41 C683.43,430.46 685.00,431.26 686.40,431.95 C687.79,432.64 688.71,433.01 690.26,433.54 C691.81,434.06 694.00,434.70 695.71,435.12 C697.42,435.55 698.46,435.76 700.50,436.08 C702.54,436.39 705.16,436.76 707.94,437.03 C710.72,437.29 714.10,437.51 717.18,437.66 C720.27,437.82 722.86,437.90 726.46,437.98 C730.05,438.07 734.65,438.13 738.75,438.17 C742.85,438.22 748.34,438.23 751.05,438.25 C753.76,438.27 754.34,438.29 755.00,438.30" stroke="#0000ff"/>
<path d="M455.00,438.30 C462.52,438.29 490.57,438.27 500.15,438.25 C509.72,438.23 508.35,438.22 512.45,438.17 C516.55,438.13 521.15,438.07 524.74,437.98 C528.34,437.90 530.93,437.82 534.02,437.66 C537.10,437.51 540.48,437.29 543.26,437.03 C546.04,436.76 548.66,436.39 550.70,436.08 C552.74,435.76 553.78,435.55 555.49,435.12 C557.20,434.70 559.39,434.06 560.94,433.54 C562.49,433.01 563.41,432.64 564.80,431.95 C566.20,431.26 567.77,430.46 569.33,429.41 C570.88,428.35 572.65,426.97 574.12,425.59 C575.59,424.22 576.89,422.74 578.14,421.15 C579.39,419.56 580.48,417.97 581.62,416.06 C582.76,414.16 583.94,411.94 584.99,409.71 C586.04,407.49 587.00,405.16 587.93,402.72 C588.86,400.29 589.75,397.64 590.57,395.10 C591.39,392.56 592.13,390.12 592.87,387.48 C593.62,384.83 594.36,381.97 595.04,379.22 C595.72,376.46 596.33,373.82 596.96,370.96 C597.59,368.10 598.16,365.13 598.82,362.06 C599.48,358.99 600.26,355.38 600.93,352.53 C601.59,349.69 602.15,347.09 602.80,345.00 C603.45,342.91 604.12,341.27 604.80,340.00 C605.48,338.73 606.28,337.48 606.90,337.40 C607.52,337.32 607.98,338.07 608.50,339.50 C609.02,340.93 609.43,343.25 610.00,346.00 C610.57,348.75 611.25,350.47 611.90,356.00 C612.55,361.53 613.38,373.20 613.90,379.20 C614.42,385.20 614.60,388.20 615.00,392.00 C615.40,395.80 615.88,399.42 616.30,402.00 C616.72,404.58 617.05,406.00 617.50,407.50 C617.95,409.00 618.50,410.22 619.00,411.00 C619.50,411.78 619.42,411.97 620.50,412.20 C621.58,412.43 623.83,412.40 625.50,412.40 C627.17,412.40 629.42,412.43 630.50,412.20 C631.58,411.97 631.50,411.78 632.00,411.00 C632.50,410.22 633.03,409.00 633.50,407.50 C633.97,406.00 634.38,404.58 634.80,402.00 C635.22,399.42 635.65,395.80 636.00,392.00 C636.35,388.20 636.52,383.70 636.90,379.20 C637.28,374.70 637.82,368.87 638.30,365.00 C638.78,361.13 639.30,359.17 639.80,356.00 C640.30,352.83 640.80,348.75 641.30,346.00 C641.80,343.25 642.30,341.03 642.80,339.50 C643.30,337.97 643.80,337.05 644.30,336.80 C644.80,336.55 645.30,337.13 645.80,338.00 C646.30,338.87 646.82,340.33 647.30,342.00 C647.78,343.67 648.20,346.24 648.70,348.00 C649.20,349.76 649.66,350.19 650.27,352.53 C650.89,354.88 651.72,358.99 652.38,362.06 C653.04,365.13 653.61,368.10 654.24,370.96 C654.87,373.82 655.48,376.46 656.16,379.22 C656.84,381.97 657.58,384.83 658.33,387.48 C659.07,390.12 659.81,392.56 660.63,395.10 C661.45,397.64 662.34,400.29 663.27,402.72 C664.20,405.16 665.16,407.49 666.21,409.71 C667.26,411.94 668.44,414.16 669.58,416.06 C670.72,417.97 671.81,419.56 673.06,421.15 C674.31,422.74 675.61,424.22 677.08,425.59 C678.55,426.97 680.32,428.35 681.87,429.41 C683.43,430.46 685.00,431.26 686.40,431.95 C687.79,432.64 688.71,433.01 690.26,433.54 C691.81,434.06 694.00,434.70 695.71,435.12 C697.42,435.55 698.46,435.76 700.50,436.08 C702.54,436.39 705.16,436.76 707.94,437.03 C710.72,437.29 714.10,437.51 717.18,437.66 C720.27,437.82 722.86,437.90 726.46,437.98 C730.05,438.07 734.65,438.13 738.75,438.17 C742.85,438.22 748.34,438.23 751.05,438.25 C753.76,438.27 754.34,438.29 755.00,438.30" stroke="#ff00ff"/>
</g>
<clipPath id="cpf"><rect x="462.20" y="461.80" width="284.60" height="191.30"/></clipPath>
<g clip-path="url(#cpf)" fill="none" stroke-width="2.0" stroke-linejoin="round" stroke-linecap="round">
<path d="M459.83,653.10 C459.99,653.10 460.46,653.10 460.78,653.10 C461.09,653.10 461.41,653.10 461.73,653.10 C462.04,653.10 462.36,653.10 462.67,653.10 C462.99,653.10 463.31,653.10 463.62,653.10 C463.94,653.10 464.25,653.10 464.57,653.10 C464.89,653.10 465.20,653.10 465.52,653.09 C465.83,653.09 466.15,653.09 466.47,653.09 C466.78,653.09 467.10,653.09 467.41,653.09 C467.73,653.09 468.05,653.09 468.36,653.09 C468.68,653.09 468.99,653.09 469.31,653.09 C469.63,653.09 469.94,653.09 470.26,653.09 C470.57,653.09 470.89,653.09 471.21,653.09 C471.52,653.09 471.84,653.09 472.15,653.09 C472.47,653.09 472.79,653.09 473.10,653.09 C473.42,653.09 473.73,653.09 474.05,653.09 C474.37,653.09 474.68,653.09 475.00,653.09 C475.31,653.09 475.63,653.09 475.95,653.09 C476.26,653.09 476.58,653.09 476.89,653.09 C477.21,653.09 477.53,653.09 477.84,653.09 C478.16,653.09 478.47,653.09 478.79,653.09 C479.11,653.09 479.42,653.09 479.74,653.09 C480.05,653.09 480.37,653.08 480.69,653.08 C481.00,653.08 481.32,653.08 481.63,653.08 C481.95,653.08 482.27,653.08 482.58,653.08 C482.90,653.08 483.21,653.08 483.53,653.08 C483.85,653.08 484.16,653.08 484.48,653.08 C484.79,653.08 485.11,653.08 485.43,653.08 C485.74,653.08 486.06,653.08 486.37,653.08 C486.69,653.08 487.01,653.07 487.32,653.07 C487.64,653.07 487.95,653.07 488.27,653.07 C488.59,653.07 488.90,653.07 489.22,653.07 C489.53,653.07 489.85,653.07 490.17,653.07 C490.48,653.07 490.80,653.07 491.11,653.07 C491.43,653.07 491.75,653.06 492.06,653.06 C492.38,653.06 492.69,653.06 493.01,653.06 C493.33,653.06 493.64,653.06 493.96,653.06 C494.27,653.06 494.59,653.06 494.91,653.05 C495.22,653.05 495.54,653.05 495.85,653.05 C496.17,653.05 496.49,653.05 496.80,653.05 C497.12,653.05 497.43,653.05 497.75,653.04 C498.07,653.04 498.38,653.04 498.70,653.04 C499.01,653.04 499.33,653.04 499.65,653.04 C499.96,653.03 500.28,653.03 500.59,653.03 C500.91,653.03 501.23,653.03 501.54,653.03 C501.86,653.02 502.17,653.02 502.49,653.02 C502.81,653.02 503.12,653.02 503.44,653.02 C503.75,653.01 504.07,653.01 504.39,653.01 C504.70,653.01 505.02,653.00 505.33,653.00 C505.65,653.00 505.97,653.00 506.28,652.99 C506.60,652.99 506.91,652.99 507.23,652.99 C507.55,652.98 507.86,652.98 508.18,652.98 C508.49,652.98 508.81,652.97 509.13,652.97 C509.44,652.97 509.76,652.96 510.07,652.96 C510.39,652.96 510.71,652.95 511.02,652.95 C511.34,652.95 511.65,652.94 511.97,652.94 C512.29,652.94 512.60,652.93 512.92,652.93 C513.23,652.92 513.55,652.92 513.87,652.92 C514.18,652.91 514.50,652.91 514.81,652.90 C515.13,652.90 515.45,652.89 515.76,652.89 C516.08,652.88 516.39,652.88 516.71,652.87 C517.03,652.87 517.34,652.86 517.66,652.86 C517.97,652.85 518.29,652.84 518.61,652.84 C518.92,652.83 519.24,652.82 519.55,652.82 C519.87,652.81 520.19,652.80 520.50,652.80 C520.82,652.79 521.13,652.78 521.45,652.78 C521.77,652.77 522.08,652.76 522.40,652.75 C522.71,652.74 523.03,652.74 523.35,652.73 C523.66,652.72 523.98,652.71 524.29,652.70 C524.61,652.69 524.93,652.68 525.24,652.67 C525.56,652.66 525.87,652.65 526.19,652.64 C526.51,652.63 526.82,652.62 527.14,652.60 C527.45,652.59 527.77,652.58 528.09,652.57 C528.40,652.56 528.72,652.54 529.03,652.53 C529.35,652.52 529.67,652.50 529.98,652.49 C530.30,652.47 530.61,652.46 530.93,652.44 C531.25,652.43 531.56,652.41 531.88,652.40 C532.19,652.38 532.51,652.36 532.83,652.34 C533.14,652.33 533.46,652.31 533.77,652.29 C534.09,652.27 534.41,652.25 534.72,652.23 C535.04,652.21 535.35,652.19 535.67,652.17 C535.99,652.14 536.30,652.12 536.62,652.10 C536.93,652.08 537.25,652.05 537.57,652.03 C537.88,652.00 538.20,651.97 538.51,651.95 C538.83,651.92 539.15,651.89 539.46,651.86 C539.78,651.83 540.09,651.80 540.41,651.77 C540.73,651.74 541.04,651.71 541.36,651.68 C541.67,651.64 541.99,651.61 542.31,651.57 C542.62,651.54 542.94,651.50 543.25,651.46 C543.57,651.42 543.89,651.38 544.20,651.34 C544.52,651.30 544.83,651.26 545.15,651.21 C545.47,651.17 545.78,651.13 546.10,651.08 C546.41,651.03 546.73,650.98 547.05,650.93 C547.36,650.88 547.68,650.83 547.99,650.77 C548.31,650.72 548.63,650.66 548.94,650.60 C549.26,650.55 549.57,650.49 549.89,650.42 C550.21,650.36 550.52,650.30 550.84,650.23 C551.15,650.16 551.47,650.09 551.79,650.02 C552.10,649.95 552.42,649.88 552.73,649.80 C553.05,649.72 553.37,649.64 553.68,649.56 C554.00,649.48 554.31,649.39 554.63,649.30 C554.95,649.21 555.26,649.12 555.58,649.03 C555.89,648.93 556.21,648.84 556.53,648.73 C556.84,648.63 557.16,648.53 557.47,648.42 C557.79,648.31 558.11,648.20 558.42,648.08 C558.74,647.97 559.05,647.85 559.37,647.72 C559.69,647.60 560.00,647.47 560.32,647.33 C560.63,647.20 560.95,647.06 561.27,646.92 C561.58,646.78 561.90,646.63 562.21,646.48 C562.53,646.32 562.85,646.16 563.16,646.00 C563.48,645.84 563.79,645.67 564.11,645.49 C564.43,645.32 564.74,645.14 565.06,644.95 C565.37,644.76 565.69,644.57 566.01,644.37 C566.32,644.17 566.64,643.96 566.95,643.74 C567.27,643.53 567.59,643.31 567.90,643.08 C568.22,642.85 568.53,642.61 568.85,642.37 C569.17,642.12 569.48,641.87 569.80,641.61 C570.11,641.35 570.43,641.08 570.75,640.80 C571.06,640.52 571.38,640.23 571.69,639.93 C572.01,639.63 572.33,639.32 572.64,639.00 C572.96,638.68 573.27,638.36 573.59,638.02 C573.91,637.68 574.22,637.32 574.54,636.96 C574.85,636.60 575.17,636.22 575.49,635.84 C575.80,635.45 576.12,635.05 576.43,634.64 C576.75,634.23 577.07,633.80 577.38,633.36 C577.70,632.92 578.01,632.47 578.33,632.01 C578.65,631.54 578.96,631.06 579.28,630.56 C579.59,630.06 579.91,629.55 580.23,629.02 C580.54,628.49 580.86,627.95 581.17,627.39 C581.49,626.83 581.81,626.25 582.12,625.65 C582.44,625.06 582.75,624.44 583.07,623.81 C583.39,623.18 583.70,622.53 584.02,621.86 C584.33,621.19 584.65,620.50 584.97,619.79 C585.28,619.08 585.60,618.35 585.91,617.59 C586.23,616.84 586.55,616.07 586.86,615.28 C587.18,614.48 587.49,613.67 587.81,612.83 C588.13,611.99 588.44,611.13 588.76,610.24 C589.07,609.36 589.39,608.45 589.71,607.52 C590.02,606.59 590.34,605.63 590.65,604.65 C590.97,603.67 591.29,602.67 591.60,601.64 C591.92,600.61 592.23,599.55 592.55,598.47 C592.87,597.39 593.18,596.29 593.50,595.16 C593.81,594.02 594.13,592.87 594.45,591.69 C594.76,590.50 595.08,589.29 595.39,588.06 C595.71,586.83 596.03,585.57 596.34,584.28 C596.66,582.99 596.97,581.68 597.29,580.35 C597.61,579.01 597.92,577.65 598.24,576.26 C598.55,574.88 598.87,573.47 599.19,572.04 C599.50,570.60 599.82,569.15 600.13,567.67 C600.45,566.19 600.77,564.69 601.08,563.17 C601.40,561.64 601.71,560.10 602.03,558.54 C602.35,556.98 602.66,555.40 602.98,553.80 C603.29,552.21 603.61,550.59 603.93,548.97 C604.24,547.34 604.56,545.70 604.87,544.04 C605.19,542.39 605.51,540.73 605.82,539.06 C606.14,537.39 606.45,535.70 606.77,534.02 C607.09,532.34 607.40,530.65 607.72,528.96 C608.03,527.28 608.35,525.59 608.67,523.90 C608.98,522.22 609.30,520.54 609.61,518.87 C609.93,517.20 610.25,515.53 610.56,513.89 C610.88,512.24 611.19,510.60 611.51,508.99 C611.83,507.38 612.14,505.78 612.46,504.21 C612.77,502.64 613.09,501.08 613.41,499.57 C613.72,498.05 614.04,496.56 614.35,495.11 C614.67,493.66 614.99,492.24 615.30,490.87 C615.62,489.49 615.93,488.15 616.25,486.87 C616.57,485.58 616.88,484.34 617.20,483.15 C617.51,481.96 617.83,480.82 618.15,479.74 C618.46,478.66 618.78,477.63 619.09,476.67 C619.41,475.71 619.73,474.80 620.04,473.97 C620.36,473.13 620.67,472.36 620.99,471.66 C621.31,470.96 621.62,470.32 621.94,469.76 C622.25,469.21 622.57,468.72 622.89,468.30 C623.20,467.89 623.52,467.55 623.83,467.29 C624.15,467.03 624.47,466.84 624.78,466.73 C625.10,466.62 625.41,466.59 625.73,466.64 C626.05,466.68 626.36,466.81 626.68,467.00 C626.99,467.20 627.31,467.48 627.63,467.83 C627.94,468.18 628.26,468.61 628.57,469.11 C628.89,469.61 629.21,470.19 629.52,470.83 C629.84,471.48 630.15,472.19 630.47,472.97 C630.79,473.75 631.10,474.61 631.42,475.52 C631.73,476.43 632.05,477.41 632.37,478.44 C632.68,479.47 633.00,480.57 633.31,481.71 C633.63,482.86 633.95,484.06 634.26,485.31 C634.58,486.56 634.89,487.86 635.21,489.20 C635.53,490.54 635.84,491.93 636.16,493.35 C636.47,494.77 636.79,496.23 637.11,497.72 C637.42,499.21 637.74,500.74 638.05,502.29 C638.37,503.84 638.69,505.42 639.00,507.02 C639.32,508.61 639.63,510.24 639.95,511.87 C640.27,513.51 640.58,515.16 640.90,516.82 C641.21,518.48 641.53,520.16 641.85,521.84 C642.16,523.52 642.48,525.21 642.79,526.89 C643.11,528.58 643.43,530.27 643.74,531.95 C644.06,533.64 644.37,535.32 644.69,537.00 C645.01,538.68 645.32,540.35 645.64,542.01 C645.95,543.67 646.27,545.32 646.59,546.96 C646.90,548.60 647.22,550.22 647.53,551.83 C647.85,553.44 648.17,555.04 648.48,556.61 C648.80,558.19 649.11,559.75 649.43,561.29 C649.75,562.82 650.06,564.34 650.38,565.84 C650.69,567.34 651.01,568.81 651.33,570.26 C651.64,571.72 651.96,573.15 652.27,574.55 C652.59,575.96 652.91,577.34 653.22,578.69 C653.54,580.05 653.85,581.38 654.17,582.69 C654.49,583.99 654.80,585.28 655.12,586.53 C655.43,587.79 655.75,589.02 656.07,590.22 C656.38,591.42 656.70,592.60 657.01,593.75 C657.33,594.91 657.65,596.03 657.96,597.13 C658.28,598.24 658.59,599.31 658.91,600.36 C659.23,601.41 659.54,602.44 659.86,603.44 C660.17,604.44 660.49,605.41 660.81,606.36 C661.12,607.32 661.44,608.24 661.75,609.15 C662.07,610.05 662.39,610.93 662.70,611.79 C663.02,612.64 663.33,613.48 663.65,614.29 C663.97,615.10 664.28,615.89 664.60,616.66 C664.91,617.43 665.23,618.18 665.55,618.90 C665.86,619.63 666.18,620.34 666.49,621.02 C666.81,621.71 667.13,622.38 667.44,623.02 C667.76,623.67 668.07,624.30 668.39,624.91 C668.71,625.52 669.02,626.11 669.34,626.69 C669.65,627.27 669.97,627.82 670.29,628.36 C670.60,628.91 670.92,629.43 671.23,629.94 C671.55,630.45 671.87,630.94 672.18,631.42 C672.50,631.90 672.81,632.37 673.13,632.82 C673.45,633.27 673.76,633.70 674.08,634.13 C674.39,634.55 674.71,634.96 675.03,635.36 C675.34,635.75 675.66,636.14 675.97,636.51 C676.29,636.88 676.61,637.24 676.92,637.59 C677.24,637.94 677.55,638.28 677.87,638.61 C678.19,638.93 678.50,639.25 678.82,639.56 C679.13,639.86 679.45,640.16 679.77,640.45 C680.08,640.74 680.40,641.01 680.71,641.28 C681.03,641.55 681.35,641.81 681.66,642.06 C681.98,642.31 682.29,642.56 682.61,642.79 C682.93,643.03 683.24,643.26 683.56,643.48 C683.87,643.70 684.19,643.91 684.51,644.12 C684.82,644.32 685.14,644.52 685.45,644.71 C685.77,644.91 686.09,645.09 686.40,645.27 C686.72,645.45 687.03,645.63 687.35,645.80 C687.67,645.96 687.98,646.13 688.30,646.28 C688.61,646.44 688.93,646.59 689.25,646.74 C689.56,646.89 689.88,647.03 690.19,647.17 C690.51,647.30 690.83,647.44 691.14,647.57 C691.46,647.69 691.77,647.82 692.09,647.94 C692.41,648.06 692.72,648.17 693.04,648.28 C693.35,648.40 693.67,648.50 693.99,648.61 C694.30,648.71 694.62,648.81 694.93,648.91 C695.25,649.01 695.57,649.10 695.88,649.19 C696.20,649.28 696.51,649.37 696.83,649.46 C697.15,649.54 697.46,649.62 697.78,649.70 C698.09,649.78 698.41,649.86 698.73,649.93 C699.04,650.01 699.36,650.08 699.67,650.15 C699.99,650.21 700.31,650.28 700.62,650.35 C700.94,650.41 701.25,650.47 701.57,650.53 C701.89,650.59 702.20,650.65 702.52,650.71 C702.83,650.76 703.15,650.82 703.47,650.87 C703.78,650.92 704.10,650.97 704.41,651.02 C704.73,651.07 705.05,651.11 705.36,651.16 C705.68,651.21 705.99,651.25 706.31,651.29 C706.63,651.33 706.94,651.37 707.26,651.41 C707.57,651.45 707.89,651.49 708.21,651.53 C708.52,651.57 708.84,651.60 709.15,651.64 C709.47,651.67 709.79,651.70 710.10,651.73 C710.42,651.77 710.73,651.80 711.05,651.83 C711.37,651.86 711.68,651.89 712.00,651.91 C712.31,651.94 712.63,651.97 712.95,651.99 C713.26,652.02 713.58,652.05 713.89,652.07 C714.21,652.09 714.53,652.12 714.84,652.14 C715.16,652.16 715.47,652.18 715.79,652.20 C716.11,652.23 716.42,652.25 716.74,652.27 C717.05,652.29 717.37,652.30 717.69,652.32 C718.00,652.34 718.32,652.36 718.63,652.38 C718.95,652.39 719.27,652.41 719.58,652.42 C719.90,652.44 720.21,652.46 720.53,652.47 C720.85,652.49 721.16,652.50 721.48,652.51 C721.79,652.53 722.11,652.54 722.43,652.55 C722.74,652.57 723.06,652.58 723.37,652.59 C723.69,652.60 724.01,652.61 724.32,652.62 C724.64,652.64 724.95,652.65 725.27,652.66 C725.59,652.67 725.90,652.68 726.22,652.69 C726.53,652.70 726.85,652.71 727.17,652.72 C727.48,652.72 727.80,652.73 728.11,652.74 C728.43,652.75 728.75,652.76 729.06,652.77 C729.38,652.77 729.69,652.78 730.01,652.79 C730.33,652.80 730.64,652.80 730.96,652.81 C731.27,652.82 731.59,652.82 731.91,652.83 C732.22,652.84 732.54,652.84 732.85,652.85 C733.17,652.85 733.49,652.86 733.80,652.87 C734.12,652.87 734.43,652.88 734.75,652.88 C735.07,652.89 735.38,652.89 735.70,652.90 C736.01,652.90 736.33,652.91 736.65,652.91 C736.96,652.91 737.28,652.92 737.59,652.92 C737.91,652.93 738.23,652.93 738.54,652.93 C738.86,652.94 739.17,652.94 739.49,652.95 C739.81,652.95 740.12,652.95 740.44,652.96 C740.75,652.96 741.07,652.96 741.39,652.97 C741.70,652.97 742.02,652.97 742.33,652.98 C742.65,652.98 742.97,652.98 743.28,652.98 C743.60,652.99 743.91,652.99 744.23,652.99 C744.55,652.99 744.86,653.00 745.18,653.00 C745.49,653.00 745.81,653.00 746.13,653.01 C746.44,653.01 746.76,653.01 747.07,653.01 C747.39,653.01 747.86,653.02 748.02,653.02" stroke="#000"/>
<path d="M454.99,653.19L456.0,653.2L457.0,653.1L458.0,653.1L459.0,653.1L460.0,653.1L461.0,653.0L462.0,653.0L463.0,653.0L464.0,653.0L465.0,653.0L466.0,653.0L467.0,652.9L468.0,652.9L469.0,652.9L470.1,652.9L471.1,652.9L472.1,652.9L473.1,652.9L474.1,652.9L475.1,652.9L476.1,652.8L477.1,652.8L478.1,652.8L479.1,652.8L480.1,652.8L481.1,652.8L482.1,652.8L483.1,652.8L484.1,652.8L485.1,652.8L486.1,652.8L487.1,652.8L488.1,652.8L489.1,652.8L490.1,652.8L491.1,652.8L492.1,652.8L493.1,652.8L494.1,652.8L495.1,652.8L496.1,652.8L497.1,652.8L498.1,652.8L499.1,652.8L500.1,652.7L501.1,652.7L502.1,652.7L503.1,652.7L504.1,652.7L505.2,652.7L506.2,652.7L507.2,652.7L508.2,652.7L509.2,652.7L510.2,652.6L511.2,652.6L512.2,652.6L513.2,652.6L514.2,652.6L515.2,652.6L516.2,652.5L517.2,652.5L518.2,652.5L519.2,652.5L520.2,652.4L521.2,652.4L522.2,652.4L523.2,652.3L524.2,652.3L525.2,652.3L526.2,652.2L527.2,652.2L528.2,652.2L529.2,652.1L530.2,652.1L531.2,652.0L532.2,652.0L533.2,651.9L534.2,651.9L535.2,651.8L536.2,651.8L537.2,651.7L538.2,651.6L539.2,651.6L540.2,651.5L541.2,651.4L542.2,651.4L543.2,651.3L544.2,651.2L545.3,651.1L546.3,651.1L547.3,651.0L548.3,650.9L549.3,650.8L550.3,650.7L551.3,650.6L552.3,650.5L553.2,650.3L554.2,650.2L555.2,650.0L556.2,649.8L557.2,649.6L558.1,649.4L559.1,649.2L560.0,648.9L561.0,648.6L561.9,648.3L562.9,647.9L563.8,647.5L564.7,647.1L565.6,646.6L566.4,646.1L567.3,645.6L568.2,645.1L569.0,644.5L569.9,643.9L570.7,643.3L571.5,642.6L572.4,642.0L573.2,641.3L574.0,640.7L574.8,640.1L575.6,639.4L576.4,638.8L577.2,638.2L578.1,637.6L578.9,637.0L579.7,636.5L580.5,636.0L581.3,635.5L582.1,635.1L583.0,634.7L583.8,634.4L584.6,634.3L585.4,634.3L586.2,634.4L586.9,634.7L587.6,635.2L588.4,635.9L589.0,636.8L589.7,637.7L590.4,638.8L591.0,639.8L591.6,640.9L592.2,641.9L592.8,642.8L593.4,643.5L594.0,644.0L594.5,644.4L595.1,644.5L595.7,644.5L596.2,644.3L596.8,644.0L597.3,643.5L597.8,643.0L598.2,642.3L598.7,641.6L599.1,640.8L599.4,639.9L599.7,639.0L600.0,638.1L600.3,637.1L600.5,636.2L600.7,635.2L600.9,634.1L601.1,633.1L601.2,632.1L601.4,631.1L601.5,630.0L601.7,629.0L601.9,628.0L602.0,627.0L602.2,625.9L602.3,624.9L602.5,623.9L602.6,622.9L602.8,621.9L602.9,620.9L603.1,619.9L603.2,618.8L603.3,617.8L603.5,616.8L603.6,615.8L603.8,614.8L603.9,613.8L604.0,612.8L604.2,611.8L604.3,610.8L604.4,609.8L604.5,608.8L604.7,607.8L604.8,606.8L604.9,605.8L605.0,604.8L605.2,603.8L605.3,602.8L605.4,601.8L605.5,600.8L605.7,599.8L605.8,598.8L605.9,597.9L606.0,596.9L606.1,595.9L606.2,594.9L606.4,593.9L606.5,592.9L606.6,591.9L606.7,590.9L606.8,589.9L606.9,588.9L607.1,588.0L607.2,587.0L607.3,586.0L607.4,585.0L607.5,584.0L607.7,583.0L607.8,582.0L607.9,581.0L608.0,580.1L608.1,579.1L608.3,578.1L608.4,577.1L608.5,576.1L608.6,575.1L608.7,574.1L608.9,573.1L609.0,572.1L609.1,571.2L609.3,570.2L609.4,569.2L609.5,568.2L609.6,567.2L609.8,566.2L609.9,565.2L610.0,564.2L610.2,563.2L610.3,562.2L610.5,561.2L610.6,560.2L610.7,559.2L610.9,558.2L611.0,557.3L611.2,556.3L611.3,555.3L611.5,554.3L611.6,553.3L611.8,552.3L612.0,551.3L612.1,550.3L612.3,549.3L612.4,548.3L612.6,547.3L612.8,546.3L612.9,545.2L613.1,544.2L613.3,543.2L613.4,542.2L613.6,541.3L613.8,540.3L613.9,539.3L614.1,538.3L614.3,537.3L614.5,536.3L614.6,535.3L614.8,534.3L615.0,533.3L615.1,532.3L615.3,531.3L615.5,530.3L615.7,529.3L615.8,528.4L616.0,527.4L616.2,526.4L616.3,525.4L616.5,524.5L616.7,523.5L616.8,522.5L617.0,521.6L617.2,520.6L617.3,519.6L617.5,518.7L617.7,517.7L617.8,516.8L618.0,515.8L618.1,514.8L618.3,513.9L618.4,512.9L618.6,511.9L618.8,511.0L618.9,510.0L619.1,509.0L619.3,508.0L619.4,507.0L619.6,505.9L619.7,504.9L619.9,503.8L620.1,502.7L620.3,501.6L620.4,500.5L620.6,499.4L620.9,498.4L621.1,497.3L621.3,496.2L621.6,495.2L621.9,494.2L622.3,493.3L622.7,492.4L623.1,491.7L623.6,491.0L624.1,490.4L624.6,490.0L625.2,489.8L625.7,489.8L626.2,490.0L626.7,490.4L627.2,491.0L627.7,491.7L628.1,492.5L628.5,493.4L628.9,494.4L629.3,495.5L629.6,496.5L629.9,497.5L630.1,498.6L630.4,499.6L630.6,500.7L630.8,501.7L630.9,502.7L631.1,503.8L631.2,504.8L631.4,505.8L631.5,506.8L631.7,507.8L631.8,508.8L632.0,509.8L632.1,510.8L632.3,511.8L632.4,512.8L632.6,513.8L632.7,514.8L632.9,515.7L633.0,516.7L633.2,517.7L633.4,518.7L633.5,519.6L633.7,520.6L633.8,521.6L634.0,522.5L634.2,523.5L634.3,524.5L634.5,525.5L634.7,526.4L634.8,527.4L635.0,528.4L635.2,529.4L635.4,530.4L635.5,531.4L635.7,532.3L635.9,533.3L636.1,534.3L636.2,535.3L636.4,536.3L636.6,537.3L636.8,538.3L636.9,539.3L637.1,540.3L637.3,541.3L637.5,542.3L637.6,543.3L637.8,544.3L638.0,545.3L638.1,546.3L638.3,547.3L638.5,548.3L638.6,549.3L638.8,550.3L639.0,551.3L639.1,552.3L639.3,553.3L639.5,554.3L639.6,555.3L639.8,556.3L639.9,557.3L640.1,558.3L640.2,559.2L640.4,560.2L640.5,561.2L640.7,562.2L640.8,563.2L640.9,564.2L641.1,565.2L641.2,566.2L641.3,567.2L641.5,568.2L641.6,569.2L641.7,570.2L641.8,571.2L642.0,572.1L642.1,573.1L642.2,574.1L642.3,575.1L642.4,576.1L642.5,577.1L642.7,578.1L642.8,579.1L642.9,580.0L643.0,581.0L643.1,582.0L643.2,583.0L643.3,584.0L643.4,585.0L643.6,586.0L643.7,587.0L643.8,587.9L643.9,588.9L644.0,589.9L644.1,590.9L644.2,591.9L644.3,592.9L644.4,593.9L644.6,594.9L644.7,595.9L644.8,596.8L644.9,597.8L645.0,598.8L645.1,599.8L645.2,600.8L645.4,601.8L645.5,602.8L645.6,603.8L645.7,604.8L645.9,605.8L646.0,606.8L646.1,607.8L646.2,608.8L646.4,609.8L646.5,610.8L646.6,611.8L646.8,612.8L646.9,613.8L647.1,614.8L647.2,615.8L647.4,616.8L647.5,617.8L647.7,618.8L647.8,619.8L648.0,620.8L648.1,621.8L648.3,622.9L648.5,623.9L648.7,624.9L648.8,625.9L649.0,626.9L649.2,627.9L649.4,629.0L649.6,630.0L649.8,631.0L650.0,632.0L650.2,633.1L650.4,634.1L650.6,635.1L650.8,636.1L651.0,637.2L651.2,638.2L651.5,639.2L651.7,640.2L652.0,641.1L652.3,642.0L652.6,642.7L652.9,643.4L653.3,643.9L653.8,644.3L654.2,644.5L654.7,644.5L655.3,644.4L655.9,644.0L656.5,643.6L657.2,643.0L657.9,642.3L658.6,641.5L659.3,640.7L660.0,639.8L660.7,638.9L661.4,638.0L662.1,637.1L662.9,636.3L663.6,635.5L664.3,634.9L665.0,634.4L665.8,634.0L666.5,633.8L667.2,633.9L668.0,634.1L668.7,634.5L669.5,635.1L670.2,635.7L671.0,636.4L671.8,637.2L672.6,638.0L673.4,638.7L674.2,639.5L675.0,640.2L675.8,640.8L676.6,641.5L677.5,642.1L678.3,642.7L679.2,643.3L680.1,643.8L680.9,644.3L681.8,644.8L682.7,645.2L683.6,645.7L684.5,646.1L685.4,646.5L686.3,646.9L687.3,647.2L688.2,647.5L689.1,647.9L690.1,648.2L691.0,648.4L692.0,648.7L692.9,648.9L693.9,649.2L694.9,649.4L695.8,649.6L696.8,649.8L697.8,650.0L698.8,650.1L699.7,650.3L700.7,650.4L701.7,650.6L702.7,650.7L703.7,650.8L704.7,650.9L705.7,651.1L706.7,651.2L707.7,651.3L708.7,651.4L709.7,651.4L710.6,651.5L711.6,651.6L712.6,651.7L713.6,651.8L714.6,651.8L715.6,651.9L716.6,652.0L717.6,652.0L718.6,652.1L719.6,652.2L720.6,652.2L721.6,652.3L722.6,652.3L723.6,652.3L724.6,652.4L725.6,652.4L726.6,652.5L727.6,652.5L728.6,652.5L729.7,652.6L730.7,652.6L731.7,652.6L732.7,652.6L733.7,652.7L734.7,652.7L735.7,652.7L736.7,652.7L737.7,652.7L738.7,652.7L739.7,652.7L740.7,652.7L741.7,652.7L742.7,652.8L743.7,652.8L744.7,652.8L745.7,652.8L746.7,652.8L747.7,652.8L748.7,652.8L749.8,652.8L750.8,652.8L751.8,652.8L752.8,652.8L753.8,652.8L754.8,652.7L755.8,652.7L756.8,652.7L757.8,652.7L758.8,652.7L759.8,652.7L760.8,652.7L761.8,652.7L762.8,652.7L763.8,652.7L764.8,652.7L765.8,652.7L766.8,652.7L767.8,652.7L768.9,652.7L769.9,652.7L770.9,652.7L771.9,652.7L772.9,652.7L773.9,652.7L774.9,652.7L775.9,652.7L776.9,652.8L777.9,652.8L778.9,652.8L779.9,652.8L780.9,652.8L781.9,652.8L782.9,652.9L783.9,652.9L784.9,652.9L785.9,652.9L786.9,653.0L787.9,653.0L788.9,653.0L789.9,653.1L790.9,653.1L791.9,653.1L792.9,653.2L793.9,653.2L794.9,653.3L795.8,653.3" stroke="#ff0000"/>
<path d="M454.82,652.92L455.9,653.0L456.9,653.0L457.9,653.0L459.0,653.0L460.0,653.0L461.0,653.1L462.0,653.1L463.1,653.1L464.1,653.1L465.1,653.1L466.1,653.1L467.1,653.1L468.1,653.1L469.2,653.1L470.2,653.1L471.2,653.1L472.2,653.1L473.2,653.1L474.2,653.1L475.2,653.1L476.2,653.1L477.2,653.1L478.2,653.1L479.2,653.1L480.2,653.1L481.2,653.1L482.2,653.0L483.2,653.0L484.2,653.0L485.2,653.0L486.2,653.0L487.1,653.0L488.1,653.0L489.1,652.9L490.1,652.9L491.1,652.9L492.1,652.9L493.1,652.9L494.1,652.8L495.1,652.8L496.1,652.8L497.0,652.8L498.0,652.8L499.0,652.7L500.0,652.7L501.0,652.7L502.0,652.7L503.0,652.7L504.0,652.6L505.0,652.6L506.0,652.6L507.0,652.6L508.0,652.6L509.0,652.5L510.0,652.5L511.0,652.5L511.9,652.5L513.0,652.5L514.0,652.5L515.0,652.5L516.0,652.4L517.0,652.4L518.0,652.4L519.0,652.4L520.0,652.4L521.0,652.4L522.0,652.4L523.0,652.4L524.1,652.4L525.1,652.4L526.1,652.4L527.1,652.4L528.1,652.4L529.2,652.4L530.2,652.4L531.2,652.4L532.2,652.3L533.2,652.3L534.3,652.3L535.3,652.3L536.3,652.3L537.3,652.2L538.3,652.2L539.4,652.2L540.4,652.1L541.4,652.1L542.4,652.0L543.4,652.0L544.4,651.9L545.5,651.8L546.5,651.8L547.5,651.7L548.5,651.6L549.5,651.5L550.5,651.4L551.5,651.3L552.5,651.2L553.5,651.0L554.5,650.9L555.5,650.8L556.4,650.6L557.4,650.4L558.4,650.2L559.4,650.1L560.3,649.9L561.3,649.6L562.3,649.4L563.2,649.2L564.2,648.9L565.1,648.7L566.1,648.4L567.0,648.1L568.0,647.8L568.9,647.5L569.8,647.2L570.7,646.9L571.7,646.5L572.6,646.1L573.5,645.8L574.4,645.4L575.3,644.9L576.1,644.5L577.0,644.1L577.9,643.6L578.8,643.1L579.6,642.6L580.5,642.1L581.3,641.6L582.2,641.0L583.0,640.5L583.8,639.9L584.6,639.3L585.4,638.7L586.2,638.0L586.9,637.4L587.7,636.7L588.4,636.1L589.1,635.4L589.8,634.7L590.5,633.9L591.2,633.2L591.8,632.5L592.5,631.7L593.1,630.9L593.7,630.1L594.2,629.3L594.8,628.5L595.3,627.6L595.8,626.8L596.3,625.9L596.7,625.0L597.2,624.1L597.6,623.2L598.0,622.3L598.4,621.4L598.8,620.4L599.1,619.5L599.4,618.5L599.8,617.6L600.1,616.6L600.4,615.7L600.7,614.7L601.0,613.7L601.2,612.7L601.5,611.7L601.8,610.7L602.0,609.7L602.3,608.7L602.5,607.7L602.8,606.7L603.0,605.8L603.3,604.8L603.6,603.8L603.8,602.8L604.1,601.8L604.3,600.8L604.6,599.9L604.9,598.9L605.2,597.9L605.5,597.0L605.8,596.0L606.1,595.1L606.4,594.2L606.7,593.2L607.1,592.3L607.4,591.4L607.7,590.4L608.1,589.5L608.4,588.6L608.8,587.7L609.2,586.8L609.5,585.9L609.9,585.0L610.3,584.0L610.6,583.1L611.0,582.2L611.4,581.3L611.8,580.4L612.1,579.5L612.5,578.5L612.9,577.6L613.3,576.7L613.7,575.8L614.0,574.8L614.4,573.9L614.8,572.9L615.2,572.0L615.5,571.0L615.9,570.0L616.3,569.1L616.7,568.1L617.1,567.2L617.5,566.2L617.9,565.2L618.4,564.3L618.8,563.3L619.3,562.3L619.8,561.4L620.3,560.4L620.8,559.5L621.3,558.6L621.9,557.7L622.4,556.9L623.0,556.3L623.5,555.7L624.1,555.2L624.7,554.8L625.2,554.6L625.8,554.6L626.3,554.7L626.9,555.0L627.4,555.4L627.9,556.0L628.5,556.6L629.0,557.4L629.5,558.2L630.0,559.2L630.5,560.1L631.0,561.1L631.5,562.2L632.0,563.2L632.4,564.3L632.9,565.4L633.3,566.4L633.8,567.4L634.2,568.4L634.6,569.4L635.0,570.3L635.4,571.3L635.8,572.2L636.2,573.1L636.6,574.0L637.0,574.9L637.3,575.8L637.7,576.7L638.1,577.6L638.4,578.5L638.8,579.4L639.2,580.3L639.5,581.2L639.9,582.1L640.3,583.0L640.6,583.9L641.0,584.9L641.3,585.8L641.7,586.7L642.0,587.6L642.4,588.5L642.7,589.5L643.1,590.4L643.4,591.3L643.7,592.3L644.0,593.2L644.4,594.1L644.7,595.1L645.0,596.0L645.3,597.0L645.6,597.9L645.9,598.9L646.2,599.9L646.5,600.8L646.8,601.8L647.1,602.8L647.4,603.8L647.7,604.7L647.9,605.7L648.2,606.7L648.5,607.7L648.7,608.7L649.0,609.7L649.3,610.7L649.5,611.7L649.8,612.7L650.1,613.7L650.4,614.6L650.7,615.6L651.0,616.6L651.3,617.6L651.6,618.5L651.9,619.5L652.3,620.4L652.6,621.4L653.0,622.3L653.4,623.2L653.8,624.1L654.2,625.0L654.6,625.9L655.1,626.8L655.6,627.7L656.1,628.5L656.6,629.4L657.1,630.2L657.7,631.0L658.3,631.8L658.9,632.5L659.6,633.3L660.2,634.0L660.9,634.7L661.6,635.4L662.3,636.1L663.1,636.8L663.8,637.4L664.6,638.1L665.4,638.7L666.2,639.3L667.0,639.9L667.8,640.5L668.7,641.0L669.5,641.6L670.4,642.1L671.2,642.6L672.1,643.1L673.0,643.6L673.9,644.0L674.8,644.5L675.7,644.9L676.6,645.3L677.5,645.7L678.4,646.1L679.3,646.4L680.2,646.8L681.2,647.1L682.1,647.5L683.0,647.8L684.0,648.1L684.9,648.3L685.9,648.6L686.8,648.9L687.8,649.1L688.7,649.4L689.7,649.6L690.7,649.8L691.6,650.0L692.6,650.2L693.6,650.4L694.5,650.6L695.5,650.7L696.5,650.9L697.5,651.0L698.5,651.2L699.5,651.3L700.5,651.4L701.5,651.5L702.5,651.6L703.5,651.7L704.5,651.8L705.5,651.9L706.5,651.9L707.5,652.0L708.5,652.1L709.5,652.1L710.5,652.2L711.5,652.2L712.5,652.3L713.6,652.3L714.6,652.3L715.6,652.4L716.6,652.4L717.6,652.4L718.6,652.4L719.7,652.4L720.7,652.4L721.7,652.4L722.7,652.4L723.7,652.5L724.7,652.5L725.8,652.5L726.8,652.5L727.8,652.5L728.8,652.5L729.8,652.5L730.8,652.5L731.9,652.4L732.9,652.4L733.9,652.5L734.9,652.5L735.9,652.5L736.9,652.5L737.9,652.5L738.9,652.5L739.9,652.5L740.9,652.5L741.9,652.5L742.9,652.5L743.9,652.5L744.9,652.6L745.9,652.6L746.9,652.6L747.9,652.6L748.9,652.6L749.9,652.6L750.9,652.7L751.9,652.7L752.9,652.7L753.9,652.7L754.9,652.8L755.9,652.8L756.8,652.8L757.8,652.8L758.8,652.8L759.8,652.9L760.8,652.9L761.8,652.9L762.8,652.9L763.8,653.0L764.8,653.0L765.8,653.0L766.8,653.0L767.8,653.0L768.7,653.0L769.7,653.1L770.7,653.1L771.7,653.1L772.7,653.1L773.7,653.1L774.7,653.1L775.7,653.1L776.7,653.1L777.7,653.2L778.7,653.2L779.7,653.2L780.7,653.2L781.8,653.2L782.8,653.2L783.8,653.2L784.8,653.1L785.8,653.1L786.8,653.1L787.8,653.1L788.9,653.1L789.9,653.1L790.9,653.1L791.9,653.0L792.9,653.0L794.0,653.0L795.0,652.9L796.0,652.9" stroke="#00ff00"/>
<path d="M455.08,653.07L456.1,653.1L457.1,653.1L458.0,653.1L459.0,653.1L460.0,653.1L461.0,653.1L462.0,653.1L463.0,653.1L464.0,653.1L465.0,653.1L466.0,653.1L467.0,653.1L468.0,653.1L469.0,653.1L470.0,653.1L471.0,653.0L472.0,653.0L473.0,653.0L474.0,653.0L475.0,653.0L476.0,653.0L477.0,653.0L478.0,653.0L479.0,653.0L480.0,653.0L481.0,653.0L482.0,653.0L483.0,653.0L484.0,653.0L485.0,653.0L486.0,653.0L487.0,653.0L488.0,653.0L489.1,653.0L490.1,653.0L491.1,652.9L492.1,652.9L493.1,652.9L494.1,652.9L495.1,652.9L496.1,652.9L497.1,652.9L498.1,652.9L499.1,652.9L500.1,652.9L501.1,652.9L502.2,652.9L503.2,652.9L504.2,652.8L505.2,652.8L506.2,652.8L507.2,652.8L508.2,652.8L509.2,652.8L510.2,652.8L511.2,652.8L512.2,652.8L513.2,652.8L514.2,652.8L515.2,652.7L516.2,652.7L517.2,652.7L518.2,652.7L519.2,652.7L520.2,652.7L521.2,652.7L522.2,652.7L523.2,652.7L524.2,652.6L525.2,652.6L526.2,652.6L527.2,652.6L528.2,652.6L529.2,652.6L530.2,652.6L531.2,652.6L532.2,652.6L533.2,652.5L534.2,652.5L535.2,652.5L536.1,652.5L537.1,652.5L538.1,652.4L539.1,652.4L540.1,652.4L541.1,652.4L542.1,652.3L543.1,652.3L544.1,652.2L545.0,652.2L546.0,652.2L547.0,652.1L548.0,652.0L549.0,652.0L550.0,651.9L551.0,651.8L552.0,651.7L553.0,651.7L554.0,651.6L555.0,651.5L556.0,651.4L557.0,651.3L558.0,651.1L559.0,651.0L560.0,650.9L561.0,650.7L562.0,650.6L563.0,650.4L564.0,650.2L565.0,650.1L566.0,649.9L567.1,649.7L568.1,649.5L569.1,649.3L570.1,649.0L571.1,648.8L572.1,648.5L573.1,648.3L574.1,648.0L575.1,647.7L576.1,647.4L577.0,647.1L578.0,646.7L579.0,646.4L579.9,646.0L580.8,645.6L581.8,645.2L582.7,644.8L583.6,644.4L584.4,643.9L585.3,643.4L586.1,642.9L587.0,642.4L587.8,641.9L588.6,641.3L589.4,640.8L590.1,640.2L590.9,639.6L591.6,638.9L592.3,638.3L592.9,637.6L593.6,636.9L594.2,636.2L594.8,635.4L595.4,634.6L596.0,633.9L596.5,633.1L597.1,632.2L597.6,631.4L598.1,630.6L598.5,629.7L599.0,628.8L599.4,627.9L599.9,627.0L600.3,626.1L600.7,625.2L601.1,624.3L601.4,623.3L601.8,622.4L602.1,621.4L602.4,620.5L602.8,619.5L603.1,618.5L603.4,617.5L603.6,616.5L603.9,615.6L604.2,614.6L604.4,613.6L604.7,612.6L604.9,611.6L605.1,610.6L605.3,609.6L605.5,608.6L605.7,607.6L605.9,606.6L606.1,605.6L606.3,604.6L606.5,603.6L606.7,602.6L606.8,601.6L607.0,600.6L607.2,599.6L607.3,598.6L607.5,597.6L607.6,596.6L607.8,595.6L607.9,594.6L608.1,593.6L608.2,592.6L608.4,591.7L608.5,590.7L608.7,589.7L608.8,588.7L609.0,587.7L609.1,586.7L609.3,585.8L609.5,584.8L609.6,583.8L609.8,582.8L610.0,581.9L610.1,580.9L610.3,579.9L610.5,579.0L610.7,578.0L610.9,577.1L611.1,576.1L611.3,575.1L611.5,574.2L611.7,573.2L611.9,572.3L612.2,571.3L612.4,570.4L612.6,569.4L612.8,568.5L613.1,567.5L613.3,566.5L613.5,565.6L613.7,564.6L614.0,563.7L614.2,562.7L614.4,561.7L614.7,560.7L614.9,559.8L615.1,558.8L615.3,557.8L615.6,556.8L615.8,555.8L616.0,554.8L616.2,553.8L616.4,552.8L616.6,551.7L616.9,550.7L617.1,549.7L617.3,548.6L617.4,547.6L617.6,546.5L617.8,545.5L618.0,544.4L618.2,543.3L618.4,542.3L618.6,541.2L618.8,540.2L619.1,539.2L619.3,538.1L619.5,537.1L619.8,536.1L620.1,535.2L620.4,534.2L620.7,533.3L621.0,532.4L621.4,531.5L621.8,530.6L622.2,529.8L622.6,529.1L623.1,528.4L623.6,527.8L624.0,527.3L624.5,526.9L625.0,526.6L625.5,526.5L625.9,526.6L626.4,526.8L626.9,527.2L627.3,527.6L627.8,528.2L628.2,528.9L628.6,529.7L629.0,530.5L629.4,531.4L629.8,532.4L630.2,533.4L630.5,534.4L630.8,535.4L631.1,536.5L631.4,537.5L631.7,538.5L631.9,539.5L632.2,540.6L632.4,541.6L632.6,542.6L632.8,543.6L633.0,544.6L633.2,545.6L633.4,546.6L633.6,547.6L633.8,548.6L633.9,549.6L634.1,550.6L634.3,551.6L634.5,552.6L634.7,553.6L634.9,554.6L635.1,555.6L635.3,556.6L635.5,557.6L635.7,558.6L635.9,559.5L636.1,560.5L636.4,561.5L636.6,562.5L636.8,563.5L637.0,564.4L637.3,565.4L637.5,566.4L637.7,567.4L638.0,568.3L638.2,569.3L638.4,570.3L638.6,571.2L638.9,572.2L639.1,573.2L639.3,574.2L639.5,575.1L639.8,576.1L640.0,577.1L640.2,578.0L640.4,579.0L640.6,580.0L640.8,581.0L641.0,581.9L641.2,582.9L641.4,583.9L641.6,584.9L641.7,585.9L641.9,586.8L642.1,587.8L642.2,588.8L642.4,589.8L642.5,590.8L642.7,591.8L642.8,592.8L642.9,593.8L643.1,594.7L643.2,595.7L643.4,596.7L643.5,597.7L643.7,598.7L643.8,599.7L643.9,600.7L644.1,601.7L644.3,602.7L644.4,603.6L644.6,604.6L644.7,605.6L644.9,606.6L645.1,607.6L645.3,608.6L645.5,609.6L645.7,610.6L645.9,611.6L646.1,612.5L646.4,613.5L646.6,614.5L646.9,615.5L647.1,616.5L647.4,617.4L647.7,618.4L648.0,619.4L648.3,620.4L648.7,621.3L649.0,622.3L649.4,623.2L649.8,624.2L650.2,625.1L650.6,626.0L651.0,627.0L651.4,627.9L651.9,628.8L652.4,629.6L652.9,630.5L653.4,631.4L653.9,632.2L654.4,633.0L655.0,633.8L655.6,634.6L656.2,635.4L656.8,636.2L657.4,636.9L658.1,637.6L658.7,638.3L659.4,639.0L660.2,639.6L660.9,640.2L661.6,640.8L662.4,641.4L663.2,642.0L664.0,642.5L664.8,643.0L665.7,643.5L666.5,644.0L667.4,644.4L668.3,644.9L669.2,645.3L670.1,645.7L671.0,646.1L671.9,646.4L672.9,646.8L673.8,647.1L674.8,647.4L675.7,647.7L676.7,648.0L677.7,648.3L678.7,648.6L679.7,648.8L680.7,649.0L681.7,649.3L682.7,649.5L683.7,649.7L684.7,649.9L685.7,650.0L686.8,650.2L687.8,650.4L688.8,650.5L689.8,650.7L690.8,650.8L691.9,651.0L692.9,651.1L693.9,651.2L694.9,651.3L695.9,651.4L696.9,651.5L697.9,651.6L698.9,651.7L699.9,651.8L700.9,651.9L701.9,651.9L702.9,652.0L703.9,652.1L704.9,652.1L705.9,652.2L706.9,652.2L707.9,652.3L708.9,652.3L709.9,652.3L710.9,652.4L711.8,652.4L712.8,652.4L713.8,652.5L714.8,652.5L715.8,652.5L716.8,652.5L717.8,652.6L718.8,652.6L719.7,652.6L720.7,652.6L721.7,652.6L722.7,652.6L723.7,652.6L724.7,652.7L725.7,652.7L726.7,652.7L727.7,652.7L728.7,652.7L729.7,652.7L730.7,652.7L731.7,652.7L732.7,652.7L733.7,652.7L734.7,652.7L735.7,652.8L736.7,652.8L737.7,652.8L738.7,652.8L739.7,652.8L740.7,652.8L741.7,652.8L742.7,652.8L743.7,652.8L744.7,652.8L745.7,652.8L746.7,652.8L747.7,652.9L748.7,652.9L749.7,652.9L750.7,652.9L751.8,652.9L752.8,652.9L753.8,652.9L754.8,652.9L755.8,652.9L756.8,652.9L757.8,652.9L758.8,652.9L759.8,652.9L760.8,652.9L761.8,653.0L762.8,653.0L763.9,653.0L764.9,653.0L765.9,653.0L766.9,653.0L767.9,653.0L768.9,653.0L769.9,653.0L770.9,653.0L771.9,653.0L772.9,653.0L773.9,653.0L774.9,653.0L775.9,653.0L776.9,653.0L777.9,653.0L778.9,653.0L779.9,653.0L780.9,653.0L781.9,653.0L782.9,653.1L783.9,653.1L784.9,653.1L785.9,653.1L786.9,653.1L787.9,653.1L788.9,653.1L789.9,653.1L790.9,653.1L791.9,653.1L792.9,653.1L793.8,653.1L794.8,653.1L795.8,653.1" stroke="#0000ff"/>
<path d="M455.02,653.15L456.0,653.1L457.0,653.1L458.0,653.1L459.0,653.1L460.0,653.1L461.0,653.1L462.0,653.1L463.0,653.1L464.0,653.1L465.0,653.1L466.0,653.1L467.0,653.1L468.0,653.1L469.0,653.0L470.0,653.0L471.0,653.0L472.0,653.0L473.0,653.0L474.0,653.0L475.0,653.0L476.0,653.0L477.0,653.0L478.0,653.0L479.0,653.0L480.0,653.0L481.0,653.0L482.0,653.0L483.0,653.0L484.0,653.0L485.0,653.0L486.0,653.0L487.0,653.0L488.1,653.0L489.1,653.0L490.1,653.0L491.1,653.0L492.1,653.0L493.1,653.1L494.1,653.1L495.1,653.1L496.1,653.1L497.1,653.1L498.1,653.1L499.1,653.1L500.1,653.1L501.1,653.1L502.1,653.1L503.1,653.1L504.1,653.1L505.1,653.1L506.1,653.1L507.1,653.1L508.1,653.0L509.1,653.0L510.1,653.0L511.1,653.0L512.1,653.0L513.1,653.0L514.1,653.0L515.1,653.0L516.1,653.0L517.1,653.0L518.1,653.0L519.1,653.0L520.1,653.0L521.1,653.0L522.1,653.0L523.1,653.0L524.2,652.9L525.2,652.9L526.2,652.9L527.2,652.9L528.2,652.9L529.2,652.9L530.2,652.9L531.2,652.8L532.2,652.8L533.2,652.8L534.2,652.8L535.2,652.8L536.2,652.7L537.2,652.7L538.2,652.7L539.2,652.7L540.2,652.7L541.2,652.6L542.1,652.6L543.1,652.6L544.1,652.5L545.1,652.5L546.1,652.5L547.1,652.4L548.1,652.4L549.1,652.4L550.1,652.3L551.1,652.3L552.1,652.2L553.1,652.2L554.1,652.1L555.1,652.1L556.1,652.0L557.1,652.0L558.1,651.9L559.1,651.8L560.1,651.8L561.1,651.7L562.1,651.6L563.1,651.5L564.1,651.4L565.1,651.3L566.1,651.2L567.1,651.1L568.1,651.0L569.2,650.9L570.2,650.7L571.2,650.6L572.2,650.5L573.2,650.3L574.2,650.1L575.2,649.9L576.2,649.7L577.2,649.5L578.1,649.3L579.1,649.0L580.1,648.7L581.0,648.4L581.9,648.1L582.8,647.7L583.7,647.3L584.6,646.9L585.5,646.4L586.3,646.0L587.1,645.4L587.9,644.9L588.7,644.3L589.5,643.7L590.2,643.0L590.9,642.3L591.6,641.6L592.2,640.8L592.9,640.1L593.5,639.3L594.0,638.4L594.6,637.6L595.1,636.7L595.7,635.9L596.1,635.0L596.6,634.1L597.0,633.1L597.5,632.2L597.9,631.3L598.2,630.4L598.6,629.4L598.9,628.5L599.2,627.5L599.5,626.6L599.7,625.6L600.0,624.6L600.2,623.7L600.5,622.7L600.7,621.7L600.9,620.7L601.1,619.8L601.3,618.8L601.5,617.8L601.7,616.8L601.9,615.8L602.0,614.8L602.2,613.9L602.4,612.9L602.6,611.9L602.7,610.9L602.9,609.9L603.1,608.9L603.2,608.0L603.4,607.0L603.6,606.0L603.7,605.0L603.9,604.0L604.0,603.0L604.2,602.0L604.3,601.1L604.5,600.1L604.6,599.1L604.7,598.1L604.9,597.1L605.0,596.1L605.2,595.1L605.3,594.1L605.4,593.1L605.6,592.2L605.7,591.2L605.9,590.2L606.0,589.2L606.1,588.2L606.3,587.2L606.4,586.2L606.5,585.2L606.7,584.2L606.8,583.2L606.9,582.2L607.0,581.2L607.2,580.2L607.3,579.2L607.4,578.3L607.6,577.3L607.7,576.3L607.8,575.3L608.0,574.3L608.1,573.3L608.2,572.3L608.4,571.3L608.5,570.3L608.6,569.3L608.8,568.3L608.9,567.3L609.0,566.3L609.2,565.3L609.3,564.3L609.4,563.3L609.5,562.3L609.7,561.3L609.8,560.3L609.9,559.3L610.0,558.3L610.2,557.3L610.3,556.4L610.4,555.4L610.6,554.4L610.7,553.4L610.8,552.4L610.9,551.4L611.0,550.4L611.2,549.4L611.3,548.4L611.4,547.4L611.5,546.4L611.7,545.4L611.8,544.4L611.9,543.4L612.0,542.4L612.1,541.4L612.2,540.4L612.3,539.4L612.5,538.5L612.6,537.5L612.7,536.5L612.8,535.5L612.9,534.5L613.0,533.5L613.1,532.5L613.2,531.5L613.3,530.5L613.5,529.5L613.6,528.5L613.7,527.5L613.8,526.6L613.9,525.6L614.0,524.6L614.1,523.6L614.2,522.6L614.3,521.6L614.4,520.6L614.6,519.6L614.7,518.6L614.8,517.6L614.9,516.6L615.0,515.7L615.1,514.7L615.3,513.7L615.4,512.7L615.5,511.7L615.6,510.7L615.8,509.7L615.9,508.7L616.0,507.7L616.2,506.7L616.3,505.7L616.4,504.7L616.6,503.8L616.7,502.8L616.9,501.8L617.0,500.8L617.2,499.8L617.3,498.8L617.5,497.8L617.6,496.8L617.8,495.8L618.0,494.8L618.1,493.8L618.3,492.8L618.5,491.8L618.7,490.8L618.9,489.8L619.1,488.7L619.3,487.7L619.6,486.7L619.8,485.7L620.0,484.6L620.3,483.6L620.6,482.5L620.8,481.5L621.1,480.4L621.4,479.4L621.7,478.4L622.1,477.4L622.4,476.5L622.7,475.7L623.1,474.9L623.4,474.2L623.8,473.5L624.1,473.0L624.5,472.6L624.9,472.3L625.3,472.2L625.6,472.1L626.0,472.3L626.4,472.5L626.8,472.9L627.2,473.4L627.5,474.0L627.9,474.7L628.3,475.5L628.6,476.3L628.9,477.2L629.2,478.2L629.5,479.2L629.8,480.2L630.1,481.3L630.3,482.4L630.6,483.5L630.8,484.6L631.0,485.7L631.2,486.8L631.4,487.8L631.7,488.9L631.9,489.9L632.1,491.0L632.3,492.0L632.5,493.0L632.7,494.0L632.8,495.0L633.0,496.0L633.2,497.0L633.4,498.0L633.6,498.9L633.7,499.9L633.9,500.9L634.1,501.8L634.2,502.8L634.4,503.8L634.5,504.8L634.7,505.7L634.8,506.7L635.0,507.7L635.1,508.7L635.2,509.6L635.4,510.6L635.5,511.6L635.6,512.6L635.7,513.6L635.9,514.6L636.0,515.5L636.1,516.5L636.2,517.5L636.3,518.5L636.4,519.5L636.5,520.5L636.6,521.5L636.7,522.5L636.8,523.5L636.9,524.5L637.0,525.5L637.1,526.5L637.2,527.5L637.3,528.4L637.4,529.4L637.5,530.4L637.6,531.4L637.7,532.4L637.8,533.4L637.9,534.4L638.0,535.4L638.1,536.4L638.2,537.4L638.3,538.4L638.4,539.4L638.5,540.4L638.7,541.4L638.8,542.4L638.9,543.4L639.0,544.4L639.1,545.4L639.2,546.4L639.4,547.4L639.5,548.4L639.6,549.4L639.8,550.4L639.9,551.4L640.0,552.4L640.2,553.4L640.3,554.4L640.4,555.4L640.6,556.4L640.7,557.4L640.8,558.4L641.0,559.4L641.1,560.4L641.3,561.4L641.4,562.4L641.5,563.4L641.7,564.4L641.8,565.4L642.0,566.4L642.1,567.4L642.3,568.4L642.4,569.4L642.5,570.4L642.7,571.4L642.8,572.4L643.0,573.3L643.1,574.3L643.2,575.3L643.4,576.3L643.5,577.3L643.6,578.3L643.8,579.3L643.9,580.3L644.0,581.3L644.2,582.3L644.3,583.2L644.4,584.2L644.5,585.2L644.6,586.2L644.8,587.2L644.9,588.2L645.0,589.1L645.1,590.1L645.2,591.1L645.3,592.1L645.5,593.1L645.6,594.1L645.7,595.0L645.8,596.0L645.9,597.0L646.0,598.0L646.1,599.0L646.3,600.0L646.4,600.9L646.5,601.9L646.7,602.9L646.8,603.9L646.9,604.9L647.1,605.9L647.2,606.9L647.4,607.8L647.5,608.8L647.7,609.8L647.9,610.8L648.0,611.8L648.2,612.8L648.4,613.8L648.6,614.8L648.8,615.8L649.0,616.8L649.2,617.8L649.5,618.8L649.7,619.8L649.9,620.8L650.2,621.8L650.5,622.8L650.8,623.8L651.0,624.8L651.3,625.8L651.7,626.7L652.0,627.7L652.3,628.7L652.7,629.6L653.1,630.6L653.4,631.5L653.8,632.4L654.3,633.3L654.7,634.2L655.2,635.1L655.6,636.0L656.1,636.8L656.6,637.6L657.1,638.4L657.7,639.2L658.3,640.0L658.8,640.7L659.5,641.5L660.1,642.2L660.7,642.8L661.4,643.5L662.1,644.1L662.8,644.7L663.6,645.3L664.4,645.8L665.2,646.3L666.0,646.8L666.8,647.2L667.7,647.6L668.6,648.0L669.5,648.4L670.5,648.7L671.4,649.0L672.4,649.3L673.4,649.5L674.4,649.8L675.4,650.0L676.4,650.2L677.4,650.4L678.5,650.5L679.5,650.7L680.6,650.8L681.6,651.0L682.7,651.1L683.7,651.2L684.8,651.3L685.8,651.4L686.9,651.5L687.9,651.5L688.9,651.6L690.0,651.7L691.0,651.8L692.0,651.8L693.0,651.9L694.0,652.0L695.0,652.0L696.0,652.1L697.0,652.1L698.0,652.2L699.0,652.2L700.0,652.3L701.0,652.3L702.0,652.4L702.9,652.4L703.9,652.4L704.9,652.5L705.9,652.5L706.9,652.5L707.8,652.6L708.8,652.6L709.8,652.6L710.8,652.6L711.8,652.7L712.8,652.7L713.8,652.7L714.7,652.7L715.7,652.8L716.7,652.8L717.7,652.8L718.7,652.8L719.7,652.8L720.7,652.9L721.7,652.9L722.7,652.9L723.7,652.9L724.7,652.9L725.7,652.9L726.7,652.9L727.7,653.0L728.7,653.0L729.7,653.0L730.7,653.0L731.7,653.0L732.7,653.0L733.7,653.0L734.7,653.0L735.7,653.0L736.7,653.0L737.7,653.0L738.7,653.0L739.7,653.0L740.7,653.0L741.7,653.0L742.7,653.1L743.7,653.1L744.7,653.1L745.7,653.1L746.8,653.1L747.8,653.1L748.8,653.1L749.8,653.1L750.8,653.1L751.8,653.1L752.8,653.1L753.8,653.1L754.8,653.1L755.8,653.1L756.8,653.1L757.8,653.1L758.9,653.0L759.9,653.0L760.9,653.0L761.9,653.0L762.9,653.0L763.9,653.0L764.9,653.0L765.9,653.0L766.9,653.0L767.9,653.0L768.9,653.0L769.9,653.0L770.9,653.0L771.9,653.0L772.9,653.0L773.9,653.0L774.9,653.0L775.9,653.0L776.9,653.0L777.9,653.0L778.9,653.0L779.9,653.0L780.9,653.0L781.9,653.0L782.9,653.1L783.9,653.1L784.9,653.1L785.9,653.1L786.9,653.1L787.9,653.1L788.9,653.1L789.9,653.1L790.9,653.1L791.9,653.1L792.8,653.1L793.8,653.1L794.8,653.1L795.8,653.1" stroke="#ff00ff"/>
</g>
<rect x="75.70" y="32.20" width="303.80" height="190.50" fill="none" stroke="#000" stroke-width="1.4"/>
<line x1="92.80" y1="32.20" x2="92.80" y2="41.20" stroke="#000" stroke-width="1.4"/>
<line x1="92.80" y1="222.70" x2="92.80" y2="231.70" stroke="#000" stroke-width="1.4"/>
<line x1="150.14" y1="32.20" x2="150.14" y2="41.20" stroke="#000" stroke-width="1.4"/>
<line x1="150.14" y1="222.70" x2="150.14" y2="231.70" stroke="#000" stroke-width="1.4"/>
<line x1="207.48" y1="32.20" x2="207.48" y2="41.20" stroke="#000" stroke-width="1.4"/>
<line x1="207.48" y1="222.70" x2="207.48" y2="231.70" stroke="#000" stroke-width="1.4"/>
<line x1="264.82" y1="32.20" x2="264.82" y2="41.20" stroke="#000" stroke-width="1.4"/>
<line x1="264.82" y1="222.70" x2="264.82" y2="231.70" stroke="#000" stroke-width="1.4"/>
<line x1="322.16" y1="32.20" x2="322.16" y2="41.20" stroke="#000" stroke-width="1.4"/>
<line x1="322.16" y1="222.70" x2="322.16" y2="231.70" stroke="#000" stroke-width="1.4"/>
<line x1="379.50" y1="32.20" x2="379.50" y2="41.20" stroke="#000" stroke-width="1.4"/>
<line x1="379.50" y1="222.70" x2="379.50" y2="231.70" stroke="#000" stroke-width="1.4"/>
<line x1="121.47" y1="32.20" x2="121.47" y2="36.80" stroke="#000" stroke-width="1.4"/>
<line x1="121.47" y1="222.70" x2="121.47" y2="227.30" stroke="#000" stroke-width="1.4"/>
<line x1="178.81" y1="32.20" x2="178.81" y2="36.80" stroke="#000" stroke-width="1.4"/>
<line x1="178.81" y1="222.70" x2="178.81" y2="227.30" stroke="#000" stroke-width="1.4"/>
<line x1="236.15" y1="32.20" x2="236.15" y2="36.80" stroke="#000" stroke-width="1.4"/>
<line x1="236.15" y1="222.70" x2="236.15" y2="227.30" stroke="#000" stroke-width="1.4"/>
<line x1="293.49" y1="32.20" x2="293.49" y2="36.80" stroke="#000" stroke-width="1.4"/>
<line x1="293.49" y1="222.70" x2="293.49" y2="227.30" stroke="#000" stroke-width="1.4"/>
<line x1="350.83" y1="32.20" x2="350.83" y2="36.80" stroke="#000" stroke-width="1.4"/>
<line x1="350.83" y1="222.70" x2="350.83" y2="227.30" stroke="#000" stroke-width="1.4"/>
<line x1="66.70" y1="219.00" x2="75.70" y2="219.00" stroke="#000" stroke-width="1.4"/>
<line x1="370.50" y1="219.00" x2="379.50" y2="219.00" stroke="#000" stroke-width="1.4"/>
<line x1="66.70" y1="125.60" x2="75.70" y2="125.60" stroke="#000" stroke-width="1.4"/>
<line x1="370.50" y1="125.60" x2="379.50" y2="125.60" stroke="#000" stroke-width="1.4"/>
<line x1="66.70" y1="32.20" x2="75.70" y2="32.20" stroke="#000" stroke-width="1.4"/>
<line x1="370.50" y1="32.20" x2="379.50" y2="32.20" stroke="#000" stroke-width="1.4"/>
<line x1="71.10" y1="172.30" x2="75.70" y2="172.30" stroke="#000" stroke-width="1.4"/>
<line x1="374.90" y1="172.30" x2="379.50" y2="172.30" stroke="#000" stroke-width="1.4"/>
<line x1="71.10" y1="78.90" x2="75.70" y2="78.90" stroke="#000" stroke-width="1.4"/>
<line x1="374.90" y1="78.90" x2="379.50" y2="78.90" stroke="#000" stroke-width="1.4"/>
<text x="59.90" y="38.25" font-family='"Liberation Sans", sans-serif' font-size="20" text-anchor="end" >2.5</text>
<text x="59.90" y="131.65" font-family='"Liberation Sans", sans-serif' font-size="20" text-anchor="end" >1.25</text>
<text x="59.90" y="225.05" font-family='"Liberation Sans", sans-serif' font-size="20" text-anchor="end" >0</text>
<rect x="75.70" y="247.70" width="303.80" height="190.30" fill="none" stroke="#000" stroke-width="1.4"/>
<line x1="92.80" y1="247.70" x2="92.80" y2="256.70" stroke="#000" stroke-width="1.4"/>
<line x1="92.80" y1="438.00" x2="92.80" y2="447.00" stroke="#000" stroke-width="1.4"/>
<line x1="150.14" y1="247.70" x2="150.14" y2="256.70" stroke="#000" stroke-width="1.4"/>
<line x1="150.14" y1="438.00" x2="150.14" y2="447.00" stroke="#000" stroke-width="1.4"/>
<line x1="207.48" y1="247.70" x2="207.48" y2="256.70" stroke="#000" stroke-width="1.4"/>
<line x1="207.48" y1="438.00" x2="207.48" y2="447.00" stroke="#000" stroke-width="1.4"/>
<line x1="264.82" y1="247.70" x2="264.82" y2="256.70" stroke="#000" stroke-width="1.4"/>
<line x1="264.82" y1="438.00" x2="264.82" y2="447.00" stroke="#000" stroke-width="1.4"/>
<line x1="322.16" y1="247.70" x2="322.16" y2="256.70" stroke="#000" stroke-width="1.4"/>
<line x1="322.16" y1="438.00" x2="322.16" y2="447.00" stroke="#000" stroke-width="1.4"/>
<line x1="379.50" y1="247.70" x2="379.50" y2="256.70" stroke="#000" stroke-width="1.4"/>
<line x1="379.50" y1="438.00" x2="379.50" y2="447.00" stroke="#000" stroke-width="1.4"/>
<line x1="121.47" y1="247.70" x2="121.47" y2="252.30" stroke="#000" stroke-width="1.4"/>
<line x1="121.47" y1="438.00" x2="121.47" y2="442.60" stroke="#000" stroke-width="1.4"/>
<line x1="178.81" y1="247.70" x2="178.81" y2="252.30" stroke="#000" stroke-width="1.4"/>
<line x1="178.81" y1="438.00" x2="178.81" y2="442.60" stroke="#000" stroke-width="1.4"/>
<line x1="236.15" y1="247.70" x2="236.15" y2="252.30" stroke="#000" stroke-width="1.4"/>
<line x1="236.15" y1="438.00" x2="236.15" y2="442.60" stroke="#000" stroke-width="1.4"/>
<line x1="293.49" y1="247.70" x2="293.49" y2="252.30" stroke="#000" stroke-width="1.4"/>
<line x1="293.49" y1="438.00" x2="293.49" y2="442.60" stroke="#000" stroke-width="1.4"/>
<line x1="350.83" y1="247.70" x2="350.83" y2="252.30" stroke="#000" stroke-width="1.4"/>
<line x1="350.83" y1="438.00" x2="350.83" y2="442.60" stroke="#000" stroke-width="1.4"/>
<line x1="66.70" y1="434.80" x2="75.70" y2="434.80" stroke="#000" stroke-width="1.4"/>
<line x1="370.50" y1="434.80" x2="379.50" y2="434.80" stroke="#000" stroke-width="1.4"/>
<line x1="66.70" y1="372.43" x2="75.70" y2="372.43" stroke="#000" stroke-width="1.4"/>
<line x1="370.50" y1="372.43" x2="379.50" y2="372.43" stroke="#000" stroke-width="1.4"/>
<line x1="66.70" y1="310.06" x2="75.70" y2="310.06" stroke="#000" stroke-width="1.4"/>
<line x1="370.50" y1="310.06" x2="379.50" y2="310.06" stroke="#000" stroke-width="1.4"/>
<line x1="66.70" y1="247.69" x2="75.70" y2="247.69" stroke="#000" stroke-width="1.4"/>
<line x1="370.50" y1="247.69" x2="379.50" y2="247.69" stroke="#000" stroke-width="1.4"/>
<line x1="71.10" y1="403.62" x2="75.70" y2="403.62" stroke="#000" stroke-width="1.4"/>
<line x1="374.90" y1="403.62" x2="379.50" y2="403.62" stroke="#000" stroke-width="1.4"/>
<line x1="71.10" y1="341.25" x2="75.70" y2="341.25" stroke="#000" stroke-width="1.4"/>
<line x1="374.90" y1="341.25" x2="379.50" y2="341.25" stroke="#000" stroke-width="1.4"/>
<line x1="71.10" y1="278.88" x2="75.70" y2="278.88" stroke="#000" stroke-width="1.4"/>
<line x1="374.90" y1="278.88" x2="379.50" y2="278.88" stroke="#000" stroke-width="1.4"/>
<text x="59.90" y="253.74" font-family='"Liberation Sans", sans-serif' font-size="20" text-anchor="end" >3</text>
<text x="59.90" y="316.11" font-family='"Liberation Sans", sans-serif' font-size="20" text-anchor="end" >2</text>
<text x="59.90" y="378.48" font-family='"Liberation Sans", sans-serif' font-size="20" text-anchor="end" >1</text>
<text x="59.90" y="440.85" font-family='"Liberation Sans", sans-serif' font-size="20" text-anchor="end" >0</text>
<rect x="75.70" y="463.00" width="303.80" height="190.20" fill="none" stroke="#000" stroke-width="1.4"/>
<line x1="92.80" y1="463.00" x2="92.80" y2="472.00" stroke="#000" stroke-width="1.4"/>
<line x1="92.80" y1="653.20" x2="92.80" y2="662.20" stroke="#000" stroke-width="1.4"/>
<line x1="150.14" y1="463.00" x2="150.14" y2="472.00" stroke="#000" stroke-width="1.4"/>
<line x1="150.14" y1="653.20" x2="150.14" y2="662.20" stroke="#000" stroke-width="1.4"/>
<line x1="207.48" y1="463.00" x2="207.48" y2="472.00" stroke="#000" stroke-width="1.4"/>
<line x1="207.48" y1="653.20" x2="207.48" y2="662.20" stroke="#000" stroke-width="1.4"/>
<line x1="264.82" y1="463.00" x2="264.82" y2="472.00" stroke="#000" stroke-width="1.4"/>
<line x1="264.82" y1="653.20" x2="264.82" y2="662.20" stroke="#000" stroke-width="1.4"/>
<line x1="322.16" y1="463.00" x2="322.16" y2="472.00" stroke="#000" stroke-width="1.4"/>
<line x1="322.16" y1="653.20" x2="322.16" y2="662.20" stroke="#000" stroke-width="1.4"/>
<line x1="379.50" y1="463.00" x2="379.50" y2="472.00" stroke="#000" stroke-width="1.4"/>
<line x1="379.50" y1="653.20" x2="379.50" y2="662.20" stroke="#000" stroke-width="1.4"/>
<line x1="121.47" y1="463.00" x2="121.47" y2="467.60" stroke="#000" stroke-width="1.4"/>
<line x1="121.47" y1="653.20" x2="121.47" y2="657.80" stroke="#000" stroke-width="1.4"/>
<line x1="178.81" y1="463.00" x2="178.81" y2="467.60" stroke="#000" stroke-width="1.4"/>
<line x1="178.81" y1="653.20" x2="178.81" y2="657.80" stroke="#000" stroke-width="1.4"/>
<line x1="236.15" y1="463.00" x2="236.15" y2="467.60" stroke="#000" stroke-width="1.4"/>
<line x1="236.15" y1="653.20" x2="236.15" y2="657.80" stroke="#000" stroke-width="1.4"/>
<line x1="293.49" y1="463.00" x2="293.49" y2="467.60" stroke="#000" stroke-width="1.4"/>
<line x1="293.49" y1="653.20" x2="293.49" y2="657.80" stroke="#000" stroke-width="1.4"/>
<line x1="350.83" y1="463.00" x2="350.83" y2="467.60" stroke="#000" stroke-width="1.4"/>
<line x1="350.83" y1="653.20" x2="350.83" y2="657.80" stroke="#000" stroke-width="1.4"/>
<line x1="66.70" y1="647.40" x2="75.70" y2="647.40" stroke="#000" stroke-width="1.4"/>
<line x1="370.50" y1="647.40" x2="379.50" y2="647.40" stroke="#000" stroke-width="1.4"/>
<line x1="66.70" y1="589.66" x2="75.70" y2="589.66" stroke="#000" stroke-width="1.4"/>
<line x1="370.50" y1="589.66" x2="379.50" y2="589.66" stroke="#000" stroke-width="1.4"/>
<line x1="66.70" y1="531.93" x2="75.70" y2="531.93" stroke="#000" stroke-width="1.4"/>
<line x1="370.50" y1="531.93" x2="379.50" y2="531.93" stroke="#000" stroke-width="1.4"/>
<line x1="66.70" y1="474.19" x2="75.70" y2="474.19" stroke="#000" stroke-width="1.4"/>
<line x1="370.50" y1="474.19" x2="379.50" y2="474.19" stroke="#000" stroke-width="1.4"/>
<line x1="71.10" y1="618.53" x2="75.70" y2="618.53" stroke="#000" stroke-width="1.4"/>
<line x1="374.90" y1="618.53" x2="379.50" y2="618.53" stroke="#000" stroke-width="1.4"/>
<line x1="71.10" y1="560.80" x2="75.70" y2="560.80" stroke="#000" stroke-width="1.4"/>
<line x1="374.90" y1="560.80" x2="379.50" y2="560.80" stroke="#000" stroke-width="1.4"/>
<line x1="71.10" y1="503.06" x2="75.70" y2="503.06" stroke="#000" stroke-width="1.4"/>
<line x1="374.90" y1="503.06" x2="379.50" y2="503.06" stroke="#000" stroke-width="1.4"/>
<text x="59.90" y="480.25" font-family='"Liberation Sans", sans-serif' font-size="20" text-anchor="end" >1.5</text>
<text x="59.90" y="537.98" font-family='"Liberation Sans", sans-serif' font-size="20" text-anchor="end" >1.0</text>
<text x="59.90" y="595.71" font-family='"Liberation Sans", sans-serif' font-size="20" text-anchor="end" >0.5</text>
<text x="59.90" y="653.45" font-family='"Liberation Sans", sans-serif' font-size="20" text-anchor="end" >0.0</text>
<rect x="462.20" y="32.00" width="284.60" height="190.10" fill="none" stroke="#000" stroke-width="1.4"/>
<line x1="462.20" y1="32.00" x2="462.20" y2="41.00" stroke="#000" stroke-width="1.4"/>
<line x1="462.20" y1="222.10" x2="462.20" y2="231.10" stroke="#000" stroke-width="1.4"/>
<line x1="509.60" y1="32.00" x2="509.60" y2="41.00" stroke="#000" stroke-width="1.4"/>
<line x1="509.60" y1="222.10" x2="509.60" y2="231.10" stroke="#000" stroke-width="1.4"/>
<line x1="557.00" y1="32.00" x2="557.00" y2="41.00" stroke="#000" stroke-width="1.4"/>
<line x1="557.00" y1="222.10" x2="557.00" y2="231.10" stroke="#000" stroke-width="1.4"/>
<line x1="604.40" y1="32.00" x2="604.40" y2="41.00" stroke="#000" stroke-width="1.4"/>
<line x1="604.40" y1="222.10" x2="604.40" y2="231.10" stroke="#000" stroke-width="1.4"/>
<line x1="651.80" y1="32.00" x2="651.80" y2="41.00" stroke="#000" stroke-width="1.4"/>
<line x1="651.80" y1="222.10" x2="651.80" y2="231.10" stroke="#000" stroke-width="1.4"/>
<line x1="699.20" y1="32.00" x2="699.20" y2="41.00" stroke="#000" stroke-width="1.4"/>
<line x1="699.20" y1="222.10" x2="699.20" y2="231.10" stroke="#000" stroke-width="1.4"/>
<line x1="746.60" y1="32.00" x2="746.60" y2="41.00" stroke="#000" stroke-width="1.4"/>
<line x1="746.60" y1="222.10" x2="746.60" y2="231.10" stroke="#000" stroke-width="1.4"/>
<line x1="485.90" y1="32.00" x2="485.90" y2="36.60" stroke="#000" stroke-width="1.4"/>
<line x1="485.90" y1="222.10" x2="485.90" y2="226.70" stroke="#000" stroke-width="1.4"/>
<line x1="533.30" y1="32.00" x2="533.30" y2="36.60" stroke="#000" stroke-width="1.4"/>
<line x1="533.30" y1="222.10" x2="533.30" y2="226.70" stroke="#000" stroke-width="1.4"/>
<line x1="580.70" y1="32.00" x2="580.70" y2="36.60" stroke="#000" stroke-width="1.4"/>
<line x1="580.70" y1="222.10" x2="580.70" y2="226.70" stroke="#000" stroke-width="1.4"/>
<line x1="628.10" y1="32.00" x2="628.10" y2="36.60" stroke="#000" stroke-width="1.4"/>
<line x1="628.10" y1="222.10" x2="628.10" y2="226.70" stroke="#000" stroke-width="1.4"/>
<line x1="675.50" y1="32.00" x2="675.50" y2="36.60" stroke="#000" stroke-width="1.4"/>
<line x1="675.50" y1="222.10" x2="675.50" y2="226.70" stroke="#000" stroke-width="1.4"/>
<line x1="722.90" y1="32.00" x2="722.90" y2="36.60" stroke="#000" stroke-width="1.4"/>
<line x1="722.90" y1="222.10" x2="722.90" y2="226.70" stroke="#000" stroke-width="1.4"/>
<line x1="453.20" y1="222.10" x2="462.20" y2="222.10" stroke="#000" stroke-width="1.4"/>
<line x1="737.80" y1="222.10" x2="746.80" y2="222.10" stroke="#000" stroke-width="1.4"/>
<line x1="453.20" y1="158.73" x2="462.20" y2="158.73" stroke="#000" stroke-width="1.4"/>
<line x1="737.80" y1="158.73" x2="746.80" y2="158.73" stroke="#000" stroke-width="1.4"/>
<line x1="453.20" y1="95.36" x2="462.20" y2="95.36" stroke="#000" stroke-width="1.4"/>
<line x1="737.80" y1="95.36" x2="746.80" y2="95.36" stroke="#000" stroke-width="1.4"/>
<line x1="453.20" y1="31.99" x2="462.20" y2="31.99" stroke="#000" stroke-width="1.4"/>
<line x1="737.80" y1="31.99" x2="746.80" y2="31.99" stroke="#000" stroke-width="1.4"/>
<line x1="457.60" y1="190.41" x2="462.20" y2="190.41" stroke="#000" stroke-width="1.4"/>
<line x1="742.20" y1="190.41" x2="746.80" y2="190.41" stroke="#000" stroke-width="1.4"/>
<line x1="457.60" y1="127.05" x2="462.20" y2="127.05" stroke="#000" stroke-width="1.4"/>
<line x1="742.20" y1="127.05" x2="746.80" y2="127.05" stroke="#000" stroke-width="1.4"/>
<line x1="457.60" y1="63.68" x2="462.20" y2="63.68" stroke="#000" stroke-width="1.4"/>
<line x1="742.20" y1="63.68" x2="746.80" y2="63.68" stroke="#000" stroke-width="1.4"/>
<text x="444.80" y="37.89" font-family='"Liberation Serif", serif' font-size="20.2" text-anchor="end" >3</text>
<text x="444.80" y="101.26" font-family='"Liberation Serif", serif' font-size="20.2" text-anchor="end" >2</text>
<text x="444.80" y="164.63" font-family='"Liberation Serif", serif' font-size="20.2" text-anchor="end" >1</text>
<text x="444.80" y="228.00" font-family='"Liberation Serif", serif' font-size="20.2" text-anchor="end" >0</text>
<rect x="462.20" y="247.70" width="284.60" height="190.60" fill="none" stroke="#000" stroke-width="1.4"/>
<line x1="462.20" y1="247.70" x2="462.20" y2="256.70" stroke="#000" stroke-width="1.4"/>
<line x1="462.20" y1="438.30" x2="462.20" y2="447.30" stroke="#000" stroke-width="1.4"/>
<line x1="509.60" y1="247.70" x2="509.60" y2="256.70" stroke="#000" stroke-width="1.4"/>
<line x1="509.60" y1="438.30" x2="509.60" y2="447.30" stroke="#000" stroke-width="1.4"/>
<line x1="557.00" y1="247.70" x2="557.00" y2="256.70" stroke="#000" stroke-width="1.4"/>
<line x1="557.00" y1="438.30" x2="557.00" y2="447.30" stroke="#000" stroke-width="1.4"/>
<line x1="604.40" y1="247.70" x2="604.40" y2="256.70" stroke="#000" stroke-width="1.4"/>
<line x1="604.40" y1="438.30" x2="604.40" y2="447.30" stroke="#000" stroke-width="1.4"/>
<line x1="651.80" y1="247.70" x2="651.80" y2="256.70" stroke="#000" stroke-width="1.4"/>
<line x1="651.80" y1="438.30" x2="651.80" y2="447.30" stroke="#000" stroke-width="1.4"/>
<line x1="699.20" y1="247.70" x2="699.20" y2="256.70" stroke="#000" stroke-width="1.4"/>
<line x1="699.20" y1="438.30" x2="699.20" y2="447.30" stroke="#000" stroke-width="1.4"/>
<line x1="746.60" y1="247.70" x2="746.60" y2="256.70" stroke="#000" stroke-width="1.4"/>
<line x1="746.60" y1="438.30" x2="746.60" y2="447.30" stroke="#000" stroke-width="1.4"/>
<line x1="485.90" y1="247.70" x2="485.90" y2="252.30" stroke="#000" stroke-width="1.4"/>
<line x1="485.90" y1="438.30" x2="485.90" y2="442.90" stroke="#000" stroke-width="1.4"/>
<line x1="533.30" y1="247.70" x2="533.30" y2="252.30" stroke="#000" stroke-width="1.4"/>
<line x1="533.30" y1="438.30" x2="533.30" y2="442.90" stroke="#000" stroke-width="1.4"/>
<line x1="580.70" y1="247.70" x2="580.70" y2="252.30" stroke="#000" stroke-width="1.4"/>
<line x1="580.70" y1="438.30" x2="580.70" y2="442.90" stroke="#000" stroke-width="1.4"/>
<line x1="628.10" y1="247.70" x2="628.10" y2="252.30" stroke="#000" stroke-width="1.4"/>
<line x1="628.10" y1="438.30" x2="628.10" y2="442.90" stroke="#000" stroke-width="1.4"/>
<line x1="675.50" y1="247.70" x2="675.50" y2="252.30" stroke="#000" stroke-width="1.4"/>
<line x1="675.50" y1="438.30" x2="675.50" y2="442.90" stroke="#000" stroke-width="1.4"/>
<line x1="722.90" y1="247.70" x2="722.90" y2="252.30" stroke="#000" stroke-width="1.4"/>
<line x1="722.90" y1="438.30" x2="722.90" y2="442.90" stroke="#000" stroke-width="1.4"/>
<line x1="453.20" y1="438.30" x2="462.20" y2="438.30" stroke="#000" stroke-width="1.4"/>
<line x1="737.80" y1="438.30" x2="746.80" y2="438.30" stroke="#000" stroke-width="1.4"/>
<line x1="453.20" y1="374.77" x2="462.20" y2="374.77" stroke="#000" stroke-width="1.4"/>
<line x1="737.80" y1="374.77" x2="746.80" y2="374.77" stroke="#000" stroke-width="1.4"/>
<line x1="453.20" y1="311.24" x2="462.20" y2="311.24" stroke="#000" stroke-width="1.4"/>
<line x1="737.80" y1="311.24" x2="746.80" y2="311.24" stroke="#000" stroke-width="1.4"/>
<line x1="453.20" y1="247.71" x2="462.20" y2="247.71" stroke="#000" stroke-width="1.4"/>
<line x1="737.80" y1="247.71" x2="746.80" y2="247.71" stroke="#000" stroke-width="1.4"/>
<line x1="457.60" y1="406.54" x2="462.20" y2="406.54" stroke="#000" stroke-width="1.4"/>
<line x1="742.20" y1="406.54" x2="746.80" y2="406.54" stroke="#000" stroke-width="1.4"/>
<line x1="457.60" y1="343.00" x2="462.20" y2="343.00" stroke="#000" stroke-width="1.4"/>
<line x1="742.20" y1="343.00" x2="746.80" y2="343.00" stroke="#000" stroke-width="1.4"/>
<line x1="457.60" y1="279.48" x2="462.20" y2="279.48" stroke="#000" stroke-width="1.4"/>
<line x1="742.20" y1="279.48" x2="746.80" y2="279.48" stroke="#000" stroke-width="1.4"/>
<text x="444.80" y="253.61" font-family='"Liberation Serif", serif' font-size="20.2" text-anchor="end" >3</text>
<text x="444.80" y="317.14" font-family='"Liberation Serif", serif' font-size="20.2" text-anchor="end" >2</text>
<text x="444.80" y="380.67" font-family='"Liberation Serif", serif' font-size="20.2" text-anchor="end" >1</text>
<text x="444.80" y="444.20" font-family='"Liberation Serif", serif' font-size="20.2" text-anchor="end" >0</text>
<rect x="462.20" y="462.80" width="284.60" height="190.30" fill="none" stroke="#000" stroke-width="1.4"/>
<line x1="462.20" y1="462.80" x2="462.20" y2="471.80" stroke="#000" stroke-width="1.4"/>
<line x1="462.20" y1="653.10" x2="462.20" y2="662.10" stroke="#000" stroke-width="1.4"/>
<line x1="509.60" y1="462.80" x2="509.60" y2="471.80" stroke="#000" stroke-width="1.4"/>
<line x1="509.60" y1="653.10" x2="509.60" y2="662.10" stroke="#000" stroke-width="1.4"/>
<line x1="557.00" y1="462.80" x2="557.00" y2="471.80" stroke="#000" stroke-width="1.4"/>
<line x1="557.00" y1="653.10" x2="557.00" y2="662.10" stroke="#000" stroke-width="1.4"/>
<line x1="604.40" y1="462.80" x2="604.40" y2="471.80" stroke="#000" stroke-width="1.4"/>
<line x1="604.40" y1="653.10" x2="604.40" y2="662.10" stroke="#000" stroke-width="1.4"/>
<line x1="651.80" y1="462.80" x2="651.80" y2="471.80" stroke="#000" stroke-width="1.4"/>
<line x1="651.80" y1="653.10" x2="651.80" y2="662.10" stroke="#000" stroke-width="1.4"/>
<line x1="699.20" y1="462.80" x2="699.20" y2="471.80" stroke="#000" stroke-width="1.4"/>
<line x1="699.20" y1="653.10" x2="699.20" y2="662.10" stroke="#000" stroke-width="1.4"/>
<line x1="746.60" y1="462.80" x2="746.60" y2="471.80" stroke="#000" stroke-width="1.4"/>
<line x1="746.60" y1="653.10" x2="746.60" y2="662.10" stroke="#000" stroke-width="1.4"/>
<line x1="485.90" y1="462.80" x2="485.90" y2="467.40" stroke="#000" stroke-width="1.4"/>
<line x1="485.90" y1="653.10" x2="485.90" y2="657.70" stroke="#000" stroke-width="1.4"/>
<line x1="533.30" y1="462.80" x2="533.30" y2="467.40" stroke="#000" stroke-width="1.4"/>
<line x1="533.30" y1="653.10" x2="533.30" y2="657.70" stroke="#000" stroke-width="1.4"/>
<line x1="580.70" y1="462.80" x2="580.70" y2="467.40" stroke="#000" stroke-width="1.4"/>
<line x1="580.70" y1="653.10" x2="580.70" y2="657.70" stroke="#000" stroke-width="1.4"/>
<line x1="628.10" y1="462.80" x2="628.10" y2="467.40" stroke="#000" stroke-width="1.4"/>
<line x1="628.10" y1="653.10" x2="628.10" y2="657.70" stroke="#000" stroke-width="1.4"/>
<line x1="675.50" y1="462.80" x2="675.50" y2="467.40" stroke="#000" stroke-width="1.4"/>
<line x1="675.50" y1="653.10" x2="675.50" y2="657.70" stroke="#000" stroke-width="1.4"/>
<line x1="722.90" y1="462.80" x2="722.90" y2="467.40" stroke="#000" stroke-width="1.4"/>
<line x1="722.90" y1="653.10" x2="722.90" y2="657.70" stroke="#000" stroke-width="1.4"/>
<line x1="453.20" y1="653.10" x2="462.20" y2="653.10" stroke="#000" stroke-width="1.4"/>
<line x1="737.80" y1="653.10" x2="746.80" y2="653.10" stroke="#000" stroke-width="1.4"/>
<line x1="453.20" y1="589.67" x2="462.20" y2="589.67" stroke="#000" stroke-width="1.4"/>
<line x1="737.80" y1="589.67" x2="746.80" y2="589.67" stroke="#000" stroke-width="1.4"/>
<line x1="453.20" y1="526.24" x2="462.20" y2="526.24" stroke="#000" stroke-width="1.4"/>
<line x1="737.80" y1="526.24" x2="746.80" y2="526.24" stroke="#000" stroke-width="1.4"/>
<line x1="453.20" y1="462.81" x2="462.20" y2="462.81" stroke="#000" stroke-width="1.4"/>
<line x1="737.80" y1="462.81" x2="746.80" y2="462.81" stroke="#000" stroke-width="1.4"/>
<line x1="457.60" y1="621.38" x2="462.20" y2="621.38" stroke="#000" stroke-width="1.4"/>
<line x1="742.20" y1="621.38" x2="746.80" y2="621.38" stroke="#000" stroke-width="1.4"/>
<line x1="457.60" y1="557.96" x2="462.20" y2="557.96" stroke="#000" stroke-width="1.4"/>
<line x1="742.20" y1="557.96" x2="746.80" y2="557.96" stroke="#000" stroke-width="1.4"/>
<line x1="457.60" y1="494.53" x2="462.20" y2="494.53" stroke="#000" stroke-width="1.4"/>
<line x1="742.20" y1="494.53" x2="746.80" y2="494.53" stroke="#000" stroke-width="1.4"/>
<text x="444.80" y="468.71" font-family='"Liberation Serif", serif' font-size="20.2" text-anchor="end" >3</text>
<text x="444.80" y="532.14" font-family='"Liberation Serif", serif' font-size="20.2" text-anchor="end" >2</text>
<text x="444.80" y="595.57" font-family='"Liberation Serif", serif' font-size="20.2" text-anchor="end" >1</text>
<text x="444.80" y="659.00" font-family='"Liberation Serif", serif' font-size="20.2" text-anchor="end" >0</text>
<rect x="82.10" y="47.20" width="112.50" height="152.80" fill="#fff" stroke="#000" stroke-width="1.4"/>
<text x="133.10" y="68.30" font-family='"Liberation Serif", serif' font-size="20.2" text-anchor="middle" >A</text>
<line x1="84.00" y1="85.50" x2="130.70" y2="85.50" stroke="#000" stroke-width="2.0"/>
<text x="136.00" y="92.70" font-family='"Liberation Serif", serif' font-size="20.2" text-anchor="start" >0</text>
<line x1="84.00" y1="110.90" x2="130.70" y2="110.90" stroke="#ff0000" stroke-width="2.0"/>
<text x="136.00" y="118.10" font-family='"Liberation Serif", serif' font-size="20.2" text-anchor="start" >666.7</text>
<line x1="84.00" y1="136.50" x2="130.70" y2="136.50" stroke="#00ff00" stroke-width="2.0"/>
<text x="136.00" y="143.70" font-family='"Liberation Serif", serif' font-size="20.2" text-anchor="start" >2000</text>
<line x1="84.00" y1="161.70" x2="130.70" y2="161.70" stroke="#0000ff" stroke-width="2.0"/>
<text x="136.00" y="168.90" font-family='"Liberation Serif", serif' font-size="20.2" text-anchor="start" >2666.7</text>
<line x1="84.00" y1="186.60" x2="130.70" y2="186.60" stroke="#ff00ff" stroke-width="2.0"/>
<text x="136.00" y="193.80" font-family='"Liberation Serif", serif' font-size="20.2" text-anchor="start" >3333.4</text>
<rect x="84.70" y="273.60" width="112.20" height="149.10" fill="#fff" stroke="#000" stroke-width="1.4"/>
<text x="148.80" y="291.80" font-family='"Liberation Serif", serif' font-size="20.2" text-anchor="middle" >A</text>
<line x1="84.70" y1="309.80" x2="130.60" y2="309.80" stroke="#404040" stroke-width="2.0"/>
<text x="136.00" y="317.00" font-family='"Liberation Serif", serif' font-size="20.2" text-anchor="start" >0</text>
<line x1="84.70" y1="335.60" x2="130.60" y2="335.60" stroke="#ff0000" stroke-width="2.0"/>
<text x="136.00" y="342.80" font-family='"Liberation Serif", serif' font-size="20.2" text-anchor="start" >22223</text>
<line x1="84.70" y1="360.50" x2="130.60" y2="360.50" stroke="#00ff00" stroke-width="2.0"/>
<text x="136.00" y="367.70" font-family='"Liberation Serif", serif' font-size="20.2" text-anchor="start" >66667</text>
<line x1="84.70" y1="385.60" x2="130.60" y2="385.60" stroke="#0000ff" stroke-width="2.0"/>
<text x="136.00" y="392.80" font-family='"Liberation Serif", serif' font-size="20.2" text-anchor="start" >88889</text>
<line x1="84.70" y1="410.70" x2="130.60" y2="410.70" stroke="#ff00ff" stroke-width="2.0"/>
<text x="136.00" y="417.90" font-family='"Liberation Serif", serif' font-size="20.2" text-anchor="start" >111112</text>
<rect x="81.20" y="471.50" width="145.50" height="140.30" fill="#fff" stroke="#000" stroke-width="1.4"/>
<text x="152.70" y="488.60" font-family='"Liberation Serif", serif' font-size="19.0" text-anchor="middle" >A, B</text>
<line x1="81.20" y1="505.50" x2="125.80" y2="505.50" stroke="#404040" stroke-width="2.0"/>
<text x="130.30" y="511.90" font-family='"Liberation Serif", serif' font-size="19.0" text-anchor="start" >0, 0</text>
<line x1="81.20" y1="529.60" x2="125.80" y2="529.60" stroke="#ff0000" stroke-width="2.0"/>
<text x="130.30" y="536.00" font-family='"Liberation Serif", serif' font-size="19.0" text-anchor="start" >22223, 20</text>
<line x1="81.20" y1="553.70" x2="125.80" y2="553.70" stroke="#00ff00" stroke-width="2.0"/>
<text x="130.30" y="560.10" font-family='"Liberation Serif", serif' font-size="19.0" text-anchor="start" >66667, 60</text>
<line x1="81.20" y1="577.60" x2="125.80" y2="577.60" stroke="#0000ff" stroke-width="2.0"/>
<text x="130.30" y="584.00" font-family='"Liberation Serif", serif' font-size="19.0" text-anchor="start" >88889, 80</text>
<line x1="81.20" y1="601.30" x2="125.80" y2="601.30" stroke="#ff00ff" stroke-width="2.0"/>
<text x="130.30" y="607.70" font-family='"Liberation Serif", serif' font-size="19.0" text-anchor="start" >111112, 100</text>
<text x="3.60" y="15.90" font-family='"Liberation Sans", sans-serif' font-size="19.6" text-anchor="start" letter-spacing="0.5">(a)</text>
<text x="3.20" y="256.20" font-family='"Liberation Sans", sans-serif' font-size="19.6" text-anchor="start" letter-spacing="0.5">(c)</text>
<text x="3.00" y="471.80" font-family='"Liberation Sans", sans-serif' font-size="19.6" text-anchor="start" letter-spacing="0.5">(e)</text>
<text x="404.90" y="14.40" font-family='"Liberation Sans", sans-serif' font-size="19.6" text-anchor="start" letter-spacing="0.5">(b)</text>
<text x="404.90" y="256.20" font-family='"Liberation Sans", sans-serif' font-size="19.6" text-anchor="start" letter-spacing="0.5">(d)</text>
<text x="404.90" y="470.90" font-family='"Liberation Sans", sans-serif' font-size="19.6" text-anchor="start" letter-spacing="0.5">(f)</text>
<text x="92.80" y="684.30" font-family='"Liberation Serif", serif' font-size="19.6" text-anchor="middle" >-3</text>
<text x="150.14" y="684.30" font-family='"Liberation Serif", serif' font-size="19.6" text-anchor="middle" >-2</text>
<text x="207.48" y="684.30" font-family='"Liberation Serif", serif' font-size="19.6" text-anchor="middle" >-1</text>
<text x="264.82" y="684.30" font-family='"Liberation Serif", serif' font-size="19.6" text-anchor="middle" >0</text>
<text x="322.16" y="684.30" font-family='"Liberation Serif", serif' font-size="19.6" text-anchor="middle" >1</text>
<text x="379.50" y="684.30" font-family='"Liberation Serif", serif' font-size="19.6" text-anchor="middle" >2</text>
<text x="462.20" y="684.30" font-family='"Liberation Serif", serif' font-size="19.6" text-anchor="middle" >-3</text>
<text x="509.60" y="684.30" font-family='"Liberation Serif", serif' font-size="19.6" text-anchor="middle" >-2</text>
<text x="557.00" y="684.30" font-family='"Liberation Serif", serif' font-size="19.6" text-anchor="middle" >-1</text>
<text x="604.40" y="684.30" font-family='"Liberation Serif", serif' font-size="19.6" text-anchor="middle" >0</text>
<text x="651.80" y="684.30" font-family='"Liberation Serif", serif' font-size="19.6" text-anchor="middle" >1</text>
<text x="699.20" y="684.30" font-family='"Liberation Serif", serif' font-size="19.6" text-anchor="middle" >2</text>
<text x="746.60" y="684.30" font-family='"Liberation Serif", serif' font-size="19.6" text-anchor="middle" >3</text>
<text x="228.50" y="705.30" font-family='"Liberation Serif", serif' font-size="19.6" text-anchor="middle" >Time (ns)</text>
<text x="604.80" y="705.30" font-family='"Liberation Serif", serif' font-size="19.6" text-anchor="middle" >Time (ns)</text>
<text transform="translate(14.2,342.3) rotate(-90)" x="0" y="0" font-family='"Liberation Serif", serif' font-size="20.2" text-anchor="middle">Pulse power (W)</text>
</svg>
</body></html>
